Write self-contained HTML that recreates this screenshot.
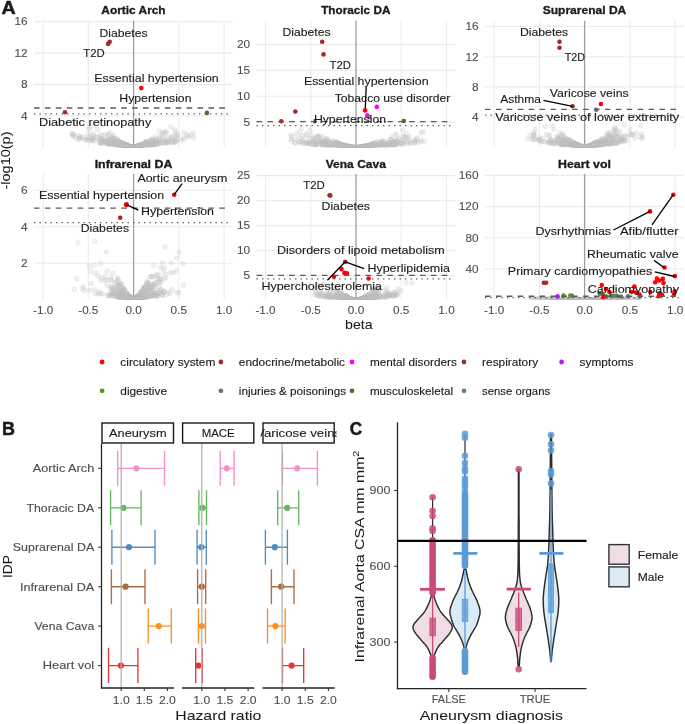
<!DOCTYPE html>
<html><head><meta charset="utf-8"><style>
html,body{margin:0;padding:0;background:#fff;overflow:hidden;}
svg{display:block;will-change:transform;}
text{font-family:"Liberation Sans",sans-serif;}
</style></head><body>
<svg width="685" height="724" viewBox="0 0 685 724">
<rect width="685" height="724" fill="#fff"/>
<g id="panelA">
<path d="M34 116.0H233 M34 84.6H233 M34 53.1H233 M34 21.6H233 M43.1 20.7V147.3 M88.3 20.7V147.3 M178.8 20.7V147.3 M224.1 20.7V147.3" stroke="#ebebeb" stroke-width="1.1" fill="none"/>
<line x1="133.6" y1="20.7" x2="133.6" y2="147.3" stroke="#9e9e9e" stroke-width="1.3"/>
<clipPath id="cpAorticArch"><rect x="34" y="20.7" width="199" height="126.60000000000001"/></clipPath>
<g clip-path="url(#cpAorticArch)" fill="#c4c4c4" fill-opacity="0.25" stroke="#bdbdbd" stroke-opacity="0.3" stroke-width="0.6">
<circle cx="137.0" cy="146.3" r="2.4"/><circle cx="120.4" cy="142.1" r="2.4"/><circle cx="146.2" cy="141.8" r="2.4"/><circle cx="144.8" cy="145.8" r="2.4"/><circle cx="105.6" cy="142.4" r="2.4"/><circle cx="104.6" cy="134.7" r="2.4"/><circle cx="174.9" cy="140.0" r="2.4"/><circle cx="120.7" cy="143.0" r="2.4"/><circle cx="132.7" cy="147.4" r="2.4"/><circle cx="108.8" cy="142.4" r="2.4"/><circle cx="146.1" cy="142.1" r="2.4"/><circle cx="149.2" cy="142.0" r="2.4"/><circle cx="148.9" cy="144.8" r="2.4"/><circle cx="131.6" cy="146.9" r="2.4"/><circle cx="119.1" cy="141.7" r="2.4"/><circle cx="129.6" cy="147.2" r="2.4"/><circle cx="163.1" cy="143.1" r="2.4"/><circle cx="144.1" cy="144.3" r="2.4"/><circle cx="118.4" cy="142.6" r="2.4"/><circle cx="150.0" cy="140.0" r="2.4"/><circle cx="141.0" cy="146.8" r="2.4"/><circle cx="142.7" cy="145.3" r="2.4"/><circle cx="73.2" cy="135.9" r="2.4"/><circle cx="113.5" cy="140.8" r="2.4"/><circle cx="107.6" cy="142.2" r="2.4"/><circle cx="146.3" cy="144.6" r="2.4"/><circle cx="143.5" cy="144.5" r="2.4"/><circle cx="134.5" cy="147.4" r="2.4"/><circle cx="137.9" cy="146.0" r="2.4"/><circle cx="140.4" cy="145.3" r="2.4"/><circle cx="149.6" cy="145.7" r="2.4"/><circle cx="124.0" cy="146.3" r="2.4"/><circle cx="131.5" cy="147.0" r="2.4"/><circle cx="174.8" cy="129.9" r="2.4"/><circle cx="146.1" cy="142.1" r="2.4"/><circle cx="171.8" cy="137.7" r="2.4"/><circle cx="138.3" cy="146.2" r="2.4"/><circle cx="125.1" cy="146.5" r="2.4"/><circle cx="143.0" cy="145.2" r="2.4"/><circle cx="132.1" cy="147.2" r="2.4"/><circle cx="93.7" cy="134.5" r="2.4"/><circle cx="101.6" cy="140.0" r="2.4"/><circle cx="139.4" cy="146.6" r="2.4"/><circle cx="124.4" cy="144.7" r="2.4"/><circle cx="120.3" cy="143.3" r="2.4"/><circle cx="125.8" cy="144.9" r="2.4"/><circle cx="151.9" cy="143.9" r="2.4"/><circle cx="131.7" cy="147.2" r="2.4"/><circle cx="128.3" cy="147.0" r="2.4"/><circle cx="153.8" cy="141.3" r="2.4"/><circle cx="127.2" cy="145.7" r="2.4"/><circle cx="154.0" cy="141.3" r="2.4"/><circle cx="155.0" cy="136.8" r="2.4"/><circle cx="131.0" cy="146.9" r="2.4"/><circle cx="113.0" cy="140.7" r="2.4"/><circle cx="135.1" cy="147.4" r="2.4"/><circle cx="138.6" cy="146.4" r="2.4"/><circle cx="159.6" cy="138.4" r="2.4"/><circle cx="123.6" cy="143.4" r="2.4"/><circle cx="125.0" cy="145.0" r="2.4"/><circle cx="151.2" cy="142.2" r="2.4"/><circle cx="135.3" cy="147.2" r="2.4"/><circle cx="121.1" cy="143.9" r="2.4"/><circle cx="133.8" cy="147.4" r="2.4"/><circle cx="153.5" cy="145.2" r="2.4"/><circle cx="152.4" cy="144.6" r="2.4"/><circle cx="116.8" cy="145.5" r="2.4"/><circle cx="162.9" cy="142.7" r="2.4"/><circle cx="146.7" cy="144.6" r="2.4"/><circle cx="151.6" cy="139.4" r="2.4"/><circle cx="135.0" cy="147.3" r="2.4"/><circle cx="147.6" cy="145.1" r="2.4"/><circle cx="128.0" cy="146.2" r="2.4"/><circle cx="134.3" cy="147.4" r="2.4"/><circle cx="150.9" cy="143.6" r="2.4"/><circle cx="113.8" cy="143.2" r="2.4"/><circle cx="167.5" cy="142.4" r="2.4"/><circle cx="137.1" cy="146.8" r="2.4"/><circle cx="107.0" cy="140.9" r="2.4"/><circle cx="159.2" cy="141.2" r="2.4"/><circle cx="138.9" cy="146.5" r="2.4"/><circle cx="120.6" cy="146.2" r="2.4"/><circle cx="113.9" cy="144.4" r="2.4"/><circle cx="120.5" cy="143.9" r="2.4"/><circle cx="181.0" cy="140.4" r="2.4"/><circle cx="171.6" cy="142.4" r="2.4"/><circle cx="147.1" cy="144.1" r="2.4"/><circle cx="110.2" cy="132.8" r="2.4"/><circle cx="78.6" cy="135.9" r="2.4"/><circle cx="111.6" cy="137.6" r="2.4"/><circle cx="155.3" cy="142.3" r="2.4"/><circle cx="193.6" cy="132.9" r="2.4"/><circle cx="106.5" cy="142.0" r="2.4"/><circle cx="150.6" cy="145.0" r="2.4"/><circle cx="119.4" cy="144.8" r="2.4"/><circle cx="148.5" cy="143.5" r="2.4"/><circle cx="100.1" cy="142.3" r="2.4"/><circle cx="120.3" cy="143.1" r="2.4"/><circle cx="159.8" cy="143.4" r="2.4"/><circle cx="91.4" cy="135.5" r="2.4"/><circle cx="133.4" cy="147.5" r="2.4"/><circle cx="166.8" cy="139.5" r="2.4"/><circle cx="147.0" cy="143.2" r="2.4"/><circle cx="137.9" cy="146.3" r="2.4"/><circle cx="118.8" cy="145.9" r="2.4"/><circle cx="125.4" cy="144.3" r="2.4"/><circle cx="80.2" cy="136.3" r="2.4"/><circle cx="102.4" cy="139.4" r="2.4"/><circle cx="100.0" cy="142.1" r="2.4"/><circle cx="94.1" cy="136.3" r="2.4"/><circle cx="173.8" cy="142.3" r="2.4"/><circle cx="117.7" cy="140.5" r="2.4"/><circle cx="133.6" cy="147.5" r="2.4"/><circle cx="96.1" cy="137.7" r="2.4"/><circle cx="136.9" cy="147.1" r="2.4"/><circle cx="183.7" cy="139.1" r="2.4"/><circle cx="152.6" cy="143.9" r="2.4"/><circle cx="124.7" cy="146.3" r="2.4"/><circle cx="134.0" cy="147.4" r="2.4"/><circle cx="91.6" cy="140.3" r="2.4"/><circle cx="132.7" cy="147.3" r="2.4"/><circle cx="141.1" cy="146.5" r="2.4"/><circle cx="147.1" cy="144.2" r="2.4"/><circle cx="147.1" cy="142.1" r="2.4"/><circle cx="130.3" cy="146.5" r="2.4"/><circle cx="127.2" cy="145.0" r="2.4"/><circle cx="115.0" cy="145.1" r="2.4"/><circle cx="130.9" cy="146.7" r="2.4"/><circle cx="186.7" cy="134.6" r="2.4"/><circle cx="113.0" cy="139.1" r="2.4"/><circle cx="137.7" cy="146.8" r="2.4"/><circle cx="86.0" cy="139.6" r="2.4"/><circle cx="188.4" cy="136.8" r="2.4"/><circle cx="127.3" cy="146.1" r="2.4"/><circle cx="113.3" cy="139.4" r="2.4"/><circle cx="95.0" cy="140.7" r="2.4"/><circle cx="159.5" cy="131.4" r="2.4"/><circle cx="175.7" cy="132.1" r="2.4"/><circle cx="121.7" cy="144.1" r="2.4"/><circle cx="100.5" cy="143.1" r="2.4"/><circle cx="127.8" cy="146.9" r="2.4"/><circle cx="91.9" cy="139.4" r="2.4"/><circle cx="115.2" cy="144.2" r="2.4"/><circle cx="137.2" cy="147.1" r="2.4"/><circle cx="130.1" cy="146.8" r="2.4"/><circle cx="191.9" cy="135.6" r="2.4"/><circle cx="156.0" cy="139.1" r="2.4"/><circle cx="131.0" cy="147.1" r="2.4"/><circle cx="133.1" cy="147.4" r="2.4"/><circle cx="113.8" cy="143.5" r="2.4"/><circle cx="131.2" cy="147.3" r="2.4"/><circle cx="166.7" cy="131.8" r="2.4"/><circle cx="114.9" cy="144.6" r="2.4"/><circle cx="140.6" cy="146.6" r="2.4"/><circle cx="148.7" cy="142.9" r="2.4"/><circle cx="72.8" cy="135.6" r="2.4"/><circle cx="102.1" cy="142.1" r="2.4"/><circle cx="162.5" cy="132.5" r="2.4"/><circle cx="121.4" cy="143.7" r="2.4"/><circle cx="118.8" cy="145.0" r="2.4"/><circle cx="149.2" cy="142.5" r="2.4"/><circle cx="92.7" cy="140.6" r="2.4"/><circle cx="149.3" cy="145.8" r="2.4"/><circle cx="152.8" cy="140.1" r="2.4"/><circle cx="149.2" cy="143.2" r="2.4"/><circle cx="132.2" cy="147.3" r="2.4"/><circle cx="139.9" cy="146.1" r="2.4"/><circle cx="115.4" cy="144.1" r="2.4"/><circle cx="139.8" cy="146.9" r="2.4"/><circle cx="148.5" cy="144.3" r="2.4"/><circle cx="119.1" cy="145.1" r="2.4"/><circle cx="120.2" cy="145.9" r="2.4"/><circle cx="89.1" cy="127.4" r="2.4"/><circle cx="134.2" cy="147.4" r="2.4"/><circle cx="149.9" cy="145.4" r="2.4"/><circle cx="118.0" cy="139.8" r="2.4"/><circle cx="126.4" cy="144.7" r="2.4"/><circle cx="131.9" cy="147.3" r="2.4"/><circle cx="134.3" cy="147.3" r="2.4"/><circle cx="135.6" cy="147.0" r="2.4"/><circle cx="159.0" cy="143.9" r="2.4"/><circle cx="121.4" cy="143.4" r="2.4"/><circle cx="135.2" cy="147.3" r="2.4"/><circle cx="127.5" cy="146.5" r="2.4"/><circle cx="137.5" cy="146.3" r="2.4"/><circle cx="120.0" cy="143.9" r="2.4"/><circle cx="138.1" cy="146.9" r="2.4"/><circle cx="121.3" cy="143.9" r="2.4"/><circle cx="100.0" cy="142.8" r="2.4"/><circle cx="136.4" cy="146.7" r="2.4"/><circle cx="113.5" cy="138.2" r="2.4"/><circle cx="108.8" cy="139.2" r="2.4"/><circle cx="121.4" cy="146.2" r="2.4"/><circle cx="113.9" cy="140.4" r="2.4"/><circle cx="175.1" cy="141.8" r="2.4"/><circle cx="137.7" cy="146.8" r="2.4"/><circle cx="121.6" cy="145.5" r="2.4"/><circle cx="133.6" cy="147.5" r="2.4"/><circle cx="146.2" cy="143.3" r="2.4"/><circle cx="91.6" cy="140.4" r="2.4"/><circle cx="136.8" cy="147.1" r="2.4"/><circle cx="134.0" cy="147.4" r="2.4"/><circle cx="109.3" cy="141.4" r="2.4"/><circle cx="133.8" cy="147.5" r="2.4"/><circle cx="122.4" cy="144.5" r="2.4"/><circle cx="100.0" cy="135.8" r="2.4"/><circle cx="162.1" cy="134.0" r="2.4"/><circle cx="166.4" cy="143.2" r="2.4"/><circle cx="149.4" cy="143.8" r="2.4"/><circle cx="113.8" cy="144.8" r="2.4"/><circle cx="109.1" cy="144.0" r="2.4"/><circle cx="165.7" cy="142.7" r="2.4"/><circle cx="104.7" cy="140.3" r="2.4"/><circle cx="115.4" cy="138.3" r="2.4"/><circle cx="142.1" cy="145.6" r="2.4"/><circle cx="127.1" cy="145.1" r="2.4"/><circle cx="171.2" cy="139.2" r="2.4"/><circle cx="134.9" cy="147.3" r="2.4"/><circle cx="108.8" cy="140.1" r="2.4"/><circle cx="129.1" cy="146.6" r="2.4"/><circle cx="110.2" cy="143.7" r="2.4"/><circle cx="127.0" cy="145.6" r="2.4"/><circle cx="152.2" cy="143.1" r="2.4"/><circle cx="120.5" cy="145.0" r="2.4"/><circle cx="146.3" cy="141.8" r="2.4"/><circle cx="123.4" cy="146.2" r="2.4"/><circle cx="101.3" cy="143.3" r="2.4"/><circle cx="89.5" cy="129.2" r="2.4"/><circle cx="140.1" cy="145.1" r="2.4"/><circle cx="102.3" cy="140.7" r="2.4"/><circle cx="139.0" cy="145.8" r="2.4"/><circle cx="193.7" cy="138.0" r="2.4"/><circle cx="137.4" cy="146.4" r="2.4"/><circle cx="128.5" cy="146.7" r="2.4"/><circle cx="156.0" cy="142.2" r="2.4"/><circle cx="82.8" cy="137.0" r="2.4"/><circle cx="177.7" cy="139.2" r="2.4"/><circle cx="169.1" cy="142.3" r="2.4"/><circle cx="116.2" cy="142.3" r="2.4"/><circle cx="133.6" cy="147.5" r="2.4"/><circle cx="117.4" cy="141.8" r="2.4"/><circle cx="165.0" cy="131.9" r="2.4"/><circle cx="127.9" cy="145.4" r="2.4"/><circle cx="175.8" cy="141.4" r="2.4"/><circle cx="133.5" cy="147.5" r="2.4"/><circle cx="120.9" cy="143.8" r="2.4"/><circle cx="123.2" cy="146.5" r="2.4"/><circle cx="132.7" cy="147.4" r="2.4"/><circle cx="152.1" cy="143.4" r="2.4"/><circle cx="160.0" cy="140.8" r="2.4"/><circle cx="145.8" cy="144.2" r="2.4"/><circle cx="132.8" cy="147.4" r="2.4"/><circle cx="107.7" cy="143.1" r="2.4"/><circle cx="171.8" cy="136.4" r="2.4"/><circle cx="142.9" cy="144.4" r="2.4"/><circle cx="143.1" cy="146.6" r="2.4"/><circle cx="104.2" cy="141.6" r="2.4"/><circle cx="122.5" cy="142.4" r="2.4"/><circle cx="134.3" cy="147.4" r="2.4"/><circle cx="127.6" cy="146.8" r="2.4"/><circle cx="176.3" cy="137.3" r="2.4"/><circle cx="144.4" cy="145.4" r="2.4"/><circle cx="134.3" cy="147.3" r="2.4"/><circle cx="121.4" cy="146.1" r="2.4"/><circle cx="123.7" cy="144.1" r="2.4"/><circle cx="163.9" cy="141.1" r="2.4"/><circle cx="135.0" cy="147.3" r="2.4"/><circle cx="130.9" cy="146.6" r="2.4"/><circle cx="135.4" cy="147.3" r="2.4"/><circle cx="188.0" cy="135.9" r="2.4"/><circle cx="88.0" cy="137.4" r="2.4"/><circle cx="71.6" cy="133.7" r="2.4"/><circle cx="175.1" cy="134.9" r="2.4"/><circle cx="141.0" cy="144.7" r="2.4"/><circle cx="134.3" cy="147.3" r="2.4"/><circle cx="123.1" cy="144.7" r="2.4"/><circle cx="173.1" cy="142.3" r="2.4"/><circle cx="122.1" cy="145.1" r="2.4"/><circle cx="112.5" cy="143.7" r="2.4"/><circle cx="108.6" cy="144.5" r="2.4"/><circle cx="125.7" cy="146.7" r="2.4"/><circle cx="150.5" cy="143.4" r="2.4"/><circle cx="175.9" cy="141.6" r="2.4"/><circle cx="177.6" cy="134.8" r="2.4"/><circle cx="133.6" cy="147.5" r="2.4"/><circle cx="129.5" cy="147.1" r="2.4"/><circle cx="137.8" cy="146.4" r="2.4"/><circle cx="86.3" cy="139.7" r="2.4"/><circle cx="131.7" cy="147.0" r="2.4"/><circle cx="153.6" cy="143.8" r="2.4"/><circle cx="141.1" cy="146.6" r="2.4"/><circle cx="130.0" cy="146.8" r="2.4"/><circle cx="141.0" cy="145.5" r="2.4"/><circle cx="129.7" cy="147.0" r="2.4"/><circle cx="171.0" cy="126.8" r="2.4"/><circle cx="152.5" cy="144.8" r="2.4"/><circle cx="89.3" cy="140.2" r="2.4"/><circle cx="135.6" cy="147.0" r="2.4"/><circle cx="86.1" cy="140.1" r="2.4"/><circle cx="173.0" cy="140.3" r="2.4"/><circle cx="73.6" cy="122.0" r="2.4"/><circle cx="130.9" cy="146.8" r="2.4"/><circle cx="124.5" cy="145.2" r="2.4"/><circle cx="159.5" cy="137.4" r="2.4"/><circle cx="129.7" cy="146.7" r="2.4"/><circle cx="140.8" cy="144.9" r="2.4"/><circle cx="119.9" cy="142.3" r="2.4"/><circle cx="168.5" cy="141.2" r="2.4"/><circle cx="127.2" cy="146.0" r="2.4"/><circle cx="137.1" cy="146.7" r="2.4"/><circle cx="110.0" cy="139.6" r="2.4"/><circle cx="159.1" cy="143.2" r="2.4"/><circle cx="137.3" cy="146.2" r="2.4"/><circle cx="130.5" cy="146.7" r="2.4"/><circle cx="139.9" cy="145.3" r="2.4"/><circle cx="136.9" cy="146.4" r="2.4"/><circle cx="143.8" cy="145.6" r="2.4"/><circle cx="125.9" cy="145.9" r="2.4"/><circle cx="88.0" cy="133.9" r="2.4"/><circle cx="109.8" cy="142.8" r="2.4"/><circle cx="162.7" cy="142.6" r="2.4"/><circle cx="126.8" cy="145.7" r="2.4"/><circle cx="146.6" cy="144.5" r="2.4"/><circle cx="137.2" cy="147.2" r="2.4"/><circle cx="116.0" cy="140.6" r="2.4"/><circle cx="145.8" cy="142.3" r="2.4"/><circle cx="152.4" cy="141.2" r="2.4"/><circle cx="139.4" cy="146.4" r="2.4"/><circle cx="135.2" cy="147.3" r="2.4"/><circle cx="166.0" cy="142.7" r="2.4"/><circle cx="139.4" cy="145.9" r="2.4"/><circle cx="110.8" cy="143.5" r="2.4"/><circle cx="125.1" cy="144.9" r="2.4"/><circle cx="121.3" cy="146.0" r="2.4"/><circle cx="154.4" cy="141.3" r="2.4"/><circle cx="139.7" cy="146.8" r="2.4"/><circle cx="137.5" cy="146.5" r="2.4"/><circle cx="116.3" cy="138.3" r="2.4"/><circle cx="132.6" cy="147.4" r="2.4"/><circle cx="134.3" cy="147.4" r="2.4"/><circle cx="107.6" cy="143.9" r="2.4"/><circle cx="125.6" cy="145.5" r="2.4"/><circle cx="136.7" cy="146.8" r="2.4"/><circle cx="110.8" cy="143.1" r="2.4"/><circle cx="123.0" cy="146.5" r="2.4"/><circle cx="118.1" cy="141.0" r="2.4"/><circle cx="163.1" cy="138.2" r="2.4"/><circle cx="106.1" cy="142.0" r="2.4"/><circle cx="106.0" cy="142.1" r="2.4"/><circle cx="133.8" cy="147.5" r="2.4"/><circle cx="124.4" cy="146.5" r="2.4"/><circle cx="102.9" cy="140.7" r="2.4"/><circle cx="117.9" cy="143.9" r="2.4"/><circle cx="140.6" cy="146.8" r="2.4"/><circle cx="136.6" cy="146.8" r="2.4"/><circle cx="122.1" cy="144.4" r="2.4"/><circle cx="117.4" cy="144.4" r="2.4"/><circle cx="147.9" cy="144.5" r="2.4"/><circle cx="115.5" cy="142.7" r="2.4"/><circle cx="183.7" cy="132.8" r="2.4"/><circle cx="147.0" cy="144.1" r="2.4"/><circle cx="130.5" cy="146.7" r="2.4"/><circle cx="139.7" cy="145.5" r="2.4"/><circle cx="93.2" cy="138.9" r="2.4"/><circle cx="101.9" cy="138.9" r="2.4"/><circle cx="157.3" cy="143.3" r="2.4"/><circle cx="135.9" cy="146.9" r="2.4"/><circle cx="126.2" cy="145.7" r="2.4"/><circle cx="131.3" cy="147.3" r="2.4"/><circle cx="147.0" cy="145.5" r="2.4"/><circle cx="147.2" cy="146.0" r="2.4"/><circle cx="134.9" cy="147.2" r="2.4"/><circle cx="152.2" cy="141.7" r="2.4"/><circle cx="165.5" cy="133.1" r="2.4"/><circle cx="135.7" cy="146.9" r="2.4"/><circle cx="136.9" cy="146.8" r="2.4"/><circle cx="126.0" cy="146.1" r="2.4"/><circle cx="142.0" cy="144.3" r="2.4"/><circle cx="119.0" cy="145.9" r="2.4"/><circle cx="120.0" cy="143.8" r="2.4"/><circle cx="108.0" cy="135.0" r="2.4"/><circle cx="140.5" cy="146.4" r="2.4"/><circle cx="142.6" cy="146.4" r="2.4"/><circle cx="81.2" cy="138.7" r="2.4"/><circle cx="134.1" cy="147.4" r="2.4"/><circle cx="124.8" cy="146.4" r="2.4"/><circle cx="113.0" cy="134.8" r="2.4"/><circle cx="97.6" cy="129.6" r="2.4"/><circle cx="136.4" cy="146.8" r="2.4"/><circle cx="145.2" cy="144.6" r="2.4"/><circle cx="146.8" cy="145.8" r="2.4"/><circle cx="149.8" cy="145.7" r="2.4"/><circle cx="129.8" cy="147.1" r="2.4"/><circle cx="72.6" cy="134.0" r="2.4"/><circle cx="111.1" cy="141.3" r="2.4"/><circle cx="125.4" cy="144.9" r="2.4"/><circle cx="143.9" cy="144.3" r="2.4"/><circle cx="127.7" cy="145.2" r="2.4"/><circle cx="148.6" cy="143.6" r="2.4"/><circle cx="162.3" cy="136.6" r="2.4"/><circle cx="126.6" cy="146.0" r="2.4"/><circle cx="154.1" cy="145.0" r="2.4"/><circle cx="122.1" cy="146.4" r="2.4"/><circle cx="108.0" cy="134.3" r="2.4"/><circle cx="128.6" cy="145.9" r="2.4"/><circle cx="126.1" cy="145.3" r="2.4"/><circle cx="144.2" cy="144.5" r="2.4"/><circle cx="171.3" cy="142.0" r="2.4"/><circle cx="156.5" cy="141.3" r="2.4"/><circle cx="145.5" cy="142.4" r="2.4"/><circle cx="153.1" cy="139.6" r="2.4"/><circle cx="138.1" cy="146.0" r="2.4"/><circle cx="141.5" cy="146.2" r="2.4"/><circle cx="112.9" cy="145.2" r="2.4"/><circle cx="155.0" cy="140.8" r="2.4"/><circle cx="103.6" cy="142.8" r="2.4"/><circle cx="166.6" cy="140.3" r="2.4"/><circle cx="146.6" cy="143.9" r="2.4"/><circle cx="109.7" cy="139.6" r="2.4"/><circle cx="145.5" cy="143.9" r="2.4"/><circle cx="146.0" cy="144.4" r="2.4"/><circle cx="141.7" cy="145.4" r="2.4"/><circle cx="94.2" cy="125.6" r="2.4"/><circle cx="137.1" cy="147.1" r="2.4"/><circle cx="131.8" cy="147.0" r="2.4"/><circle cx="134.6" cy="147.3" r="2.4"/><circle cx="138.2" cy="146.0" r="2.4"/><circle cx="97.7" cy="137.6" r="2.4"/><circle cx="139.3" cy="146.0" r="2.4"/><circle cx="132.3" cy="147.3" r="2.4"/><circle cx="125.3" cy="146.4" r="2.4"/><circle cx="110.2" cy="141.2" r="2.4"/><circle cx="119.8" cy="145.7" r="2.4"/><circle cx="138.3" cy="146.3" r="2.4"/><circle cx="168.5" cy="137.5" r="2.4"/><circle cx="121.1" cy="146.2" r="2.4"/><circle cx="126.5" cy="146.8" r="2.4"/><circle cx="80.2" cy="137.8" r="2.4"/><circle cx="100.2" cy="138.5" r="2.4"/><circle cx="126.9" cy="146.7" r="2.4"/><circle cx="78.8" cy="138.7" r="2.4"/><circle cx="139.2" cy="145.5" r="2.4"/><circle cx="140.8" cy="145.1" r="2.4"/><circle cx="149.3" cy="143.3" r="2.4"/><circle cx="132.3" cy="147.1" r="2.4"/><circle cx="125.4" cy="146.2" r="2.4"/><circle cx="109.3" cy="144.2" r="2.4"/><circle cx="101.5" cy="134.9" r="2.4"/><circle cx="142.9" cy="144.1" r="2.4"/><circle cx="146.2" cy="144.4" r="2.4"/><circle cx="137.1" cy="146.7" r="2.4"/><circle cx="157.3" cy="144.2" r="2.4"/><circle cx="146.6" cy="142.8" r="2.4"/><circle cx="121.2" cy="145.8" r="2.4"/><circle cx="147.6" cy="144.4" r="2.4"/><circle cx="75.7" cy="138.0" r="2.4"/><circle cx="146.4" cy="145.2" r="2.4"/><circle cx="118.1" cy="140.1" r="2.4"/><circle cx="126.2" cy="145.6" r="2.4"/><circle cx="155.0" cy="143.7" r="2.4"/><circle cx="147.0" cy="144.6" r="2.4"/><circle cx="116.8" cy="143.6" r="2.4"/><circle cx="99.9" cy="138.9" r="2.4"/><circle cx="134.7" cy="147.4" r="2.4"/><circle cx="129.6" cy="147.1" r="2.4"/><circle cx="129.4" cy="146.7" r="2.4"/><circle cx="107.2" cy="142.6" r="2.4"/><circle cx="140.6" cy="146.3" r="2.4"/><circle cx="107.3" cy="141.0" r="2.4"/><circle cx="146.7" cy="144.7" r="2.4"/><circle cx="136.0" cy="147.3" r="2.4"/><circle cx="118.6" cy="141.5" r="2.4"/><circle cx="116.5" cy="145.0" r="2.4"/><circle cx="138.0" cy="146.7" r="2.4"/><circle cx="119.0" cy="146.0" r="2.4"/><circle cx="149.4" cy="142.1" r="2.4"/><circle cx="177.4" cy="135.8" r="2.4"/><circle cx="156.4" cy="144.3" r="2.4"/><circle cx="121.9" cy="144.3" r="2.4"/><circle cx="140.2" cy="146.6" r="2.4"/><circle cx="142.4" cy="146.4" r="2.4"/><circle cx="123.6" cy="144.6" r="2.4"/><circle cx="135.9" cy="147.0" r="2.4"/><circle cx="149.5" cy="143.9" r="2.4"/><circle cx="183.5" cy="138.7" r="2.4"/><circle cx="106.4" cy="137.2" r="2.4"/><circle cx="132.5" cy="147.2" r="2.4"/><circle cx="137.2" cy="146.4" r="2.4"/><circle cx="136.8" cy="147.2" r="2.4"/><circle cx="140.5" cy="145.2" r="2.4"/><circle cx="160.8" cy="142.4" r="2.4"/><circle cx="152.0" cy="144.9" r="2.4"/><circle cx="113.0" cy="137.1" r="2.4"/><circle cx="122.7" cy="145.5" r="2.4"/><circle cx="126.1" cy="145.3" r="2.4"/><circle cx="148.2" cy="142.3" r="2.4"/><circle cx="128.4" cy="146.2" r="2.4"/><circle cx="130.9" cy="147.0" r="2.4"/><circle cx="78.9" cy="139.4" r="2.4"/><circle cx="119.3" cy="143.9" r="2.4"/><circle cx="90.3" cy="137.4" r="2.4"/><circle cx="144.0" cy="144.5" r="2.4"/><circle cx="107.4" cy="139.9" r="2.4"/><circle cx="155.8" cy="143.8" r="2.4"/><circle cx="143.5" cy="146.3" r="2.4"/><circle cx="143.5" cy="146.0" r="2.4"/><circle cx="137.8" cy="146.7" r="2.4"/><circle cx="126.3" cy="146.5" r="2.4"/><circle cx="152.1" cy="143.9" r="2.4"/><circle cx="140.9" cy="146.2" r="2.4"/><circle cx="105.9" cy="143.3" r="2.4"/><circle cx="111.6" cy="138.4" r="2.4"/><circle cx="156.3" cy="141.4" r="2.4"/><circle cx="121.7" cy="144.2" r="2.4"/><circle cx="73.8" cy="134.3" r="2.4"/><circle cx="144.9" cy="142.5" r="2.4"/><circle cx="131.6" cy="147.0" r="2.4"/><circle cx="125.9" cy="144.4" r="2.4"/><circle cx="126.4" cy="145.3" r="2.4"/><circle cx="125.9" cy="146.5" r="2.4"/><circle cx="107.3" cy="141.9" r="2.4"/><circle cx="122.8" cy="142.9" r="2.4"/><circle cx="110.6" cy="139.7" r="2.4"/><circle cx="155.8" cy="144.9" r="2.4"/><circle cx="156.2" cy="140.3" r="2.4"/><circle cx="136.5" cy="146.9" r="2.4"/><circle cx="154.0" cy="142.3" r="2.4"/><circle cx="137.6" cy="146.5" r="2.4"/>
</g>
<text x="27.5" y="119.8" font-size="10.5" text-anchor="end" fill="#4d4d4d" stroke="#4d4d4d" stroke-width="0.1" textLength="6.6" lengthAdjust="spacingAndGlyphs">4</text>
<text x="27.5" y="88.4" font-size="10.5" text-anchor="end" fill="#4d4d4d" stroke="#4d4d4d" stroke-width="0.1" textLength="6.6" lengthAdjust="spacingAndGlyphs">8</text>
<text x="27.5" y="56.9" font-size="10.5" text-anchor="end" fill="#4d4d4d" stroke="#4d4d4d" stroke-width="0.1" textLength="13.1" lengthAdjust="spacingAndGlyphs">12</text>
<text x="27.5" y="25.4" font-size="10.5" text-anchor="end" fill="#4d4d4d" stroke="#4d4d4d" stroke-width="0.1" textLength="13.1" lengthAdjust="spacingAndGlyphs">16</text>
<text x="133.5" y="14.4" font-size="10.8" text-anchor="middle" font-weight="bold" fill="#1a1a1a" stroke="#1a1a1a" stroke-width="0.3" textLength="64.3" lengthAdjust="spacingAndGlyphs">Aortic Arch</text>
<path d="M256.5 122.0H455 M256.5 96.2H455 M256.5 70.4H455 M256.5 44.6H455 M265.5 20.7V147.3 M310.8 20.7V147.3 M401.2 20.7V147.3 M446.5 20.7V147.3" stroke="#ebebeb" stroke-width="1.1" fill="none"/>
<line x1="356.0" y1="20.7" x2="356.0" y2="147.3" stroke="#9e9e9e" stroke-width="1.3"/>
<clipPath id="cpThoracicDA"><rect x="256.5" y="20.7" width="198.5" height="126.60000000000001"/></clipPath>
<g clip-path="url(#cpThoracicDA)" fill="#c4c4c4" fill-opacity="0.25" stroke="#bdbdbd" stroke-opacity="0.3" stroke-width="0.6">
<circle cx="366.3" cy="146.9" r="2.4"/><circle cx="367.8" cy="146.9" r="2.4"/><circle cx="300.4" cy="141.5" r="2.4"/><circle cx="330.1" cy="144.5" r="2.4"/><circle cx="342.9" cy="144.9" r="2.4"/><circle cx="378.0" cy="144.5" r="2.4"/><circle cx="382.1" cy="141.8" r="2.4"/><circle cx="331.0" cy="146.2" r="2.4"/><circle cx="387.3" cy="144.9" r="2.4"/><circle cx="385.4" cy="145.1" r="2.4"/><circle cx="421.0" cy="132.9" r="2.4"/><circle cx="381.4" cy="142.5" r="2.4"/><circle cx="356.1" cy="147.8" r="2.4"/><circle cx="369.5" cy="146.9" r="2.4"/><circle cx="342.5" cy="145.6" r="2.4"/><circle cx="416.6" cy="138.0" r="2.4"/><circle cx="368.9" cy="146.4" r="2.4"/><circle cx="359.0" cy="147.4" r="2.4"/><circle cx="371.8" cy="145.6" r="2.4"/><circle cx="306.1" cy="134.0" r="2.4"/><circle cx="358.3" cy="147.5" r="2.4"/><circle cx="360.2" cy="147.3" r="2.4"/><circle cx="291.7" cy="141.2" r="2.4"/><circle cx="337.8" cy="144.2" r="2.4"/><circle cx="354.5" cy="147.6" r="2.4"/><circle cx="323.5" cy="137.5" r="2.4"/><circle cx="403.2" cy="136.2" r="2.4"/><circle cx="345.5" cy="145.7" r="2.4"/><circle cx="354.7" cy="147.6" r="2.4"/><circle cx="354.1" cy="147.5" r="2.4"/><circle cx="373.5" cy="145.8" r="2.4"/><circle cx="369.4" cy="146.0" r="2.4"/><circle cx="384.3" cy="145.5" r="2.4"/><circle cx="391.0" cy="139.8" r="2.4"/><circle cx="392.6" cy="142.5" r="2.4"/><circle cx="295.5" cy="139.2" r="2.4"/><circle cx="367.3" cy="147.0" r="2.4"/><circle cx="344.5" cy="146.3" r="2.4"/><circle cx="374.4" cy="146.3" r="2.4"/><circle cx="387.1" cy="142.2" r="2.4"/><circle cx="373.1" cy="144.4" r="2.4"/><circle cx="295.1" cy="142.8" r="2.4"/><circle cx="390.1" cy="145.1" r="2.4"/><circle cx="324.5" cy="143.6" r="2.4"/><circle cx="331.0" cy="142.7" r="2.4"/><circle cx="404.2" cy="136.6" r="2.4"/><circle cx="340.1" cy="146.8" r="2.4"/><circle cx="340.8" cy="146.9" r="2.4"/><circle cx="328.3" cy="139.4" r="2.4"/><circle cx="365.4" cy="146.9" r="2.4"/><circle cx="328.8" cy="144.9" r="2.4"/><circle cx="341.2" cy="144.9" r="2.4"/><circle cx="334.7" cy="143.9" r="2.4"/><circle cx="363.1" cy="146.9" r="2.4"/><circle cx="341.0" cy="145.1" r="2.4"/><circle cx="337.8" cy="145.6" r="2.4"/><circle cx="296.1" cy="133.5" r="2.4"/><circle cx="385.6" cy="145.9" r="2.4"/><circle cx="319.6" cy="141.0" r="2.4"/><circle cx="308.9" cy="143.5" r="2.4"/><circle cx="368.9" cy="147.1" r="2.4"/><circle cx="366.4" cy="145.8" r="2.4"/><circle cx="361.5" cy="147.5" r="2.4"/><circle cx="380.6" cy="145.1" r="2.4"/><circle cx="362.8" cy="146.7" r="2.4"/><circle cx="299.5" cy="141.5" r="2.4"/><circle cx="363.5" cy="147.4" r="2.4"/><circle cx="371.1" cy="144.6" r="2.4"/><circle cx="350.2" cy="146.8" r="2.4"/><circle cx="334.1" cy="144.5" r="2.4"/><circle cx="368.4" cy="147.0" r="2.4"/><circle cx="402.8" cy="130.1" r="2.4"/><circle cx="334.2" cy="145.9" r="2.4"/><circle cx="378.5" cy="145.9" r="2.4"/><circle cx="376.3" cy="145.3" r="2.4"/><circle cx="410.6" cy="142.7" r="2.4"/><circle cx="342.8" cy="145.9" r="2.4"/><circle cx="396.9" cy="143.8" r="2.4"/><circle cx="360.7" cy="147.4" r="2.4"/><circle cx="389.5" cy="145.3" r="2.4"/><circle cx="351.5" cy="147.3" r="2.4"/><circle cx="358.9" cy="147.4" r="2.4"/><circle cx="329.2" cy="143.7" r="2.4"/><circle cx="380.9" cy="144.9" r="2.4"/><circle cx="403.8" cy="143.9" r="2.4"/><circle cx="354.6" cy="147.6" r="2.4"/><circle cx="338.4" cy="146.0" r="2.4"/><circle cx="331.9" cy="145.3" r="2.4"/><circle cx="376.8" cy="145.1" r="2.4"/><circle cx="323.2" cy="141.9" r="2.4"/><circle cx="340.7" cy="146.7" r="2.4"/><circle cx="363.2" cy="147.2" r="2.4"/><circle cx="308.7" cy="143.4" r="2.4"/><circle cx="325.6" cy="143.8" r="2.4"/><circle cx="375.0" cy="145.4" r="2.4"/><circle cx="337.3" cy="145.2" r="2.4"/><circle cx="348.5" cy="146.5" r="2.4"/><circle cx="302.7" cy="143.0" r="2.4"/><circle cx="323.2" cy="145.2" r="2.4"/><circle cx="362.2" cy="146.9" r="2.4"/><circle cx="370.4" cy="144.9" r="2.4"/><circle cx="350.0" cy="147.3" r="2.4"/><circle cx="335.8" cy="145.8" r="2.4"/><circle cx="369.1" cy="146.7" r="2.4"/><circle cx="345.7" cy="146.5" r="2.4"/><circle cx="354.0" cy="147.5" r="2.4"/><circle cx="414.3" cy="142.7" r="2.4"/><circle cx="319.2" cy="143.7" r="2.4"/><circle cx="420.6" cy="142.1" r="2.4"/><circle cx="336.9" cy="144.7" r="2.4"/><circle cx="360.2" cy="147.2" r="2.4"/><circle cx="357.7" cy="147.6" r="2.4"/><circle cx="343.7" cy="146.5" r="2.4"/><circle cx="332.8" cy="143.9" r="2.4"/><circle cx="315.2" cy="142.5" r="2.4"/><circle cx="351.3" cy="147.0" r="2.4"/><circle cx="414.4" cy="141.3" r="2.4"/><circle cx="351.5" cy="147.1" r="2.4"/><circle cx="363.6" cy="146.8" r="2.4"/><circle cx="351.0" cy="147.5" r="2.4"/><circle cx="347.1" cy="146.7" r="2.4"/><circle cx="338.2" cy="145.9" r="2.4"/><circle cx="336.4" cy="143.6" r="2.4"/><circle cx="352.5" cy="147.3" r="2.4"/><circle cx="367.6" cy="146.1" r="2.4"/><circle cx="368.5" cy="146.6" r="2.4"/><circle cx="299.2" cy="142.9" r="2.4"/><circle cx="341.5" cy="146.9" r="2.4"/><circle cx="342.1" cy="145.2" r="2.4"/><circle cx="355.7" cy="147.8" r="2.4"/><circle cx="323.8" cy="141.6" r="2.4"/><circle cx="387.7" cy="143.4" r="2.4"/><circle cx="410.1" cy="143.0" r="2.4"/><circle cx="320.0" cy="139.7" r="2.4"/><circle cx="364.8" cy="146.3" r="2.4"/><circle cx="330.1" cy="146.2" r="2.4"/><circle cx="371.2" cy="144.4" r="2.4"/><circle cx="327.8" cy="145.6" r="2.4"/><circle cx="353.6" cy="147.4" r="2.4"/><circle cx="421.2" cy="140.2" r="2.4"/><circle cx="362.1" cy="147.0" r="2.4"/><circle cx="388.5" cy="143.7" r="2.4"/><circle cx="357.8" cy="147.6" r="2.4"/><circle cx="341.4" cy="146.3" r="2.4"/><circle cx="372.6" cy="143.5" r="2.4"/><circle cx="365.7" cy="146.8" r="2.4"/><circle cx="359.6" cy="147.5" r="2.4"/><circle cx="318.7" cy="136.2" r="2.4"/><circle cx="313.7" cy="144.5" r="2.4"/><circle cx="307.6" cy="143.1" r="2.4"/><circle cx="343.8" cy="146.7" r="2.4"/><circle cx="341.4" cy="145.9" r="2.4"/><circle cx="346.9" cy="145.9" r="2.4"/><circle cx="344.6" cy="146.4" r="2.4"/><circle cx="340.1" cy="143.8" r="2.4"/><circle cx="322.1" cy="145.4" r="2.4"/><circle cx="378.2" cy="146.2" r="2.4"/><circle cx="315.5" cy="144.7" r="2.4"/><circle cx="303.7" cy="143.2" r="2.4"/><circle cx="393.9" cy="141.8" r="2.4"/><circle cx="327.9" cy="144.1" r="2.4"/><circle cx="351.4" cy="147.2" r="2.4"/><circle cx="333.2" cy="141.7" r="2.4"/><circle cx="345.9" cy="147.1" r="2.4"/><circle cx="360.7" cy="147.2" r="2.4"/><circle cx="326.3" cy="139.9" r="2.4"/><circle cx="375.9" cy="144.3" r="2.4"/><circle cx="371.0" cy="146.9" r="2.4"/><circle cx="395.2" cy="143.2" r="2.4"/><circle cx="377.4" cy="145.9" r="2.4"/><circle cx="381.4" cy="141.0" r="2.4"/><circle cx="331.6" cy="144.8" r="2.4"/><circle cx="303.2" cy="141.1" r="2.4"/><circle cx="310.6" cy="134.9" r="2.4"/><circle cx="315.8" cy="143.8" r="2.4"/><circle cx="360.7" cy="146.9" r="2.4"/><circle cx="372.8" cy="145.4" r="2.4"/><circle cx="357.5" cy="147.7" r="2.4"/><circle cx="366.0" cy="147.0" r="2.4"/><circle cx="371.0" cy="144.7" r="2.4"/><circle cx="340.8" cy="145.9" r="2.4"/><circle cx="326.4" cy="138.7" r="2.4"/><circle cx="361.3" cy="146.8" r="2.4"/><circle cx="333.8" cy="142.8" r="2.4"/><circle cx="344.3" cy="146.2" r="2.4"/><circle cx="383.9" cy="144.8" r="2.4"/><circle cx="333.4" cy="144.8" r="2.4"/><circle cx="336.6" cy="145.8" r="2.4"/><circle cx="402.6" cy="140.3" r="2.4"/><circle cx="344.9" cy="145.9" r="2.4"/><circle cx="397.2" cy="144.8" r="2.4"/><circle cx="350.6" cy="147.1" r="2.4"/><circle cx="359.1" cy="147.5" r="2.4"/><circle cx="348.0" cy="147.2" r="2.4"/><circle cx="327.7" cy="141.6" r="2.4"/><circle cx="383.2" cy="146.1" r="2.4"/><circle cx="379.1" cy="145.6" r="2.4"/><circle cx="354.4" cy="147.6" r="2.4"/><circle cx="348.3" cy="146.9" r="2.4"/><circle cx="391.0" cy="139.7" r="2.4"/><circle cx="354.1" cy="147.6" r="2.4"/><circle cx="314.2" cy="140.4" r="2.4"/><circle cx="339.6" cy="146.2" r="2.4"/><circle cx="375.9" cy="145.4" r="2.4"/><circle cx="328.9" cy="145.7" r="2.4"/><circle cx="346.4" cy="146.9" r="2.4"/><circle cx="380.5" cy="142.9" r="2.4"/><circle cx="394.4" cy="141.1" r="2.4"/><circle cx="375.6" cy="145.0" r="2.4"/><circle cx="338.2" cy="144.8" r="2.4"/><circle cx="338.3" cy="146.3" r="2.4"/><circle cx="414.9" cy="140.3" r="2.4"/><circle cx="396.3" cy="140.4" r="2.4"/><circle cx="349.2" cy="146.8" r="2.4"/><circle cx="375.5" cy="146.0" r="2.4"/><circle cx="406.6" cy="133.9" r="2.4"/><circle cx="333.5" cy="144.8" r="2.4"/><circle cx="367.5" cy="146.4" r="2.4"/><circle cx="346.8" cy="146.2" r="2.4"/><circle cx="360.0" cy="147.3" r="2.4"/><circle cx="357.3" cy="147.6" r="2.4"/><circle cx="315.8" cy="144.5" r="2.4"/><circle cx="348.1" cy="146.3" r="2.4"/><circle cx="372.4" cy="146.3" r="2.4"/><circle cx="352.8" cy="147.3" r="2.4"/><circle cx="365.6" cy="146.3" r="2.4"/><circle cx="337.9" cy="143.6" r="2.4"/><circle cx="369.7" cy="145.3" r="2.4"/><circle cx="379.4" cy="145.7" r="2.4"/><circle cx="345.6" cy="146.6" r="2.4"/><circle cx="334.6" cy="145.2" r="2.4"/><circle cx="311.9" cy="141.9" r="2.4"/><circle cx="351.2" cy="147.5" r="2.4"/><circle cx="365.6" cy="145.9" r="2.4"/><circle cx="319.6" cy="136.2" r="2.4"/><circle cx="397.4" cy="142.6" r="2.4"/><circle cx="371.6" cy="144.6" r="2.4"/><circle cx="409.3" cy="137.2" r="2.4"/><circle cx="389.0" cy="142.3" r="2.4"/><circle cx="338.5" cy="144.6" r="2.4"/><circle cx="366.1" cy="146.5" r="2.4"/><circle cx="354.4" cy="147.7" r="2.4"/><circle cx="340.9" cy="146.6" r="2.4"/><circle cx="374.6" cy="145.0" r="2.4"/><circle cx="391.5" cy="144.7" r="2.4"/><circle cx="345.0" cy="145.9" r="2.4"/><circle cx="374.7" cy="142.5" r="2.4"/><circle cx="353.1" cy="147.4" r="2.4"/><circle cx="312.5" cy="144.4" r="2.4"/><circle cx="357.3" cy="147.6" r="2.4"/><circle cx="374.5" cy="143.6" r="2.4"/><circle cx="349.5" cy="147.0" r="2.4"/><circle cx="346.9" cy="146.4" r="2.4"/><circle cx="343.3" cy="147.0" r="2.4"/><circle cx="309.8" cy="142.3" r="2.4"/><circle cx="372.2" cy="144.1" r="2.4"/><circle cx="367.5" cy="145.4" r="2.4"/><circle cx="322.5" cy="143.8" r="2.4"/><circle cx="342.0" cy="146.4" r="2.4"/><circle cx="325.9" cy="145.9" r="2.4"/><circle cx="313.8" cy="138.7" r="2.4"/><circle cx="360.5" cy="147.3" r="2.4"/><circle cx="367.9" cy="146.9" r="2.4"/><circle cx="358.9" cy="147.5" r="2.4"/><circle cx="382.3" cy="144.0" r="2.4"/><circle cx="328.2" cy="143.5" r="2.4"/><circle cx="347.7" cy="147.2" r="2.4"/><circle cx="351.3" cy="147.1" r="2.4"/><circle cx="337.8" cy="145.7" r="2.4"/><circle cx="381.1" cy="145.4" r="2.4"/><circle cx="351.7" cy="147.1" r="2.4"/><circle cx="372.9" cy="146.2" r="2.4"/><circle cx="417.6" cy="142.3" r="2.4"/><circle cx="341.9" cy="144.4" r="2.4"/><circle cx="395.1" cy="141.5" r="2.4"/><circle cx="323.1" cy="145.0" r="2.4"/><circle cx="366.6" cy="146.1" r="2.4"/><circle cx="342.2" cy="145.2" r="2.4"/><circle cx="340.8" cy="146.0" r="2.4"/><circle cx="361.7" cy="146.7" r="2.4"/><circle cx="383.7" cy="141.2" r="2.4"/><circle cx="379.7" cy="144.4" r="2.4"/><circle cx="393.9" cy="144.9" r="2.4"/><circle cx="408.8" cy="140.5" r="2.4"/><circle cx="328.5" cy="144.5" r="2.4"/><circle cx="346.5" cy="146.2" r="2.4"/><circle cx="320.0" cy="141.4" r="2.4"/><circle cx="393.1" cy="144.9" r="2.4"/><circle cx="342.5" cy="146.5" r="2.4"/><circle cx="339.6" cy="144.6" r="2.4"/><circle cx="368.4" cy="146.6" r="2.4"/><circle cx="377.2" cy="146.1" r="2.4"/><circle cx="347.5" cy="146.4" r="2.4"/><circle cx="363.2" cy="146.8" r="2.4"/><circle cx="364.5" cy="146.6" r="2.4"/><circle cx="348.1" cy="147.2" r="2.4"/><circle cx="365.7" cy="146.9" r="2.4"/><circle cx="387.3" cy="145.4" r="2.4"/><circle cx="369.5" cy="145.0" r="2.4"/><circle cx="414.8" cy="142.7" r="2.4"/><circle cx="338.8" cy="145.7" r="2.4"/><circle cx="363.4" cy="146.5" r="2.4"/><circle cx="314.4" cy="140.8" r="2.4"/><circle cx="326.0" cy="143.1" r="2.4"/><circle cx="362.5" cy="147.4" r="2.4"/><circle cx="352.2" cy="147.5" r="2.4"/><circle cx="309.5" cy="138.2" r="2.4"/><circle cx="359.0" cy="147.4" r="2.4"/><circle cx="344.0" cy="145.3" r="2.4"/><circle cx="303.4" cy="138.9" r="2.4"/><circle cx="373.4" cy="146.5" r="2.4"/><circle cx="323.8" cy="144.1" r="2.4"/><circle cx="307.1" cy="143.2" r="2.4"/><circle cx="356.9" cy="147.7" r="2.4"/><circle cx="377.1" cy="141.7" r="2.4"/><circle cx="321.8" cy="139.3" r="2.4"/><circle cx="353.8" cy="147.7" r="2.4"/><circle cx="389.8" cy="144.9" r="2.4"/><circle cx="342.0" cy="146.0" r="2.4"/><circle cx="313.8" cy="137.9" r="2.4"/><circle cx="344.6" cy="146.6" r="2.4"/><circle cx="310.1" cy="130.3" r="2.4"/><circle cx="356.4" cy="147.8" r="2.4"/><circle cx="382.9" cy="145.0" r="2.4"/><circle cx="340.6" cy="144.4" r="2.4"/><circle cx="325.0" cy="141.8" r="2.4"/><circle cx="364.1" cy="146.2" r="2.4"/><circle cx="395.3" cy="134.5" r="2.4"/><circle cx="320.1" cy="142.0" r="2.4"/><circle cx="350.4" cy="146.8" r="2.4"/><circle cx="306.6" cy="135.5" r="2.4"/><circle cx="328.0" cy="144.4" r="2.4"/><circle cx="334.6" cy="146.0" r="2.4"/><circle cx="329.0" cy="146.0" r="2.4"/><circle cx="400.3" cy="142.6" r="2.4"/><circle cx="377.1" cy="144.3" r="2.4"/><circle cx="391.9" cy="137.2" r="2.4"/><circle cx="339.9" cy="145.8" r="2.4"/><circle cx="345.9" cy="145.7" r="2.4"/><circle cx="351.2" cy="147.1" r="2.4"/><circle cx="360.1" cy="147.3" r="2.4"/><circle cx="366.4" cy="147.2" r="2.4"/><circle cx="359.5" cy="147.4" r="2.4"/><circle cx="384.9" cy="145.8" r="2.4"/><circle cx="321.4" cy="141.8" r="2.4"/><circle cx="392.0" cy="143.3" r="2.4"/><circle cx="322.9" cy="142.7" r="2.4"/><circle cx="348.6" cy="146.8" r="2.4"/><circle cx="367.0" cy="146.8" r="2.4"/><circle cx="306.4" cy="143.0" r="2.4"/><circle cx="341.6" cy="146.3" r="2.4"/><circle cx="352.8" cy="147.4" r="2.4"/><circle cx="291.0" cy="139.3" r="2.4"/><circle cx="349.8" cy="147.3" r="2.4"/><circle cx="416.7" cy="139.6" r="2.4"/><circle cx="329.5" cy="144.2" r="2.4"/><circle cx="369.5" cy="145.4" r="2.4"/><circle cx="375.6" cy="145.0" r="2.4"/><circle cx="376.6" cy="143.8" r="2.4"/><circle cx="358.1" cy="147.6" r="2.4"/><circle cx="315.4" cy="144.6" r="2.4"/><circle cx="368.4" cy="147.1" r="2.4"/><circle cx="336.8" cy="142.7" r="2.4"/><circle cx="352.9" cy="147.3" r="2.4"/><circle cx="324.3" cy="145.1" r="2.4"/><circle cx="336.3" cy="143.8" r="2.4"/><circle cx="317.4" cy="136.2" r="2.4"/><circle cx="344.3" cy="146.8" r="2.4"/><circle cx="404.6" cy="141.1" r="2.4"/><circle cx="373.9" cy="144.1" r="2.4"/><circle cx="381.5" cy="145.5" r="2.4"/><circle cx="369.3" cy="146.8" r="2.4"/><circle cx="339.3" cy="146.1" r="2.4"/><circle cx="366.0" cy="145.5" r="2.4"/><circle cx="339.8" cy="144.1" r="2.4"/><circle cx="423.2" cy="131.9" r="2.4"/><circle cx="366.8" cy="146.5" r="2.4"/><circle cx="323.3" cy="143.2" r="2.4"/><circle cx="359.6" cy="147.6" r="2.4"/><circle cx="336.8" cy="143.6" r="2.4"/><circle cx="322.0" cy="144.3" r="2.4"/><circle cx="337.8" cy="142.7" r="2.4"/><circle cx="327.8" cy="141.5" r="2.4"/><circle cx="353.6" cy="147.6" r="2.4"/><circle cx="363.1" cy="147.3" r="2.4"/><circle cx="322.5" cy="144.2" r="2.4"/><circle cx="380.9" cy="143.3" r="2.4"/><circle cx="400.5" cy="144.2" r="2.4"/><circle cx="364.4" cy="146.9" r="2.4"/><circle cx="345.4" cy="147.2" r="2.4"/><circle cx="337.7" cy="143.4" r="2.4"/><circle cx="316.1" cy="145.0" r="2.4"/><circle cx="352.3" cy="147.4" r="2.4"/><circle cx="362.1" cy="147.0" r="2.4"/><circle cx="378.1" cy="142.2" r="2.4"/><circle cx="332.6" cy="145.7" r="2.4"/><circle cx="398.9" cy="138.9" r="2.4"/><circle cx="396.9" cy="135.7" r="2.4"/><circle cx="370.3" cy="145.9" r="2.4"/><circle cx="390.0" cy="139.7" r="2.4"/><circle cx="302.2" cy="136.0" r="2.4"/><circle cx="401.3" cy="142.9" r="2.4"/><circle cx="401.4" cy="143.6" r="2.4"/><circle cx="321.7" cy="144.9" r="2.4"/><circle cx="390.3" cy="142.6" r="2.4"/><circle cx="345.6" cy="147.1" r="2.4"/><circle cx="335.1" cy="146.3" r="2.4"/><circle cx="369.0" cy="146.7" r="2.4"/><circle cx="350.4" cy="147.5" r="2.4"/><circle cx="316.2" cy="137.3" r="2.4"/><circle cx="348.8" cy="146.6" r="2.4"/><circle cx="301.4" cy="128.5" r="2.4"/><circle cx="358.0" cy="147.5" r="2.4"/><circle cx="299.0" cy="137.9" r="2.4"/><circle cx="340.3" cy="145.3" r="2.4"/><circle cx="362.9" cy="147.2" r="2.4"/><circle cx="352.4" cy="147.5" r="2.4"/><circle cx="333.2" cy="144.6" r="2.4"/><circle cx="313.8" cy="141.1" r="2.4"/><circle cx="325.4" cy="144.8" r="2.4"/><circle cx="346.0" cy="147.2" r="2.4"/><circle cx="366.1" cy="146.8" r="2.4"/><circle cx="291.0" cy="135.6" r="2.4"/><circle cx="383.1" cy="141.3" r="2.4"/><circle cx="346.9" cy="146.2" r="2.4"/><circle cx="299.4" cy="132.2" r="2.4"/><circle cx="376.6" cy="145.6" r="2.4"/><circle cx="350.2" cy="146.9" r="2.4"/><circle cx="357.2" cy="147.7" r="2.4"/><circle cx="326.3" cy="142.7" r="2.4"/><circle cx="335.3" cy="144.5" r="2.4"/><circle cx="349.9" cy="146.6" r="2.4"/><circle cx="384.6" cy="145.0" r="2.4"/><circle cx="350.6" cy="147.1" r="2.4"/><circle cx="336.5" cy="141.9" r="2.4"/><circle cx="327.7" cy="144.6" r="2.4"/><circle cx="329.7" cy="141.8" r="2.4"/><circle cx="364.1" cy="147.1" r="2.4"/><circle cx="357.5" cy="147.6" r="2.4"/><circle cx="358.6" cy="147.5" r="2.4"/><circle cx="366.5" cy="146.6" r="2.4"/><circle cx="329.7" cy="143.6" r="2.4"/><circle cx="394.9" cy="144.8" r="2.4"/><circle cx="352.6" cy="147.4" r="2.4"/><circle cx="375.6" cy="146.3" r="2.4"/><circle cx="345.7" cy="146.2" r="2.4"/><circle cx="308.9" cy="141.7" r="2.4"/><circle cx="392.0" cy="145.2" r="2.4"/><circle cx="345.5" cy="146.5" r="2.4"/><circle cx="326.5" cy="145.7" r="2.4"/><circle cx="364.4" cy="146.5" r="2.4"/><circle cx="357.4" cy="147.7" r="2.4"/><circle cx="353.1" cy="147.5" r="2.4"/><circle cx="291.9" cy="136.6" r="2.4"/><circle cx="356.5" cy="147.7" r="2.4"/><circle cx="344.4" cy="146.3" r="2.4"/><circle cx="359.3" cy="147.4" r="2.4"/><circle cx="405.2" cy="137.4" r="2.4"/><circle cx="295.0" cy="142.7" r="2.4"/><circle cx="365.0" cy="146.4" r="2.4"/><circle cx="397.2" cy="141.8" r="2.4"/><circle cx="404.4" cy="144.1" r="2.4"/><circle cx="397.7" cy="141.5" r="2.4"/><circle cx="334.9" cy="144.8" r="2.4"/><circle cx="362.0" cy="146.7" r="2.4"/><circle cx="341.6" cy="146.3" r="2.4"/><circle cx="346.0" cy="146.4" r="2.4"/><circle cx="311.3" cy="144.1" r="2.4"/><circle cx="330.2" cy="145.4" r="2.4"/><circle cx="408.5" cy="143.3" r="2.4"/><circle cx="406.2" cy="142.1" r="2.4"/><circle cx="317.4" cy="141.9" r="2.4"/><circle cx="389.5" cy="143.7" r="2.4"/><circle cx="347.2" cy="146.6" r="2.4"/><circle cx="347.4" cy="147.2" r="2.4"/><circle cx="357.0" cy="147.7" r="2.4"/><circle cx="334.4" cy="146.5" r="2.4"/><circle cx="357.6" cy="147.6" r="2.4"/><circle cx="336.0" cy="143.5" r="2.4"/><circle cx="325.1" cy="144.2" r="2.4"/><circle cx="424.0" cy="141.3" r="2.4"/><circle cx="376.1" cy="146.1" r="2.4"/><circle cx="346.9" cy="147.0" r="2.4"/><circle cx="333.5" cy="140.7" r="2.4"/><circle cx="373.0" cy="145.8" r="2.4"/><circle cx="385.6" cy="144.4" r="2.4"/><circle cx="370.9" cy="144.6" r="2.4"/><circle cx="392.4" cy="144.4" r="2.4"/><circle cx="317.7" cy="136.5" r="2.4"/><circle cx="326.5" cy="140.3" r="2.4"/><circle cx="353.5" cy="147.6" r="2.4"/><circle cx="395.0" cy="143.0" r="2.4"/><circle cx="341.4" cy="144.8" r="2.4"/><circle cx="368.1" cy="147.0" r="2.4"/><circle cx="368.5" cy="147.0" r="2.4"/><circle cx="340.4" cy="143.7" r="2.4"/><circle cx="358.7" cy="147.3" r="2.4"/><circle cx="394.4" cy="144.6" r="2.4"/><circle cx="374.6" cy="145.1" r="2.4"/><circle cx="355.2" cy="147.7" r="2.4"/><circle cx="361.7" cy="147.1" r="2.4"/><circle cx="365.6" cy="146.3" r="2.4"/><circle cx="338.0" cy="144.9" r="2.4"/><circle cx="345.3" cy="145.3" r="2.4"/><circle cx="359.6" cy="147.4" r="2.4"/><circle cx="336.5" cy="142.1" r="2.4"/><circle cx="384.2" cy="144.5" r="2.4"/><circle cx="394.9" cy="144.7" r="2.4"/><circle cx="393.3" cy="145.2" r="2.4"/><circle cx="393.5" cy="141.7" r="2.4"/><circle cx="359.6" cy="147.6" r="2.4"/><circle cx="399.3" cy="140.3" r="2.4"/><circle cx="364.2" cy="147.3" r="2.4"/><circle cx="305.0" cy="143.3" r="2.4"/><circle cx="370.1" cy="144.8" r="2.4"/><circle cx="405.9" cy="137.9" r="2.4"/><circle cx="317.2" cy="144.1" r="2.4"/><circle cx="359.4" cy="147.3" r="2.4"/><circle cx="407.4" cy="137.6" r="2.4"/>
</g>
<text x="250.0" y="125.8" font-size="10.5" text-anchor="end" fill="#4d4d4d" stroke="#4d4d4d" stroke-width="0.1" textLength="6.6" lengthAdjust="spacingAndGlyphs">5</text>
<text x="250.0" y="100.0" font-size="10.5" text-anchor="end" fill="#4d4d4d" stroke="#4d4d4d" stroke-width="0.1" textLength="13.1" lengthAdjust="spacingAndGlyphs">10</text>
<text x="250.0" y="74.2" font-size="10.5" text-anchor="end" fill="#4d4d4d" stroke="#4d4d4d" stroke-width="0.1" textLength="13.1" lengthAdjust="spacingAndGlyphs">15</text>
<text x="250.0" y="48.4" font-size="10.5" text-anchor="end" fill="#4d4d4d" stroke="#4d4d4d" stroke-width="0.1" textLength="13.1" lengthAdjust="spacingAndGlyphs">20</text>
<text x="355.8" y="14.4" font-size="10.8" text-anchor="middle" font-weight="bold" fill="#1a1a1a" stroke="#1a1a1a" stroke-width="0.3" textLength="69.2" lengthAdjust="spacingAndGlyphs">Thoracic DA</text>
<path d="M485 117.1H684 M485 86.9H684 M485 56.7H684 M485 26.5H684 M494.1 20.7V147.3 M539.4 20.7V147.3 M629.9 20.7V147.3 M675.1 20.7V147.3" stroke="#ebebeb" stroke-width="1.1" fill="none"/>
<line x1="584.6" y1="20.7" x2="584.6" y2="147.3" stroke="#9e9e9e" stroke-width="1.3"/>
<clipPath id="cpSuprarenalDA"><rect x="485" y="20.7" width="199" height="126.60000000000001"/></clipPath>
<g clip-path="url(#cpSuprarenalDA)" fill="#c4c4c4" fill-opacity="0.25" stroke="#bdbdbd" stroke-opacity="0.3" stroke-width="0.6">
<circle cx="594.5" cy="143.9" r="2.4"/><circle cx="587.0" cy="146.8" r="2.4"/><circle cx="567.4" cy="142.3" r="2.4"/><circle cx="580.5" cy="146.4" r="2.4"/><circle cx="595.0" cy="146.1" r="2.4"/><circle cx="563.3" cy="144.0" r="2.4"/><circle cx="604.7" cy="141.4" r="2.4"/><circle cx="596.4" cy="143.6" r="2.4"/><circle cx="534.4" cy="133.1" r="2.4"/><circle cx="626.9" cy="137.0" r="2.4"/><circle cx="579.8" cy="146.5" r="2.4"/><circle cx="552.7" cy="140.9" r="2.4"/><circle cx="588.6" cy="146.0" r="2.4"/><circle cx="610.9" cy="136.4" r="2.4"/><circle cx="582.5" cy="146.9" r="2.4"/><circle cx="594.4" cy="145.1" r="2.4"/><circle cx="572.8" cy="144.2" r="2.4"/><circle cx="598.7" cy="144.6" r="2.4"/><circle cx="607.9" cy="133.5" r="2.4"/><circle cx="544.4" cy="141.8" r="2.4"/><circle cx="624.1" cy="140.2" r="2.4"/><circle cx="560.8" cy="144.5" r="2.4"/><circle cx="602.5" cy="144.2" r="2.4"/><circle cx="592.5" cy="145.4" r="2.4"/><circle cx="571.2" cy="144.0" r="2.4"/><circle cx="597.9" cy="145.0" r="2.4"/><circle cx="603.6" cy="138.8" r="2.4"/><circle cx="582.2" cy="147.1" r="2.4"/><circle cx="587.6" cy="146.3" r="2.4"/><circle cx="543.1" cy="141.8" r="2.4"/><circle cx="563.2" cy="138.2" r="2.4"/><circle cx="593.6" cy="146.2" r="2.4"/><circle cx="601.0" cy="139.4" r="2.4"/><circle cx="608.4" cy="133.4" r="2.4"/><circle cx="549.6" cy="141.7" r="2.4"/><circle cx="582.0" cy="146.9" r="2.4"/><circle cx="564.4" cy="145.0" r="2.4"/><circle cx="555.7" cy="142.9" r="2.4"/><circle cx="635.1" cy="137.8" r="2.4"/><circle cx="581.9" cy="146.4" r="2.4"/><circle cx="588.5" cy="146.7" r="2.4"/><circle cx="593.9" cy="145.6" r="2.4"/><circle cx="603.6" cy="143.8" r="2.4"/><circle cx="583.8" cy="147.1" r="2.4"/><circle cx="606.2" cy="142.5" r="2.4"/><circle cx="599.5" cy="144.5" r="2.4"/><circle cx="606.9" cy="143.5" r="2.4"/><circle cx="594.3" cy="143.2" r="2.4"/><circle cx="594.6" cy="144.7" r="2.4"/><circle cx="574.9" cy="144.8" r="2.4"/><circle cx="601.5" cy="143.0" r="2.4"/><circle cx="577.5" cy="145.1" r="2.4"/><circle cx="592.5" cy="146.6" r="2.4"/><circle cx="584.0" cy="147.2" r="2.4"/><circle cx="579.3" cy="145.7" r="2.4"/><circle cx="584.4" cy="147.3" r="2.4"/><circle cx="610.5" cy="143.1" r="2.4"/><circle cx="578.1" cy="146.1" r="2.4"/><circle cx="529.8" cy="135.6" r="2.4"/><circle cx="581.8" cy="146.8" r="2.4"/><circle cx="605.1" cy="141.2" r="2.4"/><circle cx="620.6" cy="138.9" r="2.4"/><circle cx="573.8" cy="145.2" r="2.4"/><circle cx="603.0" cy="143.4" r="2.4"/><circle cx="615.3" cy="143.1" r="2.4"/><circle cx="582.5" cy="146.8" r="2.4"/><circle cx="534.5" cy="138.5" r="2.4"/><circle cx="618.6" cy="141.0" r="2.4"/><circle cx="592.0" cy="144.4" r="2.4"/><circle cx="593.9" cy="146.3" r="2.4"/><circle cx="582.8" cy="147.0" r="2.4"/><circle cx="588.9" cy="146.9" r="2.4"/><circle cx="605.4" cy="140.6" r="2.4"/><circle cx="583.7" cy="147.0" r="2.4"/><circle cx="569.9" cy="144.4" r="2.4"/><circle cx="563.7" cy="141.9" r="2.4"/><circle cx="604.4" cy="142.3" r="2.4"/><circle cx="584.8" cy="147.3" r="2.4"/><circle cx="597.3" cy="144.4" r="2.4"/><circle cx="589.0" cy="146.5" r="2.4"/><circle cx="612.0" cy="142.5" r="2.4"/><circle cx="607.7" cy="140.4" r="2.4"/><circle cx="560.1" cy="133.1" r="2.4"/><circle cx="584.1" cy="147.2" r="2.4"/><circle cx="566.1" cy="139.6" r="2.4"/><circle cx="569.1" cy="143.9" r="2.4"/><circle cx="579.0" cy="145.6" r="2.4"/><circle cx="581.6" cy="146.9" r="2.4"/><circle cx="611.1" cy="144.0" r="2.4"/><circle cx="586.6" cy="147.0" r="2.4"/><circle cx="564.1" cy="140.7" r="2.4"/><circle cx="584.0" cy="147.2" r="2.4"/><circle cx="582.8" cy="147.1" r="2.4"/><circle cx="533.3" cy="139.6" r="2.4"/><circle cx="623.8" cy="140.7" r="2.4"/><circle cx="577.7" cy="145.2" r="2.4"/><circle cx="636.2" cy="133.1" r="2.4"/><circle cx="594.1" cy="143.6" r="2.4"/><circle cx="585.2" cy="147.2" r="2.4"/><circle cx="616.5" cy="142.8" r="2.4"/><circle cx="582.1" cy="146.9" r="2.4"/><circle cx="577.3" cy="146.0" r="2.4"/><circle cx="595.9" cy="146.2" r="2.4"/><circle cx="602.2" cy="145.0" r="2.4"/><circle cx="583.9" cy="147.2" r="2.4"/><circle cx="584.0" cy="147.2" r="2.4"/><circle cx="587.7" cy="146.4" r="2.4"/><circle cx="571.1" cy="144.6" r="2.4"/><circle cx="594.0" cy="146.0" r="2.4"/><circle cx="577.5" cy="144.9" r="2.4"/><circle cx="594.9" cy="144.9" r="2.4"/><circle cx="550.4" cy="140.9" r="2.4"/><circle cx="585.7" cy="147.2" r="2.4"/><circle cx="596.8" cy="146.0" r="2.4"/><circle cx="594.8" cy="143.5" r="2.4"/><circle cx="612.3" cy="140.1" r="2.4"/><circle cx="568.5" cy="139.7" r="2.4"/><circle cx="591.5" cy="145.0" r="2.4"/><circle cx="566.8" cy="145.1" r="2.4"/><circle cx="620.7" cy="140.2" r="2.4"/><circle cx="580.9" cy="146.7" r="2.4"/><circle cx="579.5" cy="145.8" r="2.4"/><circle cx="607.7" cy="136.5" r="2.4"/><circle cx="596.3" cy="142.7" r="2.4"/><circle cx="587.8" cy="146.8" r="2.4"/><circle cx="592.5" cy="144.3" r="2.4"/><circle cx="561.2" cy="142.7" r="2.4"/><circle cx="563.7" cy="140.7" r="2.4"/><circle cx="574.4" cy="145.2" r="2.4"/><circle cx="593.2" cy="145.9" r="2.4"/><circle cx="642.5" cy="137.0" r="2.4"/><circle cx="582.7" cy="147.1" r="2.4"/><circle cx="592.0" cy="145.0" r="2.4"/><circle cx="589.0" cy="146.4" r="2.4"/><circle cx="596.8" cy="144.6" r="2.4"/><circle cx="581.5" cy="146.5" r="2.4"/><circle cx="586.0" cy="147.2" r="2.4"/><circle cx="595.3" cy="142.6" r="2.4"/><circle cx="586.8" cy="146.8" r="2.4"/><circle cx="579.9" cy="146.1" r="2.4"/><circle cx="581.8" cy="146.9" r="2.4"/><circle cx="630.0" cy="135.0" r="2.4"/><circle cx="579.1" cy="146.7" r="2.4"/><circle cx="613.0" cy="142.3" r="2.4"/><circle cx="594.6" cy="143.3" r="2.4"/><circle cx="554.7" cy="143.5" r="2.4"/><circle cx="557.4" cy="136.1" r="2.4"/><circle cx="581.0" cy="146.7" r="2.4"/><circle cx="597.3" cy="144.4" r="2.4"/><circle cx="614.8" cy="141.7" r="2.4"/><circle cx="578.8" cy="146.2" r="2.4"/><circle cx="549.5" cy="134.8" r="2.4"/><circle cx="596.7" cy="145.4" r="2.4"/><circle cx="609.9" cy="138.0" r="2.4"/><circle cx="583.9" cy="147.2" r="2.4"/><circle cx="538.4" cy="139.7" r="2.4"/><circle cx="577.5" cy="146.2" r="2.4"/><circle cx="567.7" cy="139.0" r="2.4"/><circle cx="586.4" cy="146.9" r="2.4"/><circle cx="611.7" cy="141.4" r="2.4"/><circle cx="580.5" cy="146.9" r="2.4"/><circle cx="587.8" cy="146.6" r="2.4"/><circle cx="581.3" cy="146.3" r="2.4"/><circle cx="617.0" cy="136.5" r="2.4"/><circle cx="574.0" cy="144.8" r="2.4"/><circle cx="588.2" cy="146.8" r="2.4"/><circle cx="593.7" cy="146.4" r="2.4"/><circle cx="592.8" cy="145.9" r="2.4"/><circle cx="558.2" cy="137.6" r="2.4"/><circle cx="588.6" cy="146.1" r="2.4"/><circle cx="601.8" cy="140.6" r="2.4"/><circle cx="601.2" cy="142.9" r="2.4"/><circle cx="587.3" cy="146.7" r="2.4"/><circle cx="532.3" cy="139.3" r="2.4"/><circle cx="568.3" cy="139.8" r="2.4"/><circle cx="575.5" cy="144.3" r="2.4"/><circle cx="610.9" cy="135.9" r="2.4"/><circle cx="612.4" cy="138.7" r="2.4"/><circle cx="630.0" cy="129.4" r="2.4"/><circle cx="548.6" cy="142.2" r="2.4"/><circle cx="575.1" cy="144.5" r="2.4"/><circle cx="594.7" cy="146.0" r="2.4"/><circle cx="561.9" cy="144.2" r="2.4"/><circle cx="598.9" cy="142.5" r="2.4"/><circle cx="608.6" cy="136.4" r="2.4"/><circle cx="604.9" cy="141.0" r="2.4"/><circle cx="587.8" cy="146.5" r="2.4"/><circle cx="579.4" cy="145.9" r="2.4"/><circle cx="569.2" cy="143.8" r="2.4"/><circle cx="588.3" cy="146.7" r="2.4"/><circle cx="571.4" cy="145.1" r="2.4"/><circle cx="576.1" cy="144.2" r="2.4"/><circle cx="571.4" cy="146.0" r="2.4"/><circle cx="572.8" cy="145.9" r="2.4"/><circle cx="559.4" cy="143.6" r="2.4"/><circle cx="602.3" cy="144.7" r="2.4"/><circle cx="598.7" cy="142.5" r="2.4"/><circle cx="601.9" cy="143.3" r="2.4"/><circle cx="599.4" cy="144.4" r="2.4"/><circle cx="614.5" cy="141.1" r="2.4"/><circle cx="533.8" cy="134.1" r="2.4"/><circle cx="624.6" cy="141.2" r="2.4"/><circle cx="596.8" cy="145.5" r="2.4"/><circle cx="626.4" cy="140.8" r="2.4"/><circle cx="601.5" cy="139.8" r="2.4"/><circle cx="571.9" cy="144.6" r="2.4"/><circle cx="607.5" cy="134.8" r="2.4"/><circle cx="602.0" cy="144.4" r="2.4"/><circle cx="597.9" cy="143.6" r="2.4"/><circle cx="600.8" cy="143.3" r="2.4"/><circle cx="599.2" cy="140.8" r="2.4"/><circle cx="596.1" cy="142.5" r="2.4"/><circle cx="581.3" cy="146.7" r="2.4"/><circle cx="585.2" cy="147.2" r="2.4"/><circle cx="597.7" cy="141.3" r="2.4"/><circle cx="579.6" cy="146.2" r="2.4"/><circle cx="611.5" cy="143.0" r="2.4"/><circle cx="533.9" cy="135.1" r="2.4"/><circle cx="555.0" cy="142.0" r="2.4"/><circle cx="608.3" cy="142.5" r="2.4"/><circle cx="580.7" cy="146.8" r="2.4"/><circle cx="569.9" cy="142.8" r="2.4"/><circle cx="594.7" cy="143.8" r="2.4"/><circle cx="586.4" cy="147.1" r="2.4"/><circle cx="553.4" cy="143.7" r="2.4"/><circle cx="621.3" cy="140.9" r="2.4"/><circle cx="605.7" cy="139.9" r="2.4"/><circle cx="582.3" cy="147.1" r="2.4"/><circle cx="575.8" cy="145.6" r="2.4"/><circle cx="590.3" cy="145.7" r="2.4"/><circle cx="559.0" cy="138.6" r="2.4"/><circle cx="573.5" cy="146.0" r="2.4"/><circle cx="571.7" cy="143.0" r="2.4"/><circle cx="619.7" cy="141.9" r="2.4"/><circle cx="595.0" cy="144.6" r="2.4"/><circle cx="559.2" cy="139.2" r="2.4"/><circle cx="543.0" cy="138.5" r="2.4"/><circle cx="563.2" cy="144.9" r="2.4"/><circle cx="594.3" cy="145.8" r="2.4"/><circle cx="622.0" cy="141.5" r="2.4"/><circle cx="579.1" cy="145.5" r="2.4"/><circle cx="586.0" cy="147.0" r="2.4"/><circle cx="569.6" cy="142.8" r="2.4"/><circle cx="596.3" cy="145.7" r="2.4"/><circle cx="616.7" cy="143.3" r="2.4"/><circle cx="587.9" cy="146.9" r="2.4"/><circle cx="581.0" cy="146.3" r="2.4"/><circle cx="580.4" cy="146.1" r="2.4"/><circle cx="615.0" cy="135.0" r="2.4"/><circle cx="602.0" cy="140.3" r="2.4"/><circle cx="642.0" cy="138.7" r="2.4"/><circle cx="588.0" cy="146.3" r="2.4"/><circle cx="561.3" cy="142.2" r="2.4"/><circle cx="585.3" cy="147.1" r="2.4"/><circle cx="596.9" cy="146.1" r="2.4"/><circle cx="575.1" cy="145.8" r="2.4"/><circle cx="581.4" cy="146.8" r="2.4"/><circle cx="561.1" cy="144.6" r="2.4"/><circle cx="527.8" cy="139.0" r="2.4"/><circle cx="610.8" cy="137.8" r="2.4"/><circle cx="632.0" cy="135.1" r="2.4"/><circle cx="599.2" cy="145.0" r="2.4"/><circle cx="596.8" cy="144.0" r="2.4"/><circle cx="578.7" cy="146.7" r="2.4"/><circle cx="599.1" cy="142.8" r="2.4"/><circle cx="572.8" cy="144.9" r="2.4"/><circle cx="589.8" cy="145.7" r="2.4"/><circle cx="575.9" cy="144.6" r="2.4"/><circle cx="584.5" cy="147.3" r="2.4"/><circle cx="590.4" cy="146.5" r="2.4"/><circle cx="589.9" cy="146.5" r="2.4"/><circle cx="564.8" cy="143.0" r="2.4"/><circle cx="561.9" cy="135.5" r="2.4"/><circle cx="539.3" cy="139.7" r="2.4"/><circle cx="567.9" cy="145.2" r="2.4"/><circle cx="557.5" cy="142.4" r="2.4"/><circle cx="588.3" cy="146.8" r="2.4"/><circle cx="557.2" cy="138.0" r="2.4"/><circle cx="601.6" cy="142.7" r="2.4"/><circle cx="587.3" cy="146.9" r="2.4"/><circle cx="610.5" cy="135.8" r="2.4"/><circle cx="605.3" cy="139.6" r="2.4"/><circle cx="589.2" cy="146.8" r="2.4"/><circle cx="619.0" cy="134.2" r="2.4"/><circle cx="586.2" cy="147.0" r="2.4"/><circle cx="589.9" cy="145.8" r="2.4"/><circle cx="610.1" cy="144.2" r="2.4"/><circle cx="574.2" cy="142.9" r="2.4"/><circle cx="582.3" cy="146.7" r="2.4"/><circle cx="590.1" cy="146.4" r="2.4"/><circle cx="566.6" cy="141.6" r="2.4"/><circle cx="597.2" cy="144.8" r="2.4"/><circle cx="583.0" cy="146.8" r="2.4"/><circle cx="581.3" cy="147.0" r="2.4"/><circle cx="557.7" cy="138.8" r="2.4"/><circle cx="598.8" cy="142.8" r="2.4"/><circle cx="606.0" cy="143.4" r="2.4"/><circle cx="576.0" cy="146.3" r="2.4"/><circle cx="614.7" cy="129.3" r="2.4"/><circle cx="610.9" cy="137.4" r="2.4"/><circle cx="611.8" cy="141.4" r="2.4"/><circle cx="584.3" cy="147.3" r="2.4"/><circle cx="574.5" cy="145.1" r="2.4"/><circle cx="577.9" cy="146.3" r="2.4"/><circle cx="601.0" cy="144.6" r="2.4"/><circle cx="614.3" cy="137.2" r="2.4"/><circle cx="570.9" cy="145.5" r="2.4"/><circle cx="584.9" cy="147.2" r="2.4"/><circle cx="571.7" cy="143.9" r="2.4"/><circle cx="613.0" cy="139.3" r="2.4"/><circle cx="595.7" cy="142.5" r="2.4"/><circle cx="594.5" cy="143.8" r="2.4"/><circle cx="534.8" cy="139.6" r="2.4"/><circle cx="583.2" cy="146.9" r="2.4"/><circle cx="572.1" cy="142.9" r="2.4"/><circle cx="567.2" cy="144.0" r="2.4"/><circle cx="558.3" cy="141.2" r="2.4"/><circle cx="616.1" cy="129.7" r="2.4"/><circle cx="614.6" cy="127.6" r="2.4"/><circle cx="558.4" cy="143.0" r="2.4"/><circle cx="556.9" cy="138.2" r="2.4"/><circle cx="573.5" cy="146.2" r="2.4"/><circle cx="605.6" cy="140.6" r="2.4"/><circle cx="599.4" cy="145.6" r="2.4"/><circle cx="611.0" cy="132.1" r="2.4"/><circle cx="569.6" cy="140.6" r="2.4"/><circle cx="580.2" cy="146.3" r="2.4"/><circle cx="586.1" cy="146.9" r="2.4"/><circle cx="540.6" cy="140.2" r="2.4"/><circle cx="601.4" cy="141.5" r="2.4"/><circle cx="577.1" cy="145.5" r="2.4"/><circle cx="597.4" cy="143.7" r="2.4"/><circle cx="615.1" cy="142.6" r="2.4"/><circle cx="571.5" cy="145.6" r="2.4"/><circle cx="574.1" cy="144.7" r="2.4"/><circle cx="581.3" cy="146.6" r="2.4"/><circle cx="567.0" cy="143.6" r="2.4"/><circle cx="571.5" cy="141.7" r="2.4"/><circle cx="572.2" cy="144.1" r="2.4"/><circle cx="591.0" cy="146.5" r="2.4"/><circle cx="614.3" cy="142.6" r="2.4"/><circle cx="641.5" cy="134.2" r="2.4"/><circle cx="617.7" cy="136.4" r="2.4"/><circle cx="602.4" cy="143.3" r="2.4"/><circle cx="539.3" cy="140.7" r="2.4"/><circle cx="591.1" cy="146.4" r="2.4"/><circle cx="579.1" cy="145.9" r="2.4"/><circle cx="618.5" cy="137.8" r="2.4"/><circle cx="607.9" cy="143.5" r="2.4"/><circle cx="564.8" cy="143.9" r="2.4"/><circle cx="601.7" cy="144.7" r="2.4"/><circle cx="575.2" cy="143.5" r="2.4"/><circle cx="612.9" cy="139.8" r="2.4"/><circle cx="563.5" cy="141.5" r="2.4"/><circle cx="587.1" cy="146.9" r="2.4"/><circle cx="578.5" cy="145.2" r="2.4"/><circle cx="584.0" cy="147.2" r="2.4"/><circle cx="613.5" cy="143.0" r="2.4"/><circle cx="562.7" cy="139.3" r="2.4"/><circle cx="539.3" cy="137.4" r="2.4"/><circle cx="562.6" cy="144.5" r="2.4"/><circle cx="614.5" cy="133.6" r="2.4"/><circle cx="599.8" cy="144.8" r="2.4"/><circle cx="606.7" cy="144.4" r="2.4"/><circle cx="548.2" cy="141.9" r="2.4"/><circle cx="607.1" cy="143.3" r="2.4"/><circle cx="599.7" cy="144.3" r="2.4"/><circle cx="602.5" cy="145.2" r="2.4"/><circle cx="600.7" cy="143.0" r="2.4"/><circle cx="563.2" cy="144.0" r="2.4"/><circle cx="592.2" cy="144.4" r="2.4"/><circle cx="533.2" cy="135.5" r="2.4"/><circle cx="633.1" cy="134.1" r="2.4"/><circle cx="565.2" cy="140.9" r="2.4"/><circle cx="609.7" cy="143.6" r="2.4"/><circle cx="585.3" cy="147.2" r="2.4"/><circle cx="584.2" cy="147.2" r="2.4"/><circle cx="587.9" cy="146.9" r="2.4"/><circle cx="608.8" cy="144.1" r="2.4"/><circle cx="565.5" cy="143.4" r="2.4"/><circle cx="564.2" cy="143.9" r="2.4"/><circle cx="594.0" cy="143.9" r="2.4"/><circle cx="585.7" cy="147.0" r="2.4"/><circle cx="562.3" cy="133.8" r="2.4"/><circle cx="579.2" cy="146.2" r="2.4"/><circle cx="586.5" cy="147.1" r="2.4"/><circle cx="598.3" cy="145.9" r="2.4"/><circle cx="624.9" cy="137.2" r="2.4"/><circle cx="550.0" cy="143.1" r="2.4"/><circle cx="605.7" cy="141.9" r="2.4"/><circle cx="535.1" cy="129.4" r="2.4"/><circle cx="594.5" cy="144.7" r="2.4"/><circle cx="596.2" cy="143.2" r="2.4"/><circle cx="581.0" cy="146.2" r="2.4"/><circle cx="556.8" cy="140.4" r="2.4"/><circle cx="589.3" cy="146.6" r="2.4"/><circle cx="570.8" cy="145.7" r="2.4"/><circle cx="589.3" cy="146.2" r="2.4"/><circle cx="589.4" cy="146.4" r="2.4"/><circle cx="608.5" cy="143.2" r="2.4"/><circle cx="585.5" cy="147.1" r="2.4"/><circle cx="594.4" cy="143.3" r="2.4"/><circle cx="545.2" cy="126.4" r="2.4"/><circle cx="597.3" cy="142.2" r="2.4"/><circle cx="550.9" cy="142.8" r="2.4"/><circle cx="559.7" cy="143.0" r="2.4"/><circle cx="588.0" cy="146.8" r="2.4"/><circle cx="625.2" cy="135.1" r="2.4"/><circle cx="546.4" cy="134.4" r="2.4"/><circle cx="541.0" cy="141.7" r="2.4"/><circle cx="621.1" cy="136.0" r="2.4"/><circle cx="595.8" cy="143.0" r="2.4"/><circle cx="620.0" cy="141.1" r="2.4"/><circle cx="570.3" cy="140.4" r="2.4"/><circle cx="593.1" cy="145.7" r="2.4"/><circle cx="552.2" cy="125.8" r="2.4"/><circle cx="607.9" cy="139.4" r="2.4"/><circle cx="622.9" cy="139.8" r="2.4"/><circle cx="574.3" cy="146.3" r="2.4"/><circle cx="549.0" cy="142.9" r="2.4"/><circle cx="573.5" cy="143.6" r="2.4"/><circle cx="563.0" cy="136.0" r="2.4"/><circle cx="581.6" cy="147.0" r="2.4"/><circle cx="549.0" cy="136.6" r="2.4"/><circle cx="617.0" cy="143.2" r="2.4"/><circle cx="589.3" cy="146.0" r="2.4"/><circle cx="573.8" cy="143.7" r="2.4"/><circle cx="589.1" cy="146.5" r="2.4"/><circle cx="578.9" cy="145.3" r="2.4"/><circle cx="580.6" cy="146.0" r="2.4"/><circle cx="616.5" cy="137.9" r="2.4"/><circle cx="565.4" cy="138.2" r="2.4"/><circle cx="592.2" cy="146.5" r="2.4"/><circle cx="551.7" cy="139.4" r="2.4"/><circle cx="640.6" cy="125.5" r="2.4"/><circle cx="582.7" cy="146.8" r="2.4"/><circle cx="591.5" cy="146.7" r="2.4"/><circle cx="579.2" cy="146.5" r="2.4"/><circle cx="614.3" cy="140.3" r="2.4"/><circle cx="609.2" cy="142.9" r="2.4"/><circle cx="574.1" cy="143.0" r="2.4"/><circle cx="572.8" cy="142.0" r="2.4"/><circle cx="616.0" cy="131.4" r="2.4"/><circle cx="575.0" cy="145.5" r="2.4"/><circle cx="590.0" cy="146.6" r="2.4"/><circle cx="573.4" cy="144.4" r="2.4"/><circle cx="593.8" cy="144.5" r="2.4"/><circle cx="592.6" cy="145.7" r="2.4"/><circle cx="570.7" cy="145.0" r="2.4"/><circle cx="563.6" cy="143.1" r="2.4"/><circle cx="580.5" cy="146.6" r="2.4"/><circle cx="587.7" cy="146.6" r="2.4"/><circle cx="577.3" cy="146.5" r="2.4"/><circle cx="571.7" cy="145.5" r="2.4"/><circle cx="579.9" cy="146.4" r="2.4"/><circle cx="603.2" cy="144.0" r="2.4"/><circle cx="583.3" cy="147.2" r="2.4"/><circle cx="603.5" cy="143.8" r="2.4"/><circle cx="601.8" cy="144.7" r="2.4"/><circle cx="574.9" cy="145.0" r="2.4"/><circle cx="562.7" cy="139.5" r="2.4"/><circle cx="606.4" cy="136.3" r="2.4"/><circle cx="583.8" cy="147.2" r="2.4"/><circle cx="621.7" cy="138.8" r="2.4"/><circle cx="569.8" cy="141.9" r="2.4"/><circle cx="550.8" cy="140.0" r="2.4"/><circle cx="577.6" cy="145.5" r="2.4"/><circle cx="595.1" cy="143.4" r="2.4"/><circle cx="564.2" cy="139.4" r="2.4"/><circle cx="563.5" cy="136.8" r="2.4"/><circle cx="572.8" cy="145.1" r="2.4"/><circle cx="585.3" cy="147.2" r="2.4"/><circle cx="591.7" cy="146.2" r="2.4"/><circle cx="554.1" cy="129.4" r="2.4"/><circle cx="603.1" cy="138.3" r="2.4"/><circle cx="614.0" cy="143.3" r="2.4"/><circle cx="598.7" cy="144.0" r="2.4"/><circle cx="577.5" cy="145.1" r="2.4"/><circle cx="631.5" cy="134.1" r="2.4"/><circle cx="610.2" cy="136.1" r="2.4"/><circle cx="580.7" cy="146.5" r="2.4"/><circle cx="594.7" cy="144.7" r="2.4"/><circle cx="619.7" cy="131.1" r="2.4"/><circle cx="555.4" cy="143.7" r="2.4"/><circle cx="606.5" cy="143.5" r="2.4"/><circle cx="624.5" cy="124.9" r="2.4"/><circle cx="576.3" cy="145.8" r="2.4"/><circle cx="557.5" cy="140.7" r="2.4"/><circle cx="595.9" cy="145.2" r="2.4"/><circle cx="590.1" cy="146.8" r="2.4"/><circle cx="552.3" cy="142.7" r="2.4"/><circle cx="597.7" cy="144.6" r="2.4"/><circle cx="610.8" cy="142.5" r="2.4"/><circle cx="622.3" cy="137.4" r="2.4"/><circle cx="569.0" cy="140.8" r="2.4"/><circle cx="569.5" cy="145.8" r="2.4"/><circle cx="582.7" cy="147.0" r="2.4"/><circle cx="578.2" cy="146.5" r="2.4"/><circle cx="640.5" cy="136.9" r="2.4"/><circle cx="619.3" cy="139.9" r="2.4"/><circle cx="580.5" cy="146.7" r="2.4"/><circle cx="582.1" cy="146.7" r="2.4"/><circle cx="614.9" cy="130.9" r="2.4"/><circle cx="587.6" cy="146.7" r="2.4"/><circle cx="613.7" cy="135.3" r="2.4"/><circle cx="562.0" cy="144.0" r="2.4"/><circle cx="591.4" cy="146.7" r="2.4"/><circle cx="575.6" cy="144.7" r="2.4"/><circle cx="593.4" cy="145.1" r="2.4"/><circle cx="578.8" cy="146.7" r="2.4"/><circle cx="602.9" cy="144.8" r="2.4"/><circle cx="589.1" cy="146.7" r="2.4"/><circle cx="578.0" cy="145.2" r="2.4"/><circle cx="564.8" cy="145.1" r="2.4"/><circle cx="563.2" cy="140.0" r="2.4"/><circle cx="576.4" cy="144.5" r="2.4"/><circle cx="565.2" cy="142.4" r="2.4"/><circle cx="578.2" cy="146.6" r="2.4"/><circle cx="576.9" cy="146.4" r="2.4"/><circle cx="574.1" cy="143.6" r="2.4"/><circle cx="583.6" cy="147.1" r="2.4"/><circle cx="575.3" cy="145.5" r="2.4"/><circle cx="594.2" cy="144.2" r="2.4"/><circle cx="579.6" cy="146.5" r="2.4"/>
</g>
<text x="478.5" y="120.9" font-size="10.5" text-anchor="end" fill="#4d4d4d" stroke="#4d4d4d" stroke-width="0.1" textLength="6.6" lengthAdjust="spacingAndGlyphs">4</text>
<text x="478.5" y="90.7" font-size="10.5" text-anchor="end" fill="#4d4d4d" stroke="#4d4d4d" stroke-width="0.1" textLength="6.6" lengthAdjust="spacingAndGlyphs">8</text>
<text x="478.5" y="60.5" font-size="10.5" text-anchor="end" fill="#4d4d4d" stroke="#4d4d4d" stroke-width="0.1" textLength="13.1" lengthAdjust="spacingAndGlyphs">12</text>
<text x="478.5" y="30.3" font-size="10.5" text-anchor="end" fill="#4d4d4d" stroke="#4d4d4d" stroke-width="0.1" textLength="13.1" lengthAdjust="spacingAndGlyphs">16</text>
<text x="584.5" y="14.4" font-size="10.8" text-anchor="middle" font-weight="bold" fill="#1a1a1a" stroke="#1a1a1a" stroke-width="0.3" textLength="83.6" lengthAdjust="spacingAndGlyphs">Suprarenal DA</text>
<path d="M34 263.2H233 M34 226.7H233 M34 190.3H233 M43.1 173.8V299.4 M88.3 173.8V299.4 M178.8 173.8V299.4 M224.1 173.8V299.4" stroke="#ebebeb" stroke-width="1.1" fill="none"/>
<line x1="133.6" y1="173.8" x2="133.6" y2="299.4" stroke="#9e9e9e" stroke-width="1.3"/>
<clipPath id="cpInfrarenalDA"><rect x="34" y="173.8" width="199" height="125.59999999999997"/></clipPath>
<g clip-path="url(#cpInfrarenalDA)" fill="#c4c4c4" fill-opacity="0.25" stroke="#bdbdbd" stroke-opacity="0.3" stroke-width="0.6">
<circle cx="122.6" cy="294.6" r="2.4"/><circle cx="132.6" cy="298.8" r="2.4"/><circle cx="120.4" cy="291.7" r="2.4"/><circle cx="147.3" cy="296.0" r="2.4"/><circle cx="156.5" cy="295.9" r="2.4"/><circle cx="130.9" cy="299.0" r="2.4"/><circle cx="162.9" cy="295.2" r="2.4"/><circle cx="106.4" cy="251.8" r="2.4"/><circle cx="120.8" cy="291.7" r="2.4"/><circle cx="120.0" cy="293.3" r="2.4"/><circle cx="163.2" cy="291.2" r="2.4"/><circle cx="118.6" cy="286.8" r="2.4"/><circle cx="94.2" cy="289.6" r="2.4"/><circle cx="126.1" cy="296.0" r="2.4"/><circle cx="127.7" cy="294.5" r="2.4"/><circle cx="138.7" cy="295.1" r="2.4"/><circle cx="143.1" cy="294.1" r="2.4"/><circle cx="151.8" cy="295.6" r="2.4"/><circle cx="113.6" cy="288.2" r="2.4"/><circle cx="138.2" cy="298.7" r="2.4"/><circle cx="160.6" cy="267.8" r="2.4"/><circle cx="143.5" cy="291.2" r="2.4"/><circle cx="144.3" cy="293.7" r="2.4"/><circle cx="183.5" cy="285.2" r="2.4"/><circle cx="123.3" cy="298.2" r="2.4"/><circle cx="137.1" cy="298.3" r="2.4"/><circle cx="121.7" cy="297.3" r="2.4"/><circle cx="182.9" cy="264.0" r="2.4"/><circle cx="137.6" cy="297.9" r="2.4"/><circle cx="141.1" cy="295.7" r="2.4"/><circle cx="147.4" cy="296.7" r="2.4"/><circle cx="133.2" cy="299.5" r="2.4"/><circle cx="131.9" cy="299.2" r="2.4"/><circle cx="163.7" cy="267.8" r="2.4"/><circle cx="115.2" cy="292.5" r="2.4"/><circle cx="159.2" cy="286.7" r="2.4"/><circle cx="134.5" cy="299.0" r="2.4"/><circle cx="168.3" cy="291.8" r="2.4"/><circle cx="133.7" cy="299.5" r="2.4"/><circle cx="134.6" cy="299.2" r="2.4"/><circle cx="126.5" cy="296.6" r="2.4"/><circle cx="147.3" cy="283.0" r="2.4"/><circle cx="144.1" cy="287.7" r="2.4"/><circle cx="119.1" cy="296.4" r="2.4"/><circle cx="148.7" cy="287.5" r="2.4"/><circle cx="136.4" cy="299.0" r="2.4"/><circle cx="156.4" cy="274.1" r="2.4"/><circle cx="131.9" cy="298.6" r="2.4"/><circle cx="143.3" cy="297.3" r="2.4"/><circle cx="113.3" cy="295.2" r="2.4"/><circle cx="122.7" cy="288.3" r="2.4"/><circle cx="129.3" cy="298.0" r="2.4"/><circle cx="153.2" cy="276.8" r="2.4"/><circle cx="161.4" cy="289.6" r="2.4"/><circle cx="176.5" cy="258.1" r="2.4"/><circle cx="110.6" cy="289.4" r="2.4"/><circle cx="138.1" cy="298.1" r="2.4"/><circle cx="127.6" cy="294.1" r="2.4"/><circle cx="142.2" cy="297.3" r="2.4"/><circle cx="141.2" cy="292.4" r="2.4"/><circle cx="134.5" cy="299.3" r="2.4"/><circle cx="170.7" cy="272.8" r="2.4"/><circle cx="142.0" cy="297.8" r="2.4"/><circle cx="130.8" cy="299.2" r="2.4"/><circle cx="131.0" cy="298.9" r="2.4"/><circle cx="123.9" cy="293.1" r="2.4"/><circle cx="132.5" cy="298.8" r="2.4"/><circle cx="133.9" cy="299.4" r="2.4"/><circle cx="132.3" cy="298.8" r="2.4"/><circle cx="135.8" cy="298.4" r="2.4"/><circle cx="155.7" cy="286.5" r="2.4"/><circle cx="136.4" cy="297.7" r="2.4"/><circle cx="145.3" cy="297.4" r="2.4"/><circle cx="163.9" cy="292.5" r="2.4"/><circle cx="140.8" cy="293.3" r="2.4"/><circle cx="133.4" cy="299.5" r="2.4"/><circle cx="142.3" cy="295.0" r="2.4"/><circle cx="119.6" cy="295.0" r="2.4"/><circle cx="142.2" cy="292.1" r="2.4"/><circle cx="122.1" cy="298.1" r="2.4"/><circle cx="141.3" cy="291.8" r="2.4"/><circle cx="152.9" cy="286.6" r="2.4"/><circle cx="115.6" cy="282.8" r="2.4"/><circle cx="137.3" cy="298.3" r="2.4"/><circle cx="138.0" cy="297.5" r="2.4"/><circle cx="179.1" cy="292.4" r="2.4"/><circle cx="136.7" cy="298.3" r="2.4"/><circle cx="159.5" cy="291.6" r="2.4"/><circle cx="143.7" cy="291.5" r="2.4"/><circle cx="146.3" cy="297.2" r="2.4"/><circle cx="131.8" cy="298.8" r="2.4"/><circle cx="129.7" cy="298.7" r="2.4"/><circle cx="145.6" cy="292.1" r="2.4"/><circle cx="100.9" cy="280.4" r="2.4"/><circle cx="122.4" cy="290.6" r="2.4"/><circle cx="129.0" cy="296.6" r="2.4"/><circle cx="145.2" cy="289.9" r="2.4"/><circle cx="135.8" cy="299.1" r="2.4"/><circle cx="121.1" cy="295.5" r="2.4"/><circle cx="128.2" cy="298.5" r="2.4"/><circle cx="124.4" cy="296.1" r="2.4"/><circle cx="121.4" cy="293.7" r="2.4"/><circle cx="94.4" cy="265.1" r="2.4"/><circle cx="89.5" cy="266.3" r="2.4"/><circle cx="141.5" cy="293.2" r="2.4"/><circle cx="129.3" cy="297.2" r="2.4"/><circle cx="76.5" cy="278.8" r="2.4"/><circle cx="94.6" cy="241.2" r="2.4"/><circle cx="137.0" cy="297.0" r="2.4"/><circle cx="138.9" cy="298.7" r="2.4"/><circle cx="112.0" cy="293.1" r="2.4"/><circle cx="137.5" cy="298.9" r="2.4"/><circle cx="133.5" cy="299.5" r="2.4"/><circle cx="120.7" cy="291.8" r="2.4"/><circle cx="128.1" cy="298.0" r="2.4"/><circle cx="106.2" cy="280.5" r="2.4"/><circle cx="126.9" cy="296.1" r="2.4"/><circle cx="141.2" cy="291.7" r="2.4"/><circle cx="153.3" cy="292.9" r="2.4"/><circle cx="125.5" cy="294.4" r="2.4"/><circle cx="133.3" cy="299.6" r="2.4"/><circle cx="131.6" cy="298.4" r="2.4"/><circle cx="135.1" cy="298.7" r="2.4"/><circle cx="132.8" cy="299.3" r="2.4"/><circle cx="143.2" cy="296.8" r="2.4"/><circle cx="165.8" cy="274.4" r="2.4"/><circle cx="141.8" cy="296.9" r="2.4"/><circle cx="141.3" cy="293.8" r="2.4"/><circle cx="144.0" cy="293.8" r="2.4"/><circle cx="138.3" cy="298.3" r="2.4"/><circle cx="132.8" cy="299.3" r="2.4"/><circle cx="127.1" cy="297.9" r="2.4"/><circle cx="125.8" cy="298.1" r="2.4"/><circle cx="141.6" cy="290.8" r="2.4"/><circle cx="121.0" cy="290.7" r="2.4"/><circle cx="135.1" cy="299.0" r="2.4"/><circle cx="118.9" cy="297.3" r="2.4"/><circle cx="111.2" cy="291.8" r="2.4"/><circle cx="158.6" cy="292.8" r="2.4"/><circle cx="136.4" cy="299.0" r="2.4"/><circle cx="159.3" cy="282.9" r="2.4"/><circle cx="155.4" cy="295.1" r="2.4"/><circle cx="140.2" cy="298.7" r="2.4"/><circle cx="133.7" cy="299.6" r="2.4"/><circle cx="158.7" cy="281.4" r="2.4"/><circle cx="137.8" cy="295.8" r="2.4"/><circle cx="122.0" cy="292.6" r="2.4"/><circle cx="116.9" cy="289.2" r="2.4"/><circle cx="150.3" cy="285.6" r="2.4"/><circle cx="138.4" cy="295.5" r="2.4"/><circle cx="131.6" cy="298.8" r="2.4"/><circle cx="148.9" cy="288.9" r="2.4"/><circle cx="140.2" cy="296.4" r="2.4"/><circle cx="114.0" cy="288.1" r="2.4"/><circle cx="143.4" cy="288.5" r="2.4"/><circle cx="118.1" cy="296.9" r="2.4"/><circle cx="124.3" cy="289.3" r="2.4"/><circle cx="136.1" cy="297.7" r="2.4"/><circle cx="157.5" cy="295.8" r="2.4"/><circle cx="139.3" cy="297.0" r="2.4"/><circle cx="117.4" cy="295.3" r="2.4"/><circle cx="128.6" cy="295.0" r="2.4"/><circle cx="135.9" cy="298.8" r="2.4"/><circle cx="153.8" cy="265.4" r="2.4"/><circle cx="137.9" cy="297.8" r="2.4"/><circle cx="111.3" cy="295.5" r="2.4"/><circle cx="160.7" cy="278.8" r="2.4"/><circle cx="112.8" cy="273.2" r="2.4"/><circle cx="140.1" cy="297.7" r="2.4"/><circle cx="131.5" cy="298.6" r="2.4"/><circle cx="130.2" cy="298.9" r="2.4"/><circle cx="133.6" cy="299.6" r="2.4"/><circle cx="152.6" cy="296.4" r="2.4"/><circle cx="146.6" cy="296.3" r="2.4"/><circle cx="126.4" cy="296.8" r="2.4"/><circle cx="121.1" cy="285.0" r="2.4"/><circle cx="113.7" cy="291.6" r="2.4"/><circle cx="131.9" cy="298.5" r="2.4"/><circle cx="139.9" cy="296.2" r="2.4"/><circle cx="142.2" cy="297.1" r="2.4"/><circle cx="129.4" cy="298.2" r="2.4"/><circle cx="123.1" cy="297.0" r="2.4"/><circle cx="122.7" cy="290.4" r="2.4"/><circle cx="130.8" cy="297.6" r="2.4"/><circle cx="110.9" cy="277.2" r="2.4"/><circle cx="157.3" cy="295.7" r="2.4"/><circle cx="135.1" cy="298.4" r="2.4"/><circle cx="129.2" cy="298.4" r="2.4"/><circle cx="122.2" cy="293.0" r="2.4"/><circle cx="130.6" cy="298.3" r="2.4"/><circle cx="120.1" cy="292.7" r="2.4"/><circle cx="131.0" cy="298.7" r="2.4"/><circle cx="179.1" cy="252.2" r="2.4"/><circle cx="151.1" cy="295.1" r="2.4"/><circle cx="117.5" cy="279.2" r="2.4"/><circle cx="140.2" cy="298.8" r="2.4"/><circle cx="114.0" cy="293.4" r="2.4"/><circle cx="135.4" cy="298.1" r="2.4"/><circle cx="124.3" cy="296.5" r="2.4"/><circle cx="146.3" cy="291.5" r="2.4"/><circle cx="108.3" cy="295.3" r="2.4"/><circle cx="82.1" cy="288.6" r="2.4"/><circle cx="132.0" cy="298.6" r="2.4"/><circle cx="132.8" cy="299.3" r="2.4"/><circle cx="129.7" cy="299.0" r="2.4"/><circle cx="137.4" cy="298.8" r="2.4"/><circle cx="125.4" cy="297.7" r="2.4"/><circle cx="117.4" cy="288.9" r="2.4"/><circle cx="120.9" cy="297.8" r="2.4"/><circle cx="145.2" cy="296.2" r="2.4"/><circle cx="113.0" cy="295.9" r="2.4"/><circle cx="140.3" cy="295.2" r="2.4"/><circle cx="122.5" cy="298.0" r="2.4"/><circle cx="152.2" cy="287.2" r="2.4"/><circle cx="136.2" cy="299.2" r="2.4"/><circle cx="84.3" cy="290.8" r="2.4"/><circle cx="137.4" cy="299.1" r="2.4"/><circle cx="133.5" cy="299.5" r="2.4"/><circle cx="134.7" cy="299.0" r="2.4"/><circle cx="114.9" cy="292.5" r="2.4"/><circle cx="165.5" cy="277.8" r="2.4"/><circle cx="139.0" cy="298.6" r="2.4"/><circle cx="137.8" cy="296.5" r="2.4"/><circle cx="97.9" cy="275.9" r="2.4"/><circle cx="118.5" cy="280.2" r="2.4"/><circle cx="118.3" cy="295.4" r="2.4"/><circle cx="90.9" cy="271.3" r="2.4"/><circle cx="119.0" cy="292.1" r="2.4"/><circle cx="165.0" cy="246.8" r="2.4"/><circle cx="126.8" cy="293.9" r="2.4"/><circle cx="155.7" cy="284.0" r="2.4"/><circle cx="140.3" cy="293.8" r="2.4"/><circle cx="147.7" cy="283.1" r="2.4"/><circle cx="116.7" cy="291.5" r="2.4"/><circle cx="128.2" cy="295.7" r="2.4"/><circle cx="137.5" cy="298.2" r="2.4"/><circle cx="149.4" cy="296.3" r="2.4"/><circle cx="133.7" cy="299.6" r="2.4"/><circle cx="129.1" cy="297.6" r="2.4"/><circle cx="127.7" cy="297.5" r="2.4"/><circle cx="158.6" cy="274.8" r="2.4"/><circle cx="145.8" cy="287.2" r="2.4"/><circle cx="147.2" cy="296.5" r="2.4"/><circle cx="111.0" cy="286.8" r="2.4"/><circle cx="141.4" cy="296.8" r="2.4"/><circle cx="136.1" cy="297.9" r="2.4"/><circle cx="113.3" cy="290.2" r="2.4"/><circle cx="116.8" cy="297.3" r="2.4"/><circle cx="123.3" cy="288.4" r="2.4"/><circle cx="112.0" cy="286.9" r="2.4"/><circle cx="112.2" cy="295.5" r="2.4"/><circle cx="150.0" cy="288.3" r="2.4"/><circle cx="140.5" cy="298.4" r="2.4"/><circle cx="142.6" cy="292.3" r="2.4"/><circle cx="120.0" cy="297.1" r="2.4"/><circle cx="105.3" cy="276.2" r="2.4"/><circle cx="143.6" cy="292.5" r="2.4"/><circle cx="132.8" cy="299.2" r="2.4"/><circle cx="163.7" cy="271.4" r="2.4"/><circle cx="98.9" cy="291.7" r="2.4"/><circle cx="140.7" cy="298.2" r="2.4"/><circle cx="118.4" cy="285.8" r="2.4"/><circle cx="129.4" cy="298.7" r="2.4"/><circle cx="123.9" cy="289.3" r="2.4"/><circle cx="130.0" cy="298.3" r="2.4"/><circle cx="144.2" cy="297.3" r="2.4"/><circle cx="100.7" cy="263.5" r="2.4"/><circle cx="140.7" cy="292.5" r="2.4"/><circle cx="150.5" cy="289.2" r="2.4"/><circle cx="114.9" cy="282.6" r="2.4"/><circle cx="125.6" cy="296.4" r="2.4"/><circle cx="156.7" cy="278.9" r="2.4"/><circle cx="149.8" cy="287.1" r="2.4"/><circle cx="144.4" cy="289.2" r="2.4"/><circle cx="132.5" cy="298.9" r="2.4"/><circle cx="148.2" cy="283.1" r="2.4"/><circle cx="98.4" cy="293.9" r="2.4"/><circle cx="159.6" cy="293.6" r="2.4"/><circle cx="143.8" cy="291.9" r="2.4"/><circle cx="114.7" cy="296.1" r="2.4"/><circle cx="162.8" cy="262.7" r="2.4"/><circle cx="146.1" cy="288.5" r="2.4"/><circle cx="152.0" cy="290.4" r="2.4"/><circle cx="159.7" cy="278.6" r="2.4"/><circle cx="121.1" cy="283.5" r="2.4"/><circle cx="130.3" cy="299.0" r="2.4"/><circle cx="130.4" cy="299.1" r="2.4"/><circle cx="147.5" cy="291.2" r="2.4"/><circle cx="131.1" cy="297.6" r="2.4"/><circle cx="95.5" cy="273.2" r="2.4"/><circle cx="131.1" cy="299.3" r="2.4"/><circle cx="142.6" cy="292.6" r="2.4"/><circle cx="148.1" cy="285.4" r="2.4"/><circle cx="130.1" cy="297.7" r="2.4"/><circle cx="139.5" cy="297.4" r="2.4"/><circle cx="128.7" cy="299.0" r="2.4"/><circle cx="116.9" cy="295.2" r="2.4"/><circle cx="125.4" cy="297.6" r="2.4"/><circle cx="136.2" cy="298.2" r="2.4"/><circle cx="176.3" cy="270.8" r="2.4"/><circle cx="111.2" cy="279.9" r="2.4"/><circle cx="164.0" cy="291.1" r="2.4"/><circle cx="169.7" cy="293.7" r="2.4"/><circle cx="143.2" cy="290.9" r="2.4"/><circle cx="127.3" cy="293.5" r="2.4"/><circle cx="144.7" cy="287.0" r="2.4"/><circle cx="122.6" cy="291.8" r="2.4"/><circle cx="154.7" cy="293.6" r="2.4"/><circle cx="133.4" cy="299.5" r="2.4"/><circle cx="145.0" cy="285.9" r="2.4"/><circle cx="95.3" cy="293.7" r="2.4"/><circle cx="111.1" cy="294.4" r="2.4"/><circle cx="147.2" cy="281.2" r="2.4"/><circle cx="143.1" cy="294.6" r="2.4"/><circle cx="128.2" cy="298.0" r="2.4"/><circle cx="140.3" cy="297.4" r="2.4"/><circle cx="139.0" cy="298.6" r="2.4"/><circle cx="136.9" cy="298.7" r="2.4"/><circle cx="149.7" cy="290.8" r="2.4"/><circle cx="143.0" cy="294.0" r="2.4"/><circle cx="118.4" cy="297.6" r="2.4"/><circle cx="137.6" cy="296.0" r="2.4"/><circle cx="132.4" cy="299.4" r="2.4"/><circle cx="123.5" cy="294.7" r="2.4"/><circle cx="122.4" cy="291.6" r="2.4"/><circle cx="130.1" cy="298.4" r="2.4"/><circle cx="125.0" cy="291.5" r="2.4"/><circle cx="119.3" cy="293.3" r="2.4"/><circle cx="83.7" cy="286.8" r="2.4"/><circle cx="127.6" cy="296.8" r="2.4"/><circle cx="136.4" cy="297.6" r="2.4"/><circle cx="140.5" cy="297.1" r="2.4"/><circle cx="102.5" cy="293.9" r="2.4"/><circle cx="100.8" cy="293.8" r="2.4"/><circle cx="126.5" cy="298.0" r="2.4"/><circle cx="144.7" cy="288.6" r="2.4"/><circle cx="137.4" cy="298.0" r="2.4"/><circle cx="121.8" cy="290.0" r="2.4"/><circle cx="119.1" cy="296.1" r="2.4"/><circle cx="143.1" cy="296.5" r="2.4"/><circle cx="162.3" cy="294.8" r="2.4"/><circle cx="131.0" cy="297.6" r="2.4"/><circle cx="124.4" cy="293.7" r="2.4"/><circle cx="135.5" cy="298.1" r="2.4"/><circle cx="119.0" cy="294.2" r="2.4"/><circle cx="155.6" cy="290.8" r="2.4"/><circle cx="119.3" cy="290.4" r="2.4"/><circle cx="131.6" cy="299.2" r="2.4"/><circle cx="130.8" cy="298.2" r="2.4"/><circle cx="124.0" cy="293.0" r="2.4"/><circle cx="144.1" cy="288.1" r="2.4"/><circle cx="142.6" cy="290.8" r="2.4"/><circle cx="146.7" cy="283.3" r="2.4"/><circle cx="137.6" cy="297.8" r="2.4"/><circle cx="135.2" cy="299.4" r="2.4"/><circle cx="140.3" cy="296.2" r="2.4"/><circle cx="154.7" cy="293.1" r="2.4"/><circle cx="163.7" cy="292.1" r="2.4"/><circle cx="133.2" cy="299.4" r="2.4"/><circle cx="121.5" cy="295.8" r="2.4"/><circle cx="176.9" cy="292.8" r="2.4"/><circle cx="146.4" cy="296.3" r="2.4"/><circle cx="126.8" cy="297.6" r="2.4"/><circle cx="143.3" cy="297.9" r="2.4"/><circle cx="149.6" cy="290.8" r="2.4"/><circle cx="133.0" cy="299.2" r="2.4"/><circle cx="166.2" cy="294.7" r="2.4"/><circle cx="130.6" cy="298.7" r="2.4"/><circle cx="124.9" cy="297.9" r="2.4"/><circle cx="123.4" cy="293.0" r="2.4"/><circle cx="117.3" cy="277.9" r="2.4"/><circle cx="89.1" cy="290.6" r="2.4"/><circle cx="141.7" cy="297.0" r="2.4"/><circle cx="144.3" cy="291.1" r="2.4"/><circle cx="120.5" cy="291.1" r="2.4"/><circle cx="120.0" cy="297.6" r="2.4"/><circle cx="133.5" cy="299.6" r="2.4"/><circle cx="172.3" cy="289.7" r="2.4"/><circle cx="150.8" cy="276.7" r="2.4"/><circle cx="127.4" cy="297.7" r="2.4"/><circle cx="152.6" cy="295.0" r="2.4"/><circle cx="134.3" cy="299.5" r="2.4"/><circle cx="133.8" cy="299.5" r="2.4"/><circle cx="141.5" cy="298.3" r="2.4"/><circle cx="136.7" cy="298.2" r="2.4"/><circle cx="153.2" cy="285.1" r="2.4"/><circle cx="135.3" cy="299.1" r="2.4"/><circle cx="118.9" cy="284.0" r="2.4"/><circle cx="147.8" cy="296.3" r="2.4"/><circle cx="125.8" cy="296.5" r="2.4"/><circle cx="146.0" cy="296.1" r="2.4"/><circle cx="164.3" cy="278.6" r="2.4"/><circle cx="138.6" cy="298.1" r="2.4"/><circle cx="107.1" cy="271.2" r="2.4"/><circle cx="132.9" cy="299.4" r="2.4"/><circle cx="133.2" cy="299.5" r="2.4"/><circle cx="146.9" cy="283.8" r="2.4"/><circle cx="123.5" cy="296.3" r="2.4"/><circle cx="135.4" cy="298.4" r="2.4"/><circle cx="119.0" cy="294.2" r="2.4"/><circle cx="121.1" cy="291.2" r="2.4"/><circle cx="133.5" cy="299.5" r="2.4"/><circle cx="140.8" cy="295.0" r="2.4"/><circle cx="77.9" cy="242.6" r="2.4"/><circle cx="121.8" cy="293.4" r="2.4"/><circle cx="128.5" cy="297.5" r="2.4"/><circle cx="152.2" cy="276.4" r="2.4"/><circle cx="132.5" cy="298.8" r="2.4"/><circle cx="139.7" cy="298.5" r="2.4"/><circle cx="138.3" cy="297.4" r="2.4"/><circle cx="74.4" cy="289.4" r="2.4"/><circle cx="127.1" cy="295.7" r="2.4"/><circle cx="139.8" cy="296.3" r="2.4"/><circle cx="139.7" cy="298.2" r="2.4"/><circle cx="153.7" cy="284.0" r="2.4"/><circle cx="127.0" cy="296.7" r="2.4"/><circle cx="134.6" cy="299.3" r="2.4"/><circle cx="129.0" cy="297.3" r="2.4"/><circle cx="119.2" cy="297.0" r="2.4"/><circle cx="117.9" cy="286.5" r="2.4"/><circle cx="134.1" cy="299.5" r="2.4"/><circle cx="131.7" cy="298.3" r="2.4"/><circle cx="127.5" cy="297.9" r="2.4"/><circle cx="131.0" cy="299.2" r="2.4"/><circle cx="153.8" cy="295.4" r="2.4"/><circle cx="156.2" cy="296.0" r="2.4"/><circle cx="132.0" cy="299.1" r="2.4"/><circle cx="114.6" cy="288.7" r="2.4"/><circle cx="159.3" cy="280.4" r="2.4"/><circle cx="146.0" cy="292.1" r="2.4"/><circle cx="115.6" cy="291.9" r="2.4"/><circle cx="117.2" cy="294.5" r="2.4"/><circle cx="154.0" cy="284.9" r="2.4"/><circle cx="143.1" cy="297.8" r="2.4"/><circle cx="161.4" cy="282.5" r="2.4"/><circle cx="173.3" cy="272.6" r="2.4"/><circle cx="152.1" cy="295.1" r="2.4"/><circle cx="171.4" cy="262.8" r="2.4"/><circle cx="157.3" cy="292.1" r="2.4"/><circle cx="107.3" cy="295.6" r="2.4"/><circle cx="130.0" cy="298.9" r="2.4"/><circle cx="156.2" cy="293.6" r="2.4"/><circle cx="122.2" cy="293.3" r="2.4"/><circle cx="143.2" cy="298.2" r="2.4"/><circle cx="121.0" cy="297.9" r="2.4"/><circle cx="136.7" cy="298.3" r="2.4"/><circle cx="91.2" cy="283.5" r="2.4"/><circle cx="149.5" cy="297.2" r="2.4"/><circle cx="135.2" cy="298.7" r="2.4"/><circle cx="130.0" cy="299.1" r="2.4"/><circle cx="157.2" cy="275.9" r="2.4"/><circle cx="153.0" cy="294.0" r="2.4"/><circle cx="125.0" cy="290.6" r="2.4"/><circle cx="122.8" cy="295.5" r="2.4"/><circle cx="109.8" cy="295.3" r="2.4"/><circle cx="117.7" cy="292.2" r="2.4"/><circle cx="130.4" cy="298.0" r="2.4"/><circle cx="141.3" cy="295.4" r="2.4"/><circle cx="131.3" cy="299.3" r="2.4"/><circle cx="144.8" cy="293.5" r="2.4"/><circle cx="118.5" cy="296.9" r="2.4"/><circle cx="135.7" cy="299.1" r="2.4"/><circle cx="132.4" cy="298.7" r="2.4"/><circle cx="129.6" cy="298.5" r="2.4"/><circle cx="140.5" cy="296.3" r="2.4"/><circle cx="132.6" cy="299.0" r="2.4"/><circle cx="124.6" cy="298.2" r="2.4"/><circle cx="126.6" cy="293.9" r="2.4"/><circle cx="149.5" cy="287.6" r="2.4"/><circle cx="144.7" cy="289.2" r="2.4"/><circle cx="131.2" cy="298.5" r="2.4"/><circle cx="144.4" cy="296.5" r="2.4"/><circle cx="136.4" cy="298.6" r="2.4"/><circle cx="129.7" cy="297.7" r="2.4"/><circle cx="131.6" cy="298.3" r="2.4"/><circle cx="145.7" cy="297.2" r="2.4"/><circle cx="131.3" cy="298.7" r="2.4"/><circle cx="160.1" cy="290.0" r="2.4"/><circle cx="122.9" cy="298.1" r="2.4"/><circle cx="142.8" cy="298.4" r="2.4"/><circle cx="145.9" cy="297.5" r="2.4"/><circle cx="101.1" cy="277.8" r="2.4"/><circle cx="150.3" cy="287.7" r="2.4"/><circle cx="126.6" cy="293.7" r="2.4"/><circle cx="128.3" cy="298.5" r="2.4"/><circle cx="143.3" cy="293.1" r="2.4"/><circle cx="144.0" cy="291.9" r="2.4"/><circle cx="136.6" cy="296.9" r="2.4"/><circle cx="143.4" cy="293.4" r="2.4"/><circle cx="126.7" cy="293.3" r="2.4"/><circle cx="117.8" cy="285.9" r="2.4"/><circle cx="156.0" cy="295.1" r="2.4"/><circle cx="109.1" cy="295.4" r="2.4"/><circle cx="119.1" cy="297.4" r="2.4"/><circle cx="122.0" cy="297.6" r="2.4"/><circle cx="148.2" cy="284.6" r="2.4"/><circle cx="134.7" cy="298.9" r="2.4"/><circle cx="129.9" cy="296.7" r="2.4"/><circle cx="151.7" cy="289.5" r="2.4"/><circle cx="142.1" cy="294.9" r="2.4"/><circle cx="135.8" cy="298.2" r="2.4"/><circle cx="130.2" cy="296.7" r="2.4"/><circle cx="121.5" cy="284.4" r="2.4"/><circle cx="151.9" cy="292.8" r="2.4"/><circle cx="123.2" cy="289.0" r="2.4"/><circle cx="142.7" cy="292.9" r="2.4"/><circle cx="121.9" cy="290.5" r="2.4"/><circle cx="117.1" cy="281.7" r="2.4"/><circle cx="133.6" cy="299.6" r="2.4"/><circle cx="128.2" cy="297.4" r="2.4"/><circle cx="136.1" cy="298.9" r="2.4"/><circle cx="150.5" cy="276.9" r="2.4"/><circle cx="142.0" cy="295.1" r="2.4"/><circle cx="117.3" cy="295.8" r="2.4"/><circle cx="141.6" cy="298.0" r="2.4"/><circle cx="132.7" cy="299.5" r="2.4"/><circle cx="122.2" cy="290.1" r="2.4"/><circle cx="126.4" cy="295.4" r="2.4"/><circle cx="124.2" cy="289.8" r="2.4"/><circle cx="107.1" cy="285.6" r="2.4"/><circle cx="136.9" cy="298.7" r="2.4"/><circle cx="142.4" cy="296.3" r="2.4"/><circle cx="153.8" cy="295.6" r="2.4"/><circle cx="135.5" cy="298.7" r="2.4"/><circle cx="110.7" cy="280.4" r="2.4"/><circle cx="128.8" cy="298.1" r="2.4"/><circle cx="150.5" cy="291.6" r="2.4"/><circle cx="112.5" cy="288.3" r="2.4"/><circle cx="161.6" cy="294.8" r="2.4"/><circle cx="105.2" cy="279.7" r="2.4"/><circle cx="133.2" cy="299.3" r="2.4"/><circle cx="125.3" cy="296.6" r="2.4"/><circle cx="133.3" cy="299.4" r="2.4"/><circle cx="141.9" cy="298.3" r="2.4"/><circle cx="133.4" cy="299.5" r="2.4"/><circle cx="151.7" cy="285.2" r="2.4"/><circle cx="146.8" cy="294.9" r="2.4"/><circle cx="125.5" cy="297.7" r="2.4"/><circle cx="119.6" cy="284.9" r="2.4"/><circle cx="120.7" cy="289.9" r="2.4"/><circle cx="154.8" cy="283.0" r="2.4"/><circle cx="119.9" cy="295.3" r="2.4"/><circle cx="151.9" cy="288.6" r="2.4"/><circle cx="142.5" cy="293.7" r="2.4"/><circle cx="144.6" cy="291.8" r="2.4"/><circle cx="119.4" cy="293.1" r="2.4"/><circle cx="138.5" cy="298.7" r="2.4"/><circle cx="151.1" cy="293.1" r="2.4"/>
</g>
<text x="27.5" y="267.0" font-size="10.5" text-anchor="end" fill="#4d4d4d" stroke="#4d4d4d" stroke-width="0.1" textLength="6.6" lengthAdjust="spacingAndGlyphs">2</text>
<text x="27.5" y="230.5" font-size="10.5" text-anchor="end" fill="#4d4d4d" stroke="#4d4d4d" stroke-width="0.1" textLength="6.6" lengthAdjust="spacingAndGlyphs">4</text>
<text x="27.5" y="194.1" font-size="10.5" text-anchor="end" fill="#4d4d4d" stroke="#4d4d4d" stroke-width="0.1" textLength="6.6" lengthAdjust="spacingAndGlyphs">6</text>
<text x="133.5" y="167.5" font-size="10.8" text-anchor="middle" font-weight="bold" fill="#1a1a1a" stroke="#1a1a1a" stroke-width="0.3" textLength="77.7" lengthAdjust="spacingAndGlyphs">Infrarenal DA</text>
<path d="M256.5 275.6H455 M256.5 250.6H455 M256.5 225.6H455 M256.5 200.6H455 M256.5 175.6H455 M265.5 173.8V299.4 M310.8 173.8V299.4 M401.2 173.8V299.4 M446.5 173.8V299.4" stroke="#ebebeb" stroke-width="1.1" fill="none"/>
<line x1="356.0" y1="173.8" x2="356.0" y2="299.4" stroke="#9e9e9e" stroke-width="1.3"/>
<clipPath id="cpVenaCava"><rect x="256.5" y="173.8" width="198.5" height="125.59999999999997"/></clipPath>
<g clip-path="url(#cpVenaCava)" fill="#c4c4c4" fill-opacity="0.25" stroke="#bdbdbd" stroke-opacity="0.3" stroke-width="0.6">
<circle cx="356.5" cy="300.5" r="2.4"/><circle cx="315.5" cy="290.4" r="2.4"/><circle cx="363.3" cy="299.9" r="2.4"/><circle cx="335.2" cy="296.2" r="2.4"/><circle cx="350.1" cy="300.1" r="2.4"/><circle cx="398.4" cy="289.0" r="2.4"/><circle cx="389.2" cy="296.3" r="2.4"/><circle cx="361.1" cy="298.9" r="2.4"/><circle cx="336.3" cy="288.9" r="2.4"/><circle cx="394.8" cy="294.5" r="2.4"/><circle cx="367.9" cy="297.2" r="2.4"/><circle cx="341.9" cy="298.4" r="2.4"/><circle cx="362.0" cy="299.2" r="2.4"/><circle cx="346.5" cy="296.3" r="2.4"/><circle cx="362.5" cy="299.9" r="2.4"/><circle cx="340.1" cy="299.2" r="2.4"/><circle cx="364.2" cy="297.5" r="2.4"/><circle cx="328.0" cy="296.5" r="2.4"/><circle cx="391.3" cy="294.4" r="2.4"/><circle cx="372.6" cy="291.5" r="2.4"/><circle cx="347.2" cy="299.2" r="2.4"/><circle cx="338.5" cy="298.5" r="2.4"/><circle cx="351.7" cy="300.0" r="2.4"/><circle cx="356.9" cy="300.4" r="2.4"/><circle cx="371.7" cy="299.2" r="2.4"/><circle cx="352.9" cy="299.8" r="2.4"/><circle cx="359.6" cy="299.8" r="2.4"/><circle cx="380.2" cy="296.4" r="2.4"/><circle cx="357.4" cy="300.3" r="2.4"/><circle cx="353.0" cy="300.1" r="2.4"/><circle cx="386.4" cy="291.0" r="2.4"/><circle cx="372.5" cy="297.9" r="2.4"/><circle cx="377.8" cy="298.4" r="2.4"/><circle cx="359.8" cy="299.9" r="2.4"/><circle cx="358.3" cy="299.9" r="2.4"/><circle cx="359.9" cy="299.6" r="2.4"/><circle cx="337.5" cy="298.5" r="2.4"/><circle cx="356.2" cy="300.6" r="2.4"/><circle cx="355.8" cy="300.5" r="2.4"/><circle cx="371.5" cy="296.9" r="2.4"/><circle cx="339.2" cy="292.2" r="2.4"/><circle cx="372.6" cy="298.1" r="2.4"/><circle cx="369.8" cy="298.1" r="2.4"/><circle cx="347.1" cy="298.2" r="2.4"/><circle cx="353.9" cy="300.4" r="2.4"/><circle cx="352.2" cy="300.1" r="2.4"/><circle cx="357.1" cy="300.5" r="2.4"/><circle cx="349.4" cy="298.1" r="2.4"/><circle cx="345.4" cy="299.6" r="2.4"/><circle cx="336.3" cy="296.8" r="2.4"/><circle cx="367.5" cy="295.1" r="2.4"/><circle cx="350.6" cy="299.2" r="2.4"/><circle cx="363.2" cy="299.5" r="2.4"/><circle cx="330.8" cy="298.1" r="2.4"/><circle cx="342.8" cy="299.5" r="2.4"/><circle cx="388.2" cy="293.0" r="2.4"/><circle cx="373.6" cy="298.9" r="2.4"/><circle cx="349.9" cy="299.7" r="2.4"/><circle cx="362.0" cy="299.8" r="2.4"/><circle cx="365.2" cy="299.4" r="2.4"/><circle cx="349.7" cy="298.2" r="2.4"/><circle cx="317.7" cy="285.2" r="2.4"/><circle cx="372.6" cy="297.5" r="2.4"/><circle cx="354.9" cy="300.5" r="2.4"/><circle cx="375.8" cy="291.5" r="2.4"/><circle cx="393.7" cy="295.5" r="2.4"/><circle cx="356.2" cy="300.6" r="2.4"/><circle cx="354.9" cy="300.5" r="2.4"/><circle cx="337.0" cy="298.6" r="2.4"/><circle cx="351.9" cy="300.0" r="2.4"/><circle cx="365.9" cy="297.7" r="2.4"/><circle cx="319.0" cy="296.3" r="2.4"/><circle cx="360.0" cy="299.6" r="2.4"/><circle cx="360.1" cy="300.0" r="2.4"/><circle cx="362.1" cy="299.1" r="2.4"/><circle cx="359.5" cy="299.9" r="2.4"/><circle cx="341.1" cy="295.1" r="2.4"/><circle cx="357.0" cy="300.3" r="2.4"/><circle cx="344.7" cy="296.9" r="2.4"/><circle cx="366.8" cy="298.4" r="2.4"/><circle cx="394.7" cy="295.5" r="2.4"/><circle cx="361.0" cy="299.3" r="2.4"/><circle cx="358.9" cy="300.0" r="2.4"/><circle cx="352.6" cy="299.7" r="2.4"/><circle cx="378.5" cy="294.6" r="2.4"/><circle cx="338.2" cy="294.7" r="2.4"/><circle cx="357.0" cy="300.5" r="2.4"/><circle cx="364.1" cy="298.1" r="2.4"/><circle cx="348.9" cy="298.2" r="2.4"/><circle cx="352.2" cy="299.4" r="2.4"/><circle cx="329.8" cy="295.8" r="2.4"/><circle cx="337.6" cy="295.1" r="2.4"/><circle cx="360.4" cy="299.3" r="2.4"/><circle cx="363.8" cy="298.8" r="2.4"/><circle cx="361.0" cy="298.9" r="2.4"/><circle cx="355.0" cy="300.4" r="2.4"/><circle cx="340.3" cy="293.0" r="2.4"/><circle cx="336.2" cy="295.8" r="2.4"/><circle cx="329.1" cy="296.0" r="2.4"/><circle cx="356.6" cy="300.5" r="2.4"/><circle cx="341.8" cy="298.9" r="2.4"/><circle cx="355.6" cy="300.5" r="2.4"/><circle cx="374.1" cy="295.8" r="2.4"/><circle cx="345.8" cy="298.1" r="2.4"/><circle cx="345.5" cy="296.3" r="2.4"/><circle cx="374.4" cy="292.3" r="2.4"/><circle cx="360.8" cy="300.2" r="2.4"/><circle cx="366.6" cy="295.9" r="2.4"/><circle cx="339.9" cy="299.0" r="2.4"/><circle cx="325.0" cy="297.0" r="2.4"/><circle cx="396.7" cy="294.6" r="2.4"/><circle cx="352.4" cy="299.7" r="2.4"/><circle cx="349.4" cy="299.9" r="2.4"/><circle cx="378.0" cy="297.0" r="2.4"/><circle cx="321.9" cy="294.8" r="2.4"/><circle cx="347.8" cy="299.7" r="2.4"/><circle cx="326.7" cy="293.0" r="2.4"/><circle cx="351.6" cy="299.6" r="2.4"/><circle cx="375.8" cy="294.5" r="2.4"/><circle cx="380.0" cy="298.1" r="2.4"/><circle cx="365.8" cy="298.0" r="2.4"/><circle cx="366.1" cy="299.4" r="2.4"/><circle cx="346.5" cy="297.1" r="2.4"/><circle cx="372.6" cy="298.5" r="2.4"/><circle cx="355.8" cy="300.6" r="2.4"/><circle cx="386.8" cy="287.6" r="2.4"/><circle cx="354.9" cy="300.5" r="2.4"/><circle cx="323.3" cy="284.0" r="2.4"/><circle cx="322.0" cy="292.3" r="2.4"/><circle cx="340.6" cy="294.9" r="2.4"/><circle cx="366.0" cy="299.6" r="2.4"/><circle cx="366.1" cy="298.7" r="2.4"/><circle cx="359.7" cy="300.3" r="2.4"/><circle cx="376.2" cy="290.1" r="2.4"/><circle cx="349.9" cy="299.6" r="2.4"/><circle cx="344.7" cy="295.3" r="2.4"/><circle cx="388.5" cy="294.6" r="2.4"/><circle cx="373.4" cy="296.5" r="2.4"/><circle cx="331.8" cy="298.2" r="2.4"/><circle cx="361.9" cy="298.8" r="2.4"/><circle cx="332.5" cy="298.3" r="2.4"/><circle cx="357.4" cy="300.5" r="2.4"/><circle cx="353.2" cy="300.2" r="2.4"/><circle cx="346.0" cy="299.5" r="2.4"/><circle cx="342.3" cy="297.3" r="2.4"/><circle cx="347.7" cy="298.9" r="2.4"/><circle cx="335.4" cy="292.6" r="2.4"/><circle cx="348.3" cy="298.2" r="2.4"/><circle cx="338.2" cy="294.8" r="2.4"/><circle cx="362.4" cy="299.9" r="2.4"/><circle cx="339.6" cy="296.4" r="2.4"/><circle cx="355.1" cy="300.5" r="2.4"/><circle cx="347.8" cy="298.4" r="2.4"/><circle cx="345.0" cy="299.4" r="2.4"/><circle cx="374.1" cy="289.1" r="2.4"/><circle cx="356.2" cy="300.6" r="2.4"/><circle cx="377.5" cy="289.6" r="2.4"/><circle cx="366.7" cy="298.4" r="2.4"/><circle cx="339.5" cy="298.6" r="2.4"/><circle cx="335.9" cy="295.7" r="2.4"/><circle cx="329.6" cy="297.7" r="2.4"/><circle cx="354.4" cy="300.3" r="2.4"/><circle cx="328.1" cy="294.6" r="2.4"/><circle cx="374.5" cy="298.2" r="2.4"/><circle cx="363.2" cy="298.3" r="2.4"/><circle cx="372.5" cy="297.1" r="2.4"/><circle cx="344.8" cy="299.5" r="2.4"/><circle cx="372.3" cy="292.6" r="2.4"/><circle cx="337.2" cy="292.1" r="2.4"/><circle cx="373.5" cy="297.5" r="2.4"/><circle cx="342.7" cy="299.1" r="2.4"/><circle cx="337.8" cy="292.9" r="2.4"/><circle cx="352.6" cy="299.5" r="2.4"/><circle cx="323.6" cy="294.6" r="2.4"/><circle cx="353.2" cy="299.9" r="2.4"/><circle cx="362.8" cy="299.6" r="2.4"/><circle cx="342.1" cy="297.0" r="2.4"/><circle cx="368.3" cy="298.5" r="2.4"/><circle cx="361.0" cy="300.0" r="2.4"/><circle cx="354.3" cy="300.4" r="2.4"/><circle cx="355.2" cy="300.4" r="2.4"/><circle cx="349.4" cy="300.1" r="2.4"/><circle cx="358.5" cy="300.4" r="2.4"/><circle cx="352.0" cy="299.8" r="2.4"/><circle cx="345.5" cy="297.4" r="2.4"/><circle cx="361.9" cy="300.0" r="2.4"/><circle cx="323.3" cy="285.1" r="2.4"/><circle cx="343.8" cy="298.7" r="2.4"/><circle cx="354.3" cy="300.1" r="2.4"/><circle cx="368.4" cy="298.1" r="2.4"/><circle cx="355.9" cy="300.6" r="2.4"/><circle cx="351.2" cy="298.9" r="2.4"/><circle cx="348.0" cy="297.3" r="2.4"/><circle cx="351.0" cy="299.1" r="2.4"/><circle cx="340.6" cy="297.0" r="2.4"/><circle cx="335.4" cy="298.3" r="2.4"/><circle cx="345.1" cy="296.1" r="2.4"/><circle cx="378.7" cy="291.6" r="2.4"/><circle cx="345.2" cy="296.6" r="2.4"/><circle cx="354.2" cy="300.1" r="2.4"/><circle cx="350.6" cy="299.3" r="2.4"/><circle cx="338.9" cy="294.4" r="2.4"/><circle cx="345.7" cy="298.6" r="2.4"/><circle cx="384.8" cy="295.0" r="2.4"/><circle cx="356.2" cy="300.6" r="2.4"/><circle cx="352.8" cy="300.3" r="2.4"/><circle cx="350.3" cy="299.0" r="2.4"/><circle cx="381.0" cy="295.7" r="2.4"/><circle cx="344.1" cy="299.3" r="2.4"/><circle cx="326.0" cy="297.4" r="2.4"/><circle cx="366.1" cy="297.9" r="2.4"/><circle cx="360.9" cy="299.0" r="2.4"/><circle cx="338.7" cy="298.8" r="2.4"/><circle cx="384.0" cy="290.5" r="2.4"/><circle cx="348.2" cy="299.7" r="2.4"/><circle cx="347.1" cy="298.2" r="2.4"/><circle cx="393.7" cy="295.8" r="2.4"/><circle cx="316.4" cy="295.2" r="2.4"/><circle cx="345.6" cy="299.6" r="2.4"/><circle cx="375.6" cy="295.6" r="2.4"/><circle cx="352.2" cy="299.5" r="2.4"/><circle cx="363.7" cy="298.1" r="2.4"/><circle cx="344.8" cy="296.4" r="2.4"/><circle cx="358.0" cy="300.3" r="2.4"/><circle cx="385.5" cy="297.5" r="2.4"/><circle cx="348.3" cy="299.4" r="2.4"/><circle cx="347.2" cy="299.9" r="2.4"/><circle cx="390.6" cy="294.7" r="2.4"/><circle cx="345.1" cy="295.2" r="2.4"/><circle cx="373.9" cy="297.8" r="2.4"/><circle cx="343.5" cy="298.9" r="2.4"/><circle cx="349.0" cy="299.4" r="2.4"/><circle cx="355.5" cy="300.5" r="2.4"/><circle cx="341.6" cy="296.7" r="2.4"/><circle cx="366.5" cy="299.2" r="2.4"/><circle cx="339.0" cy="297.8" r="2.4"/><circle cx="372.5" cy="298.0" r="2.4"/><circle cx="362.6" cy="299.0" r="2.4"/><circle cx="360.0" cy="299.3" r="2.4"/><circle cx="368.4" cy="299.1" r="2.4"/><circle cx="328.5" cy="295.5" r="2.4"/><circle cx="356.4" cy="300.6" r="2.4"/><circle cx="394.1" cy="292.5" r="2.4"/><circle cx="377.4" cy="288.3" r="2.4"/><circle cx="342.7" cy="299.1" r="2.4"/><circle cx="346.6" cy="299.7" r="2.4"/><circle cx="368.7" cy="294.3" r="2.4"/><circle cx="319.6" cy="285.5" r="2.4"/><circle cx="325.0" cy="295.9" r="2.4"/><circle cx="377.6" cy="292.7" r="2.4"/><circle cx="371.4" cy="294.6" r="2.4"/><circle cx="316.3" cy="293.6" r="2.4"/><circle cx="354.7" cy="300.4" r="2.4"/><circle cx="391.9" cy="295.8" r="2.4"/><circle cx="358.4" cy="300.3" r="2.4"/><circle cx="365.2" cy="297.9" r="2.4"/><circle cx="364.9" cy="299.8" r="2.4"/><circle cx="361.7" cy="299.2" r="2.4"/><circle cx="397.4" cy="294.6" r="2.4"/><circle cx="354.0" cy="300.1" r="2.4"/><circle cx="387.0" cy="296.2" r="2.4"/><circle cx="357.5" cy="300.1" r="2.4"/><circle cx="392.3" cy="295.3" r="2.4"/><circle cx="355.9" cy="300.6" r="2.4"/><circle cx="349.6" cy="300.0" r="2.4"/><circle cx="359.6" cy="299.7" r="2.4"/><circle cx="338.7" cy="291.2" r="2.4"/><circle cx="370.6" cy="299.2" r="2.4"/><circle cx="358.8" cy="300.0" r="2.4"/><circle cx="383.5" cy="296.2" r="2.4"/><circle cx="345.2" cy="299.6" r="2.4"/><circle cx="353.3" cy="300.1" r="2.4"/><circle cx="354.1" cy="300.1" r="2.4"/><circle cx="340.3" cy="293.7" r="2.4"/><circle cx="354.8" cy="300.3" r="2.4"/><circle cx="359.4" cy="299.8" r="2.4"/><circle cx="354.1" cy="300.5" r="2.4"/><circle cx="374.8" cy="297.2" r="2.4"/><circle cx="344.1" cy="298.0" r="2.4"/><circle cx="346.5" cy="298.4" r="2.4"/><circle cx="348.4" cy="299.6" r="2.4"/><circle cx="355.2" cy="300.5" r="2.4"/><circle cx="363.4" cy="299.2" r="2.4"/><circle cx="350.8" cy="299.6" r="2.4"/><circle cx="343.0" cy="298.2" r="2.4"/><circle cx="364.4" cy="299.0" r="2.4"/><circle cx="364.5" cy="299.6" r="2.4"/><circle cx="373.8" cy="297.4" r="2.4"/><circle cx="397.0" cy="291.2" r="2.4"/><circle cx="374.6" cy="298.6" r="2.4"/><circle cx="359.7" cy="299.6" r="2.4"/><circle cx="373.4" cy="297.3" r="2.4"/><circle cx="389.4" cy="295.0" r="2.4"/><circle cx="344.3" cy="299.4" r="2.4"/><circle cx="375.8" cy="295.8" r="2.4"/><circle cx="361.2" cy="299.5" r="2.4"/><circle cx="320.5" cy="292.8" r="2.4"/><circle cx="375.8" cy="297.2" r="2.4"/><circle cx="336.0" cy="298.5" r="2.4"/><circle cx="363.7" cy="299.9" r="2.4"/><circle cx="335.7" cy="294.6" r="2.4"/><circle cx="354.7" cy="300.5" r="2.4"/><circle cx="379.9" cy="297.6" r="2.4"/><circle cx="362.9" cy="300.1" r="2.4"/><circle cx="368.0" cy="298.0" r="2.4"/><circle cx="352.5" cy="299.6" r="2.4"/><circle cx="347.0" cy="298.1" r="2.4"/><circle cx="347.1" cy="296.9" r="2.4"/><circle cx="371.6" cy="298.9" r="2.4"/><circle cx="335.0" cy="297.2" r="2.4"/><circle cx="338.1" cy="295.0" r="2.4"/><circle cx="332.8" cy="298.1" r="2.4"/><circle cx="357.7" cy="300.4" r="2.4"/><circle cx="341.6" cy="292.5" r="2.4"/><circle cx="346.0" cy="299.5" r="2.4"/><circle cx="346.2" cy="299.1" r="2.4"/><circle cx="361.4" cy="300.1" r="2.4"/><circle cx="369.9" cy="298.1" r="2.4"/><circle cx="368.2" cy="299.0" r="2.4"/><circle cx="362.7" cy="298.2" r="2.4"/><circle cx="358.5" cy="300.1" r="2.4"/><circle cx="372.4" cy="293.7" r="2.4"/><circle cx="345.2" cy="299.1" r="2.4"/><circle cx="348.0" cy="299.8" r="2.4"/><circle cx="370.4" cy="293.5" r="2.4"/><circle cx="362.0" cy="299.3" r="2.4"/><circle cx="341.7" cy="295.8" r="2.4"/><circle cx="344.9" cy="299.2" r="2.4"/><circle cx="337.4" cy="289.3" r="2.4"/><circle cx="392.3" cy="293.5" r="2.4"/><circle cx="352.1" cy="300.0" r="2.4"/><circle cx="356.7" cy="300.4" r="2.4"/><circle cx="364.9" cy="298.9" r="2.4"/><circle cx="366.3" cy="296.9" r="2.4"/><circle cx="347.5" cy="299.0" r="2.4"/><circle cx="342.3" cy="295.5" r="2.4"/><circle cx="341.2" cy="292.8" r="2.4"/><circle cx="340.4" cy="297.4" r="2.4"/><circle cx="369.6" cy="298.0" r="2.4"/><circle cx="370.9" cy="296.8" r="2.4"/><circle cx="329.5" cy="296.9" r="2.4"/><circle cx="359.7" cy="299.4" r="2.4"/><circle cx="368.1" cy="297.5" r="2.4"/><circle cx="348.0" cy="299.4" r="2.4"/><circle cx="387.1" cy="292.7" r="2.4"/><circle cx="355.4" cy="300.5" r="2.4"/><circle cx="319.6" cy="296.3" r="2.4"/><circle cx="361.2" cy="299.8" r="2.4"/><circle cx="342.6" cy="298.8" r="2.4"/><circle cx="350.9" cy="299.6" r="2.4"/><circle cx="346.7" cy="296.6" r="2.4"/><circle cx="373.3" cy="297.7" r="2.4"/><circle cx="368.5" cy="299.5" r="2.4"/><circle cx="344.1" cy="298.1" r="2.4"/><circle cx="377.8" cy="296.1" r="2.4"/><circle cx="353.5" cy="300.0" r="2.4"/><circle cx="348.8" cy="299.6" r="2.4"/><circle cx="373.7" cy="290.3" r="2.4"/><circle cx="348.8" cy="298.5" r="2.4"/><circle cx="376.5" cy="297.1" r="2.4"/><circle cx="364.4" cy="299.6" r="2.4"/><circle cx="367.3" cy="299.0" r="2.4"/><circle cx="319.8" cy="290.8" r="2.4"/><circle cx="349.5" cy="299.5" r="2.4"/><circle cx="345.4" cy="298.9" r="2.4"/><circle cx="329.9" cy="297.2" r="2.4"/><circle cx="370.8" cy="298.5" r="2.4"/><circle cx="349.8" cy="298.7" r="2.4"/><circle cx="329.7" cy="294.9" r="2.4"/><circle cx="314.3" cy="289.4" r="2.4"/><circle cx="362.3" cy="298.6" r="2.4"/><circle cx="329.8" cy="297.3" r="2.4"/><circle cx="359.3" cy="299.8" r="2.4"/><circle cx="356.5" cy="300.5" r="2.4"/><circle cx="384.0" cy="297.4" r="2.4"/><circle cx="332.6" cy="295.4" r="2.4"/><circle cx="345.6" cy="299.5" r="2.4"/><circle cx="347.4" cy="297.1" r="2.4"/><circle cx="344.8" cy="296.6" r="2.4"/><circle cx="343.5" cy="298.1" r="2.4"/><circle cx="341.2" cy="295.5" r="2.4"/><circle cx="361.6" cy="298.9" r="2.4"/><circle cx="356.6" cy="300.5" r="2.4"/><circle cx="352.9" cy="299.9" r="2.4"/><circle cx="359.5" cy="299.6" r="2.4"/><circle cx="349.5" cy="299.5" r="2.4"/><circle cx="348.7" cy="299.9" r="2.4"/><circle cx="330.3" cy="292.0" r="2.4"/><circle cx="368.6" cy="298.5" r="2.4"/><circle cx="354.0" cy="300.2" r="2.4"/><circle cx="368.8" cy="296.4" r="2.4"/><circle cx="356.9" cy="300.5" r="2.4"/><circle cx="344.3" cy="296.8" r="2.4"/><circle cx="374.5" cy="293.8" r="2.4"/><circle cx="320.2" cy="293.9" r="2.4"/><circle cx="346.0" cy="296.0" r="2.4"/><circle cx="360.8" cy="299.8" r="2.4"/><circle cx="357.4" cy="300.5" r="2.4"/><circle cx="361.9" cy="299.4" r="2.4"/><circle cx="358.6" cy="300.0" r="2.4"/><circle cx="368.0" cy="298.5" r="2.4"/><circle cx="356.0" cy="300.6" r="2.4"/><circle cx="346.1" cy="298.4" r="2.4"/><circle cx="360.6" cy="299.6" r="2.4"/><circle cx="354.7" cy="300.5" r="2.4"/><circle cx="345.8" cy="297.7" r="2.4"/><circle cx="380.6" cy="297.6" r="2.4"/><circle cx="362.8" cy="298.1" r="2.4"/><circle cx="338.0" cy="293.6" r="2.4"/><circle cx="396.9" cy="295.0" r="2.4"/><circle cx="344.5" cy="296.1" r="2.4"/><circle cx="364.5" cy="297.0" r="2.4"/><circle cx="369.7" cy="297.7" r="2.4"/><circle cx="364.1" cy="298.4" r="2.4"/><circle cx="355.6" cy="300.5" r="2.4"/><circle cx="366.2" cy="299.3" r="2.4"/><circle cx="368.4" cy="294.7" r="2.4"/><circle cx="355.4" cy="300.4" r="2.4"/><circle cx="354.6" cy="300.5" r="2.4"/><circle cx="338.8" cy="295.7" r="2.4"/><circle cx="362.2" cy="299.1" r="2.4"/><circle cx="354.9" cy="300.5" r="2.4"/><circle cx="364.1" cy="299.7" r="2.4"/><circle cx="368.2" cy="299.3" r="2.4"/><circle cx="330.3" cy="291.6" r="2.4"/><circle cx="358.3" cy="300.0" r="2.4"/><circle cx="365.6" cy="297.6" r="2.4"/><circle cx="378.4" cy="290.8" r="2.4"/><circle cx="341.9" cy="298.8" r="2.4"/><circle cx="387.4" cy="295.5" r="2.4"/><circle cx="360.8" cy="299.5" r="2.4"/><circle cx="373.0" cy="291.2" r="2.4"/><circle cx="388.9" cy="294.1" r="2.4"/><circle cx="319.5" cy="295.8" r="2.4"/><circle cx="347.0" cy="296.8" r="2.4"/><circle cx="351.4" cy="299.4" r="2.4"/><circle cx="344.1" cy="297.5" r="2.4"/><circle cx="333.9" cy="294.2" r="2.4"/><circle cx="322.2" cy="296.6" r="2.4"/><circle cx="324.7" cy="297.2" r="2.4"/><circle cx="354.1" cy="300.5" r="2.4"/><circle cx="361.4" cy="299.7" r="2.4"/><circle cx="370.5" cy="299.2" r="2.4"/><circle cx="356.8" cy="300.4" r="2.4"/><circle cx="371.9" cy="299.0" r="2.4"/><circle cx="328.4" cy="296.7" r="2.4"/><circle cx="386.9" cy="297.1" r="2.4"/><circle cx="329.6" cy="292.2" r="2.4"/><circle cx="373.9" cy="296.3" r="2.4"/><circle cx="337.6" cy="298.9" r="2.4"/><circle cx="365.2" cy="297.5" r="2.4"/><circle cx="357.7" cy="300.3" r="2.4"/><circle cx="362.5" cy="299.9" r="2.4"/><circle cx="337.1" cy="298.1" r="2.4"/><circle cx="352.6" cy="299.9" r="2.4"/><circle cx="372.8" cy="296.9" r="2.4"/><circle cx="372.9" cy="290.3" r="2.4"/><circle cx="360.2" cy="299.8" r="2.4"/><circle cx="375.1" cy="295.5" r="2.4"/><circle cx="337.1" cy="296.1" r="2.4"/><circle cx="360.0" cy="300.0" r="2.4"/><circle cx="351.4" cy="299.5" r="2.4"/><circle cx="344.5" cy="296.3" r="2.4"/><circle cx="370.4" cy="297.3" r="2.4"/><circle cx="376.7" cy="297.0" r="2.4"/><circle cx="350.5" cy="299.5" r="2.4"/><circle cx="380.4" cy="295.5" r="2.4"/><circle cx="386.7" cy="295.6" r="2.4"/><circle cx="341.2" cy="298.8" r="2.4"/><circle cx="365.4" cy="298.3" r="2.4"/><circle cx="369.3" cy="298.0" r="2.4"/><circle cx="329.5" cy="296.4" r="2.4"/><circle cx="348.4" cy="297.8" r="2.4"/><circle cx="342.1" cy="296.3" r="2.4"/><circle cx="347.0" cy="298.7" r="2.4"/><circle cx="358.3" cy="300.0" r="2.4"/><circle cx="352.8" cy="299.6" r="2.4"/><circle cx="327.4" cy="294.5" r="2.4"/><circle cx="334.3" cy="296.8" r="2.4"/><circle cx="346.8" cy="297.4" r="2.4"/><circle cx="338.9" cy="298.6" r="2.4"/><circle cx="385.8" cy="296.0" r="2.4"/><circle cx="345.8" cy="298.6" r="2.4"/><circle cx="352.9" cy="300.2" r="2.4"/><circle cx="376.7" cy="297.5" r="2.4"/><circle cx="343.9" cy="295.6" r="2.4"/><circle cx="357.3" cy="300.4" r="2.4"/><circle cx="357.1" cy="300.3" r="2.4"/><circle cx="361.2" cy="300.0" r="2.4"/><circle cx="356.2" cy="300.6" r="2.4"/><circle cx="375.9" cy="289.6" r="2.4"/><circle cx="369.8" cy="294.5" r="2.4"/><circle cx="372.8" cy="297.4" r="2.4"/><circle cx="359.7" cy="300.0" r="2.4"/><circle cx="364.2" cy="299.3" r="2.4"/><circle cx="346.3" cy="298.0" r="2.4"/><circle cx="336.1" cy="296.3" r="2.4"/><circle cx="383.3" cy="297.7" r="2.4"/><circle cx="364.7" cy="296.8" r="2.4"/><circle cx="349.4" cy="299.6" r="2.4"/><circle cx="378.2" cy="297.1" r="2.4"/><circle cx="362.7" cy="298.9" r="2.4"/><circle cx="335.8" cy="297.2" r="2.4"/><circle cx="352.4" cy="300.0" r="2.4"/><circle cx="363.8" cy="298.4" r="2.4"/><circle cx="342.5" cy="299.3" r="2.4"/><circle cx="360.0" cy="300.2" r="2.4"/><circle cx="352.3" cy="300.2" r="2.4"/><circle cx="377.6" cy="289.0" r="2.4"/><circle cx="393.2" cy="296.3" r="2.4"/><circle cx="358.2" cy="300.3" r="2.4"/><circle cx="327.0" cy="297.0" r="2.4"/><circle cx="401.2" cy="291.2" r="2.4"/><circle cx="346.8" cy="297.7" r="2.4"/><circle cx="351.2" cy="299.8" r="2.4"/><circle cx="358.3" cy="300.4" r="2.4"/><circle cx="367.5" cy="298.0" r="2.4"/><circle cx="375.5" cy="297.2" r="2.4"/><circle cx="333.8" cy="289.3" r="2.4"/><circle cx="314.9" cy="294.6" r="2.4"/><circle cx="339.1" cy="293.3" r="2.4"/><circle cx="319.0" cy="294.6" r="2.4"/><circle cx="354.7" cy="300.5" r="2.4"/><circle cx="351.0" cy="299.9" r="2.4"/><circle cx="351.1" cy="299.8" r="2.4"/><circle cx="395.3" cy="293.7" r="2.4"/><circle cx="350.4" cy="299.9" r="2.4"/><circle cx="363.7" cy="298.4" r="2.4"/><circle cx="365.7" cy="296.2" r="2.4"/><circle cx="343.6" cy="295.7" r="2.4"/><circle cx="406.0" cy="283.0" r="2.4"/><circle cx="412.0" cy="283.2" r="2.4"/>
</g>
<text x="250.0" y="279.4" font-size="10.5" text-anchor="end" fill="#4d4d4d" stroke="#4d4d4d" stroke-width="0.1" textLength="6.6" lengthAdjust="spacingAndGlyphs">5</text>
<text x="250.0" y="254.4" font-size="10.5" text-anchor="end" fill="#4d4d4d" stroke="#4d4d4d" stroke-width="0.1" textLength="13.1" lengthAdjust="spacingAndGlyphs">10</text>
<text x="250.0" y="229.4" font-size="10.5" text-anchor="end" fill="#4d4d4d" stroke="#4d4d4d" stroke-width="0.1" textLength="13.1" lengthAdjust="spacingAndGlyphs">15</text>
<text x="250.0" y="204.4" font-size="10.5" text-anchor="end" fill="#4d4d4d" stroke="#4d4d4d" stroke-width="0.1" textLength="13.1" lengthAdjust="spacingAndGlyphs">20</text>
<text x="250.0" y="179.4" font-size="10.5" text-anchor="end" fill="#4d4d4d" stroke="#4d4d4d" stroke-width="0.1" textLength="13.1" lengthAdjust="spacingAndGlyphs">25</text>
<text x="355.8" y="167.5" font-size="10.8" text-anchor="middle" font-weight="bold" fill="#1a1a1a" stroke="#1a1a1a" stroke-width="0.3" textLength="60.1" lengthAdjust="spacingAndGlyphs">Vena Cava</text>
<path d="M485 269.0H684 M485 237.8H684 M485 206.6H684 M485 175.4H684 M494.1 173.8V299.4 M539.4 173.8V299.4 M629.9 173.8V299.4 M675.1 173.8V299.4" stroke="#ebebeb" stroke-width="1.1" fill="none"/>
<line x1="584.6" y1="173.8" x2="584.6" y2="299.4" stroke="#9e9e9e" stroke-width="1.3"/>
<clipPath id="cpHeartvol"><rect x="485" y="173.8" width="199" height="125.59999999999997"/></clipPath>
<g clip-path="url(#cpHeartvol)" fill="#c4c4c4" fill-opacity="0.25" stroke="#bdbdbd" stroke-opacity="0.3" stroke-width="0.6">
<circle cx="591.8" cy="300.1" r="2.4"/><circle cx="602.8" cy="299.9" r="2.4"/><circle cx="566.6" cy="299.7" r="2.4"/><circle cx="564.5" cy="299.5" r="2.4"/><circle cx="590.6" cy="300.1" r="2.4"/><circle cx="616.1" cy="299.5" r="2.4"/><circle cx="592.8" cy="300.0" r="2.4"/><circle cx="595.4" cy="300.0" r="2.4"/><circle cx="573.3" cy="300.0" r="2.4"/><circle cx="589.2" cy="300.1" r="2.4"/><circle cx="561.2" cy="299.4" r="2.4"/><circle cx="627.1" cy="299.8" r="2.4"/><circle cx="580.9" cy="300.1" r="2.4"/><circle cx="594.1" cy="300.0" r="2.4"/><circle cx="613.6" cy="299.6" r="2.4"/><circle cx="582.9" cy="300.2" r="2.4"/><circle cx="542.4" cy="298.6" r="2.4"/><circle cx="587.1" cy="300.1" r="2.4"/><circle cx="535.4" cy="299.2" r="2.4"/><circle cx="590.0" cy="300.1" r="2.4"/><circle cx="582.3" cy="300.2" r="2.4"/><circle cx="595.3" cy="300.0" r="2.4"/><circle cx="585.6" cy="300.2" r="2.4"/><circle cx="555.2" cy="299.4" r="2.4"/><circle cx="635.4" cy="299.4" r="2.4"/><circle cx="596.4" cy="299.9" r="2.4"/><circle cx="551.3" cy="299.7" r="2.4"/><circle cx="580.7" cy="300.1" r="2.4"/><circle cx="602.8" cy="300.0" r="2.4"/><circle cx="551.3" cy="299.3" r="2.4"/><circle cx="588.2" cy="300.1" r="2.4"/><circle cx="562.3" cy="300.0" r="2.4"/><circle cx="568.7" cy="299.8" r="2.4"/><circle cx="596.1" cy="300.1" r="2.4"/><circle cx="550.4" cy="299.7" r="2.4"/><circle cx="594.9" cy="300.0" r="2.4"/><circle cx="588.5" cy="300.1" r="2.4"/><circle cx="579.1" cy="300.1" r="2.4"/><circle cx="550.8" cy="299.8" r="2.4"/><circle cx="585.4" cy="300.2" r="2.4"/><circle cx="620.4" cy="298.7" r="2.4"/><circle cx="563.0" cy="299.6" r="2.4"/><circle cx="565.4" cy="299.8" r="2.4"/><circle cx="565.5" cy="299.7" r="2.4"/><circle cx="583.6" cy="300.2" r="2.4"/><circle cx="543.5" cy="299.3" r="2.4"/><circle cx="584.1" cy="300.2" r="2.4"/><circle cx="541.3" cy="299.6" r="2.4"/><circle cx="583.4" cy="300.2" r="2.4"/><circle cx="620.7" cy="299.2" r="2.4"/><circle cx="540.5" cy="299.6" r="2.4"/><circle cx="579.4" cy="300.1" r="2.4"/><circle cx="627.0" cy="299.5" r="2.4"/><circle cx="545.7" cy="299.2" r="2.4"/><circle cx="619.9" cy="299.8" r="2.4"/><circle cx="576.7" cy="300.0" r="2.4"/><circle cx="559.1" cy="299.8" r="2.4"/><circle cx="580.7" cy="300.1" r="2.4"/><circle cx="584.5" cy="300.2" r="2.4"/><circle cx="565.2" cy="299.9" r="2.4"/><circle cx="581.2" cy="300.1" r="2.4"/><circle cx="601.5" cy="299.8" r="2.4"/><circle cx="588.5" cy="300.2" r="2.4"/><circle cx="600.9" cy="299.8" r="2.4"/><circle cx="587.6" cy="300.1" r="2.4"/><circle cx="636.1" cy="299.7" r="2.4"/><circle cx="607.8" cy="299.5" r="2.4"/><circle cx="549.4" cy="299.3" r="2.4"/><circle cx="579.9" cy="300.1" r="2.4"/><circle cx="590.7" cy="300.1" r="2.4"/><circle cx="563.5" cy="299.8" r="2.4"/><circle cx="571.4" cy="299.7" r="2.4"/><circle cx="586.7" cy="300.2" r="2.4"/><circle cx="577.8" cy="300.0" r="2.4"/><circle cx="561.5" cy="299.8" r="2.4"/><circle cx="624.4" cy="299.4" r="2.4"/><circle cx="572.9" cy="300.1" r="2.4"/><circle cx="564.0" cy="299.4" r="2.4"/><circle cx="600.9" cy="300.0" r="2.4"/><circle cx="578.8" cy="300.1" r="2.4"/><circle cx="605.7" cy="300.0" r="2.4"/><circle cx="533.7" cy="299.6" r="2.4"/><circle cx="575.1" cy="300.1" r="2.4"/><circle cx="611.6" cy="299.5" r="2.4"/><circle cx="637.4" cy="299.5" r="2.4"/><circle cx="581.6" cy="300.2" r="2.4"/><circle cx="547.4" cy="299.7" r="2.4"/><circle cx="569.4" cy="299.8" r="2.4"/><circle cx="569.5" cy="299.8" r="2.4"/><circle cx="604.5" cy="299.8" r="2.4"/><circle cx="575.5" cy="300.1" r="2.4"/><circle cx="557.1" cy="299.9" r="2.4"/><circle cx="568.2" cy="299.8" r="2.4"/><circle cx="571.3" cy="300.0" r="2.4"/><circle cx="561.5" cy="299.8" r="2.4"/><circle cx="559.4" cy="299.6" r="2.4"/><circle cx="627.4" cy="299.0" r="2.4"/><circle cx="590.9" cy="300.1" r="2.4"/><circle cx="592.0" cy="300.0" r="2.4"/><circle cx="597.6" cy="299.9" r="2.4"/><circle cx="579.5" cy="300.1" r="2.4"/><circle cx="600.2" cy="299.9" r="2.4"/><circle cx="625.4" cy="299.8" r="2.4"/><circle cx="609.5" cy="299.7" r="2.4"/><circle cx="569.1" cy="299.9" r="2.4"/><circle cx="569.9" cy="299.8" r="2.4"/><circle cx="619.0" cy="298.3" r="2.4"/><circle cx="599.8" cy="299.8" r="2.4"/><circle cx="602.0" cy="299.9" r="2.4"/><circle cx="607.6" cy="299.4" r="2.4"/><circle cx="597.1" cy="299.8" r="2.4"/><circle cx="571.0" cy="300.0" r="2.4"/><circle cx="592.6" cy="300.1" r="2.4"/><circle cx="590.9" cy="300.1" r="2.4"/><circle cx="565.9" cy="299.5" r="2.4"/><circle cx="588.6" cy="300.1" r="2.4"/><circle cx="585.9" cy="300.2" r="2.4"/><circle cx="618.8" cy="299.4" r="2.4"/><circle cx="598.4" cy="299.8" r="2.4"/><circle cx="564.8" cy="299.7" r="2.4"/><circle cx="606.8" cy="300.0" r="2.4"/><circle cx="570.5" cy="299.9" r="2.4"/><circle cx="586.5" cy="300.2" r="2.4"/><circle cx="592.9" cy="300.0" r="2.4"/><circle cx="607.8" cy="299.8" r="2.4"/><circle cx="551.5" cy="299.8" r="2.4"/><circle cx="579.9" cy="300.1" r="2.4"/><circle cx="572.1" cy="299.8" r="2.4"/><circle cx="550.0" cy="299.7" r="2.4"/><circle cx="617.0" cy="299.8" r="2.4"/><circle cx="539.4" cy="299.4" r="2.4"/><circle cx="603.1" cy="299.5" r="2.4"/><circle cx="607.3" cy="299.9" r="2.4"/><circle cx="543.4" cy="299.4" r="2.4"/><circle cx="617.6" cy="299.2" r="2.4"/><circle cx="567.9" cy="299.8" r="2.4"/><circle cx="561.5" cy="299.6" r="2.4"/><circle cx="596.8" cy="300.0" r="2.4"/><circle cx="568.1" cy="300.0" r="2.4"/><circle cx="578.1" cy="300.1" r="2.4"/><circle cx="582.2" cy="300.1" r="2.4"/><circle cx="632.0" cy="299.6" r="2.4"/><circle cx="588.9" cy="300.1" r="2.4"/><circle cx="537.5" cy="298.9" r="2.4"/><circle cx="543.9" cy="299.7" r="2.4"/><circle cx="562.3" cy="299.9" r="2.4"/><circle cx="568.1" cy="300.1" r="2.4"/><circle cx="618.3" cy="299.7" r="2.4"/><circle cx="624.3" cy="299.2" r="2.4"/><circle cx="565.0" cy="300.0" r="2.4"/><circle cx="562.2" cy="299.9" r="2.4"/><circle cx="557.9" cy="299.9" r="2.4"/><circle cx="540.4" cy="299.3" r="2.4"/><circle cx="543.1" cy="299.3" r="2.4"/><circle cx="551.8" cy="299.2" r="2.4"/><circle cx="592.8" cy="300.0" r="2.4"/><circle cx="572.9" cy="299.9" r="2.4"/><circle cx="593.7" cy="299.9" r="2.4"/><circle cx="579.1" cy="300.1" r="2.4"/><circle cx="563.2" cy="299.4" r="2.4"/><circle cx="585.6" cy="300.2" r="2.4"/><circle cx="638.6" cy="299.5" r="2.4"/><circle cx="580.5" cy="300.2" r="2.4"/><circle cx="617.9" cy="298.7" r="2.4"/><circle cx="598.8" cy="299.9" r="2.4"/><circle cx="574.9" cy="299.9" r="2.4"/><circle cx="591.0" cy="300.1" r="2.4"/><circle cx="588.0" cy="300.1" r="2.4"/><circle cx="623.2" cy="299.5" r="2.4"/><circle cx="601.5" cy="299.7" r="2.4"/><circle cx="625.6" cy="299.7" r="2.4"/><circle cx="622.8" cy="299.7" r="2.4"/><circle cx="574.8" cy="300.0" r="2.4"/><circle cx="605.8" cy="299.4" r="2.4"/><circle cx="579.3" cy="300.1" r="2.4"/><circle cx="601.6" cy="299.6" r="2.4"/><circle cx="596.9" cy="300.1" r="2.4"/><circle cx="585.1" cy="300.2" r="2.4"/><circle cx="601.5" cy="299.9" r="2.4"/><circle cx="584.6" cy="300.2" r="2.4"/><circle cx="582.8" cy="300.2" r="2.4"/><circle cx="580.9" cy="300.1" r="2.4"/><circle cx="560.9" cy="299.8" r="2.4"/><circle cx="577.7" cy="300.1" r="2.4"/><circle cx="580.2" cy="300.1" r="2.4"/><circle cx="608.9" cy="299.6" r="2.4"/><circle cx="580.1" cy="300.1" r="2.4"/><circle cx="568.9" cy="300.0" r="2.4"/><circle cx="593.0" cy="300.1" r="2.4"/><circle cx="597.9" cy="299.9" r="2.4"/><circle cx="589.2" cy="300.1" r="2.4"/><circle cx="582.8" cy="300.2" r="2.4"/><circle cx="567.4" cy="300.0" r="2.4"/><circle cx="589.7" cy="300.2" r="2.4"/><circle cx="579.7" cy="300.2" r="2.4"/><circle cx="637.2" cy="299.3" r="2.4"/><circle cx="589.8" cy="300.0" r="2.4"/><circle cx="624.6" cy="299.8" r="2.4"/><circle cx="602.0" cy="300.0" r="2.4"/><circle cx="578.3" cy="300.1" r="2.4"/><circle cx="614.2" cy="299.9" r="2.4"/><circle cx="595.0" cy="300.1" r="2.4"/><circle cx="569.6" cy="300.0" r="2.4"/><circle cx="590.1" cy="300.1" r="2.4"/><circle cx="609.3" cy="299.2" r="2.4"/><circle cx="605.6" cy="299.8" r="2.4"/><circle cx="572.6" cy="300.1" r="2.4"/><circle cx="608.4" cy="299.7" r="2.4"/><circle cx="589.2" cy="300.1" r="2.4"/><circle cx="586.7" cy="300.2" r="2.4"/><circle cx="594.2" cy="300.0" r="2.4"/><circle cx="548.8" cy="299.8" r="2.4"/><circle cx="589.9" cy="300.0" r="2.4"/><circle cx="592.0" cy="300.0" r="2.4"/><circle cx="570.2" cy="299.7" r="2.4"/><circle cx="618.7" cy="299.5" r="2.4"/><circle cx="576.8" cy="300.0" r="2.4"/><circle cx="605.1" cy="299.7" r="2.4"/><circle cx="555.6" cy="299.7" r="2.4"/><circle cx="584.5" cy="300.2" r="2.4"/><circle cx="588.8" cy="300.1" r="2.4"/><circle cx="575.4" cy="300.0" r="2.4"/><circle cx="560.6" cy="299.5" r="2.4"/><circle cx="600.2" cy="299.9" r="2.4"/><circle cx="599.5" cy="299.9" r="2.4"/><circle cx="598.2" cy="299.7" r="2.4"/><circle cx="609.7" cy="299.0" r="2.4"/><circle cx="600.3" cy="300.0" r="2.4"/><circle cx="598.3" cy="299.9" r="2.4"/><circle cx="574.9" cy="300.0" r="2.4"/><circle cx="572.8" cy="299.9" r="2.4"/><circle cx="610.3" cy="299.5" r="2.4"/><circle cx="573.3" cy="299.9" r="2.4"/><circle cx="605.6" cy="299.7" r="2.4"/><circle cx="594.6" cy="299.9" r="2.4"/><circle cx="564.1" cy="299.7" r="2.4"/><circle cx="586.6" cy="300.2" r="2.4"/><circle cx="589.9" cy="300.1" r="2.4"/><circle cx="627.2" cy="299.4" r="2.4"/><circle cx="603.6" cy="299.7" r="2.4"/><circle cx="601.4" cy="299.7" r="2.4"/><circle cx="566.0" cy="299.8" r="2.4"/><circle cx="591.2" cy="300.0" r="2.4"/><circle cx="600.1" cy="299.9" r="2.4"/><circle cx="626.4" cy="299.0" r="2.4"/><circle cx="562.1" cy="299.6" r="2.4"/><circle cx="602.6" cy="299.9" r="2.4"/><circle cx="577.0" cy="300.1" r="2.4"/><circle cx="567.9" cy="299.7" r="2.4"/><circle cx="607.2" cy="299.7" r="2.4"/><circle cx="588.7" cy="300.1" r="2.4"/><circle cx="596.7" cy="300.1" r="2.4"/><circle cx="550.9" cy="298.9" r="2.4"/><circle cx="553.4" cy="299.9" r="2.4"/><circle cx="568.3" cy="299.5" r="2.4"/><circle cx="590.2" cy="300.1" r="2.4"/><circle cx="585.9" cy="300.2" r="2.4"/><circle cx="569.5" cy="299.8" r="2.4"/><circle cx="634.4" cy="299.0" r="2.4"/><circle cx="572.1" cy="299.9" r="2.4"/><circle cx="585.4" cy="300.2" r="2.4"/><circle cx="533.6" cy="298.5" r="2.4"/><circle cx="567.2" cy="299.9" r="2.4"/><circle cx="586.9" cy="300.2" r="2.4"/><circle cx="637.5" cy="299.2" r="2.4"/><circle cx="609.4" cy="299.8" r="2.4"/><circle cx="577.9" cy="300.1" r="2.4"/><circle cx="553.6" cy="299.2" r="2.4"/><circle cx="566.1" cy="299.7" r="2.4"/><circle cx="609.0" cy="299.2" r="2.4"/><circle cx="582.8" cy="300.2" r="2.4"/><circle cx="599.7" cy="299.9" r="2.4"/><circle cx="594.1" cy="300.0" r="2.4"/><circle cx="593.0" cy="300.0" r="2.4"/><circle cx="596.0" cy="300.0" r="2.4"/><circle cx="589.4" cy="300.1" r="2.4"/><circle cx="565.7" cy="299.5" r="2.4"/><circle cx="616.6" cy="299.3" r="2.4"/><circle cx="573.3" cy="299.9" r="2.4"/><circle cx="561.9" cy="299.4" r="2.4"/><circle cx="591.6" cy="300.1" r="2.4"/><circle cx="594.1" cy="300.1" r="2.4"/><circle cx="553.6" cy="299.7" r="2.4"/><circle cx="595.9" cy="300.0" r="2.4"/><circle cx="580.3" cy="300.1" r="2.4"/><circle cx="571.8" cy="300.0" r="2.4"/><circle cx="538.4" cy="299.2" r="2.4"/><circle cx="598.9" cy="299.7" r="2.4"/><circle cx="553.2" cy="299.6" r="2.4"/><circle cx="611.6" cy="299.9" r="2.4"/><circle cx="616.6" cy="299.3" r="2.4"/><circle cx="550.2" cy="299.7" r="2.4"/><circle cx="582.6" cy="300.2" r="2.4"/><circle cx="610.6" cy="299.2" r="2.4"/><circle cx="613.2" cy="299.8" r="2.4"/><circle cx="629.8" cy="299.7" r="2.4"/><circle cx="553.5" cy="299.8" r="2.4"/><circle cx="546.9" cy="299.3" r="2.4"/><circle cx="591.2" cy="300.0" r="2.4"/><circle cx="586.4" cy="300.2" r="2.4"/><circle cx="590.1" cy="300.0" r="2.4"/><circle cx="559.3" cy="299.8" r="2.4"/><circle cx="565.3" cy="300.0" r="2.4"/><circle cx="614.5" cy="299.6" r="2.4"/><circle cx="556.5" cy="299.8" r="2.4"/><circle cx="585.9" cy="300.2" r="2.4"/><circle cx="553.6" cy="299.0" r="2.4"/><circle cx="579.1" cy="300.0" r="2.4"/><circle cx="574.6" cy="299.9" r="2.4"/><circle cx="566.8" cy="300.0" r="2.4"/><circle cx="584.5" cy="300.2" r="2.4"/><circle cx="628.8" cy="299.6" r="2.4"/><circle cx="531.1" cy="299.2" r="2.4"/><circle cx="531.5" cy="299.3" r="2.4"/><circle cx="626.6" cy="299.1" r="2.4"/><circle cx="592.4" cy="300.1" r="2.4"/><circle cx="591.7" cy="300.1" r="2.4"/><circle cx="568.0" cy="300.1" r="2.4"/><circle cx="555.7" cy="299.1" r="2.4"/><circle cx="549.7" cy="299.2" r="2.4"/><circle cx="543.6" cy="299.8" r="2.4"/><circle cx="624.4" cy="299.6" r="2.4"/><circle cx="586.1" cy="300.2" r="2.4"/><circle cx="572.2" cy="299.8" r="2.4"/><circle cx="553.8" cy="299.7" r="2.4"/><circle cx="586.6" cy="300.1" r="2.4"/><circle cx="532.2" cy="298.7" r="2.4"/><circle cx="562.9" cy="299.3" r="2.4"/><circle cx="553.1" cy="299.6" r="2.4"/><circle cx="601.9" cy="299.9" r="2.4"/><circle cx="608.8" cy="299.8" r="2.4"/><circle cx="557.9" cy="299.5" r="2.4"/><circle cx="623.3" cy="299.8" r="2.4"/><circle cx="586.8" cy="300.2" r="2.4"/><circle cx="586.7" cy="300.2" r="2.4"/><circle cx="586.7" cy="300.2" r="2.4"/><circle cx="579.7" cy="300.1" r="2.4"/><circle cx="564.5" cy="300.0" r="2.4"/><circle cx="559.3" cy="299.2" r="2.4"/><circle cx="610.7" cy="299.9" r="2.4"/><circle cx="594.3" cy="300.0" r="2.4"/><circle cx="565.9" cy="299.5" r="2.4"/><circle cx="615.5" cy="299.9" r="2.4"/><circle cx="580.3" cy="300.1" r="2.4"/><circle cx="591.0" cy="300.0" r="2.4"/><circle cx="591.6" cy="300.1" r="2.4"/><circle cx="596.9" cy="300.0" r="2.4"/><circle cx="590.9" cy="300.1" r="2.4"/><circle cx="561.9" cy="299.7" r="2.4"/><circle cx="577.7" cy="300.1" r="2.4"/><circle cx="635.8" cy="299.5" r="2.4"/><circle cx="559.5" cy="299.8" r="2.4"/><circle cx="598.6" cy="299.7" r="2.4"/><circle cx="554.3" cy="299.6" r="2.4"/><circle cx="550.7" cy="299.9" r="2.4"/><circle cx="574.2" cy="300.0" r="2.4"/><circle cx="539.4" cy="299.5" r="2.4"/><circle cx="580.4" cy="300.1" r="2.4"/><circle cx="592.1" cy="300.1" r="2.4"/><circle cx="599.0" cy="300.0" r="2.4"/><circle cx="553.0" cy="299.6" r="2.4"/><circle cx="585.2" cy="300.2" r="2.4"/><circle cx="586.9" cy="300.1" r="2.4"/><circle cx="624.3" cy="299.7" r="2.4"/><circle cx="614.3" cy="299.4" r="2.4"/><circle cx="574.2" cy="299.9" r="2.4"/><circle cx="590.0" cy="300.1" r="2.4"/><circle cx="596.6" cy="300.1" r="2.4"/><circle cx="558.3" cy="299.4" r="2.4"/><circle cx="616.3" cy="299.5" r="2.4"/><circle cx="601.4" cy="299.6" r="2.4"/><circle cx="583.7" cy="300.2" r="2.4"/><circle cx="619.6" cy="299.7" r="2.4"/><circle cx="626.5" cy="299.5" r="2.4"/><circle cx="579.2" cy="300.1" r="2.4"/><circle cx="566.6" cy="300.0" r="2.4"/><circle cx="603.7" cy="299.9" r="2.4"/><circle cx="553.2" cy="299.8" r="2.4"/><circle cx="571.3" cy="299.9" r="2.4"/><circle cx="568.1" cy="300.1" r="2.4"/><circle cx="561.9" cy="300.0" r="2.4"/><circle cx="565.0" cy="299.9" r="2.4"/><circle cx="548.4" cy="299.7" r="2.4"/><circle cx="576.5" cy="300.0" r="2.4"/><circle cx="578.4" cy="300.1" r="2.4"/><circle cx="584.0" cy="300.2" r="2.4"/><circle cx="599.0" cy="299.9" r="2.4"/><circle cx="586.5" cy="300.2" r="2.4"/><circle cx="565.7" cy="300.0" r="2.4"/><circle cx="580.2" cy="300.1" r="2.4"/><circle cx="604.0" cy="300.0" r="2.4"/><circle cx="565.1" cy="299.7" r="2.4"/><circle cx="585.7" cy="300.2" r="2.4"/><circle cx="604.6" cy="299.6" r="2.4"/><circle cx="571.3" cy="299.9" r="2.4"/><circle cx="606.6" cy="300.0" r="2.4"/><circle cx="577.1" cy="300.1" r="2.4"/><circle cx="590.7" cy="300.1" r="2.4"/><circle cx="618.0" cy="299.3" r="2.4"/><circle cx="591.9" cy="300.1" r="2.4"/><circle cx="614.2" cy="299.9" r="2.4"/><circle cx="583.7" cy="300.2" r="2.4"/><circle cx="579.0" cy="300.1" r="2.4"/><circle cx="547.2" cy="299.5" r="2.4"/><circle cx="590.2" cy="300.0" r="2.4"/><circle cx="590.3" cy="300.1" r="2.4"/><circle cx="587.8" cy="300.2" r="2.4"/><circle cx="551.1" cy="299.9" r="2.4"/><circle cx="561.6" cy="299.6" r="2.4"/><circle cx="596.6" cy="300.0" r="2.4"/><circle cx="571.0" cy="299.9" r="2.4"/><circle cx="580.2" cy="300.1" r="2.4"/><circle cx="594.2" cy="299.9" r="2.4"/><circle cx="579.4" cy="300.1" r="2.4"/><circle cx="604.8" cy="299.5" r="2.4"/><circle cx="614.5" cy="299.9" r="2.4"/><circle cx="610.1" cy="299.9" r="2.4"/><circle cx="601.2" cy="300.1" r="2.4"/><circle cx="603.2" cy="299.6" r="2.4"/><circle cx="588.3" cy="300.1" r="2.4"/><circle cx="567.5" cy="299.7" r="2.4"/><circle cx="535.4" cy="299.6" r="2.4"/><circle cx="575.4" cy="300.1" r="2.4"/><circle cx="572.3" cy="299.9" r="2.4"/><circle cx="552.2" cy="299.8" r="2.4"/><circle cx="572.6" cy="299.9" r="2.4"/><circle cx="592.1" cy="300.1" r="2.4"/><circle cx="587.8" cy="300.1" r="2.4"/><circle cx="566.2" cy="300.0" r="2.4"/><circle cx="547.8" cy="298.9" r="2.4"/><circle cx="614.1" cy="299.4" r="2.4"/><circle cx="595.6" cy="299.8" r="2.4"/><circle cx="549.5" cy="299.4" r="2.4"/><circle cx="631.9" cy="299.7" r="2.4"/><circle cx="574.0" cy="300.1" r="2.4"/><circle cx="566.2" cy="300.0" r="2.4"/><circle cx="578.2" cy="300.0" r="2.4"/><circle cx="535.6" cy="299.7" r="2.4"/><circle cx="566.9" cy="299.9" r="2.4"/><circle cx="538.1" cy="299.0" r="2.4"/><circle cx="595.4" cy="300.1" r="2.4"/><circle cx="595.8" cy="300.0" r="2.4"/><circle cx="573.6" cy="300.1" r="2.4"/><circle cx="618.1" cy="299.8" r="2.4"/><circle cx="598.3" cy="299.7" r="2.4"/><circle cx="582.0" cy="300.1" r="2.4"/><circle cx="596.6" cy="300.0" r="2.4"/><circle cx="563.2" cy="299.4" r="2.4"/><circle cx="616.7" cy="299.8" r="2.4"/><circle cx="600.2" cy="300.1" r="2.4"/><circle cx="589.1" cy="300.1" r="2.4"/><circle cx="592.1" cy="300.1" r="2.4"/><circle cx="564.9" cy="299.4" r="2.4"/><circle cx="610.4" cy="298.9" r="2.4"/><circle cx="604.9" cy="299.8" r="2.4"/><circle cx="562.3" cy="299.6" r="2.4"/><circle cx="574.1" cy="300.0" r="2.4"/><circle cx="607.9" cy="299.4" r="2.4"/><circle cx="595.7" cy="300.0" r="2.4"/><circle cx="638.7" cy="298.8" r="2.4"/><circle cx="623.1" cy="299.2" r="2.4"/><circle cx="604.3" cy="299.3" r="2.4"/><circle cx="556.1" cy="299.9" r="2.4"/><circle cx="566.2" cy="300.0" r="2.4"/><circle cx="591.0" cy="300.1" r="2.4"/><circle cx="624.2" cy="299.3" r="2.4"/><circle cx="637.7" cy="299.6" r="2.4"/>
</g>
<text x="478.5" y="272.8" font-size="10.5" text-anchor="end" fill="#4d4d4d" stroke="#4d4d4d" stroke-width="0.1" textLength="13.1" lengthAdjust="spacingAndGlyphs">40</text>
<text x="478.5" y="241.6" font-size="10.5" text-anchor="end" fill="#4d4d4d" stroke="#4d4d4d" stroke-width="0.1" textLength="13.1" lengthAdjust="spacingAndGlyphs">80</text>
<text x="478.5" y="210.4" font-size="10.5" text-anchor="end" fill="#4d4d4d" stroke="#4d4d4d" stroke-width="0.1" textLength="19.7" lengthAdjust="spacingAndGlyphs">120</text>
<text x="478.5" y="179.2" font-size="10.5" text-anchor="end" fill="#4d4d4d" stroke="#4d4d4d" stroke-width="0.1" textLength="19.7" lengthAdjust="spacingAndGlyphs">160</text>
<text x="584.5" y="167.5" font-size="10.8" text-anchor="middle" font-weight="bold" fill="#1a1a1a" stroke="#1a1a1a" stroke-width="0.3" textLength="52.8" lengthAdjust="spacingAndGlyphs">Heart vol</text>
</g>
<circle cx="108.1" cy="43.9" r="2.3" fill="#a52a2a"/>
<circle cx="109.7" cy="41.7" r="2.3" fill="#a52a2a"/>
<circle cx="141.3" cy="88.1" r="2.3" fill="#ff0000"/>
<circle cx="65.0" cy="112.3" r="2.3" fill="#a52a2a"/>
<circle cx="206.9" cy="112.9" r="2.3" fill="#4e6e29"/>
<circle cx="322.2" cy="41.7" r="2.3" fill="#a52a2a"/>
<circle cx="323.5" cy="54.4" r="2.3" fill="#a52a2a"/>
<circle cx="295.3" cy="111.6" r="2.3" fill="#a52a2a"/>
<circle cx="281.3" cy="121.3" r="2.3" fill="#a52a2a"/>
<circle cx="376.8" cy="106.9" r="2.3" fill="#ff00ff"/>
<circle cx="367.3" cy="115.2" r="2.3" fill="#ff00ff"/>
<circle cx="369.3" cy="117.2" r="2.3" fill="#737373"/>
<circle cx="403.8" cy="121.0" r="2.3" fill="#4e6e29"/>
<circle cx="365.1" cy="110.4" r="2.3" fill="#ff0000"/>
<line x1="314.2" y1="119.0" x2="314.2" y2="123.5" stroke="#000" stroke-width="1.0"/>
<circle cx="559.5" cy="41.8" r="2.3" fill="#a52a2a"/>
<circle cx="559.5" cy="47.8" r="2.3" fill="#a52a2a"/>
<circle cx="572.6" cy="106.3" r="2.3" fill="#8b3a28"/>
<circle cx="600.9" cy="104.0" r="2.3" fill="#ff0000"/>
<circle cx="596.2" cy="109.8" r="2.3" fill="#737373"/>
<circle cx="174.2" cy="194.7" r="2.3" fill="#ff0000"/>
<circle cx="126.1" cy="204.9" r="2.3" fill="#ff0000"/>
<circle cx="126.6" cy="204.4" r="2.3" fill="#ff0000"/>
<circle cx="120.2" cy="217.8" r="2.3" fill="#a52a2a"/>
<circle cx="329.6" cy="195.2" r="2.3" fill="#a52a2a"/>
<circle cx="330.3" cy="195.6" r="2.3" fill="#a52a2a"/>
<circle cx="341.5" cy="269.1" r="2.3" fill="#ff0000"/>
<circle cx="344.5" cy="272.9" r="2.3" fill="#ff0000"/>
<circle cx="346.9" cy="273.2" r="2.3" fill="#ff0000"/>
<circle cx="334.0" cy="276.7" r="2.3" fill="#ff0000"/>
<circle cx="368.6" cy="278.5" r="2.3" fill="#ff0000"/>
<circle cx="345.2" cy="261.8" r="2.3" fill="#a52a2a"/>
<circle cx="543.8" cy="282.7" r="2.3" fill="#a52a2a"/>
<circle cx="546.1" cy="282.7" r="2.3" fill="#a52a2a"/>
<circle cx="557.6" cy="296.4" r="2.3" fill="#b01cff"/>
<circle cx="563.5" cy="295.5" r="2.3" fill="#4a9a1e"/>
<circle cx="570.3" cy="295.5" r="2.3" fill="#4a9a1e"/>
<circle cx="572.0" cy="295.8" r="2.3" fill="#4a9a1e"/>
<circle cx="599.7" cy="293.4" r="2.3" fill="#4e6e29"/>
<circle cx="603.0" cy="295.0" r="2.3" fill="#4e6e29"/>
<circle cx="606.0" cy="296.5" r="2.3" fill="#4e6e29"/>
<circle cx="611.0" cy="295.5" r="2.3" fill="#4e6e29"/>
<circle cx="614.3" cy="295.8" r="2.3" fill="#737373"/>
<circle cx="617.0" cy="295.8" r="2.3" fill="#4a9a1e"/>
<circle cx="621.0" cy="296.5" r="2.3" fill="#737373"/>
<circle cx="628.1" cy="296.2" r="2.3" fill="#737373"/>
<circle cx="640.0" cy="296.5" r="2.3" fill="#737373"/>
<circle cx="601.8" cy="285.1" r="2.3" fill="#ff0000"/>
<circle cx="603.2" cy="296.9" r="2.3" fill="#ff0000"/>
<circle cx="609.4" cy="292.0" r="2.3" fill="#ff0000"/>
<circle cx="606.0" cy="289.0" r="2.3" fill="#ff0000"/>
<circle cx="634.4" cy="286.5" r="2.3" fill="#ff0000"/>
<circle cx="631.6" cy="292.0" r="2.3" fill="#ff0000"/>
<circle cx="636.0" cy="292.5" r="2.3" fill="#ff0000"/>
<circle cx="639.5" cy="294.5" r="2.3" fill="#ff0000"/>
<circle cx="650.3" cy="292.0" r="2.3" fill="#ff0000"/>
<circle cx="659.3" cy="293.4" r="2.3" fill="#ff0000"/>
<circle cx="658.7" cy="296.2" r="2.3" fill="#ff0000"/>
<circle cx="662.0" cy="295.0" r="2.3" fill="#ff0000"/>
<circle cx="674.6" cy="291.4" r="2.3" fill="#ff0000"/>
<circle cx="674.0" cy="294.0" r="2.3" fill="#ff0000"/>
<circle cx="656.9" cy="278.6" r="2.3" fill="#ff0000"/>
<circle cx="662.8" cy="278.9" r="2.3" fill="#ff0000"/>
<circle cx="655.2" cy="282.3" r="2.3" fill="#ff0000"/>
<circle cx="659.3" cy="280.5" r="2.3" fill="#ff0000"/>
<circle cx="663.5" cy="283.0" r="2.3" fill="#ff0000"/>
<circle cx="664.5" cy="267.5" r="2.3" fill="#ff0000"/>
<circle cx="674.9" cy="276.1" r="2.3" fill="#ff0000"/>
<circle cx="673.3" cy="194.7" r="2.3" fill="#ff0000"/>
<circle cx="650.0" cy="211.4" r="2.3" fill="#ff0000"/>
<line x1="34.0" y1="108.0" x2="229.0" y2="108.0" stroke="#5c5c5c" stroke-width="1.4" stroke-dasharray="5.6 5.3"/>
<line x1="34.0" y1="113.9" x2="229.0" y2="113.9" stroke="#5c5c5c" stroke-width="1.4" stroke-dasharray="1.4 4.1"/>
<line x1="256.5" y1="121.6" x2="451.0" y2="121.6" stroke="#5c5c5c" stroke-width="1.4" stroke-dasharray="5.6 5.3"/>
<line x1="256.5" y1="125.6" x2="451.0" y2="125.6" stroke="#5c5c5c" stroke-width="1.4" stroke-dasharray="1.4 4.1"/>
<line x1="485.0" y1="109.4" x2="680.0" y2="109.4" stroke="#5c5c5c" stroke-width="1.4" stroke-dasharray="5.6 5.3"/>
<line x1="485.0" y1="115.1" x2="680.0" y2="115.1" stroke="#5c5c5c" stroke-width="1.4" stroke-dasharray="1.4 4.1"/>
<line x1="34.0" y1="208.1" x2="229.0" y2="208.1" stroke="#5c5c5c" stroke-width="1.4" stroke-dasharray="5.6 5.3"/>
<line x1="34.0" y1="222.6" x2="229.0" y2="222.6" stroke="#5c5c5c" stroke-width="1.4" stroke-dasharray="1.4 4.1"/>
<line x1="256.5" y1="275.4" x2="451.0" y2="275.4" stroke="#5c5c5c" stroke-width="1.4" stroke-dasharray="5.6 5.3"/>
<line x1="256.5" y1="278.9" x2="451.0" y2="278.9" stroke="#5c5c5c" stroke-width="1.4" stroke-dasharray="1.4 4.1"/>
<line x1="485.0" y1="296.3" x2="680.0" y2="296.3" stroke="#5c5c5c" stroke-width="1.4" stroke-dasharray="5.6 5.3"/>
<line x1="485.0" y1="297.6" x2="680.0" y2="297.6" stroke="#5c5c5c" stroke-width="1.4" stroke-dasharray="1.4 4.1"/>
<text x="99.5" y="36.9" font-size="11.4" fill="#1a1a1a" stroke="#1a1a1a" stroke-width="0.12" textLength="48.1" lengthAdjust="spacingAndGlyphs">Diabetes</text>
<text x="83.3" y="56.9" font-size="11.4" fill="#1a1a1a" stroke="#1a1a1a" stroke-width="0.12" textLength="21.4" lengthAdjust="spacingAndGlyphs">T2D</text>
<text x="94.2" y="81.7" font-size="11.4" fill="#1a1a1a" stroke="#1a1a1a" stroke-width="0.12" textLength="124.5" lengthAdjust="spacingAndGlyphs">Essential hypertension</text>
<text x="119.3" y="101.8" font-size="11.4" fill="#1a1a1a" stroke="#1a1a1a" stroke-width="0.12" textLength="72.2" lengthAdjust="spacingAndGlyphs">Hypertension</text>
<text x="39.0" y="125.5" font-size="11.4" fill="#1a1a1a" stroke="#1a1a1a" stroke-width="0.12" textLength="112.3" lengthAdjust="spacingAndGlyphs">Diabetic retinopathy</text>
<line x1="366.2" y1="86.8" x2="365.3" y2="108.3" stroke="#000" stroke-width="1.3"/>
<text x="282.4" y="35.9" font-size="11.4" fill="#1a1a1a" stroke="#1a1a1a" stroke-width="0.12" textLength="48.2" lengthAdjust="spacingAndGlyphs">Diabetes</text>
<text x="329.5" y="68.6" font-size="11.4" fill="#1a1a1a" stroke="#1a1a1a" stroke-width="0.12" textLength="21.4" lengthAdjust="spacingAndGlyphs">T2D</text>
<text x="303.9" y="84.5" font-size="11.4" fill="#1a1a1a" stroke="#1a1a1a" stroke-width="0.12" textLength="124.7" lengthAdjust="spacingAndGlyphs">Essential hypertension</text>
<text x="334.7" y="101.5" font-size="11.4" fill="#1a1a1a" stroke="#1a1a1a" stroke-width="0.12" textLength="115.6" lengthAdjust="spacingAndGlyphs">Tobacco use disorder</text>
<text x="313.9" y="123.4" font-size="11.4" fill="#1a1a1a" stroke="#1a1a1a" stroke-width="0.12" textLength="72.2" lengthAdjust="spacingAndGlyphs">Hypertension</text>
<line x1="543.4" y1="100.4" x2="572.6" y2="106.3" stroke="#000" stroke-width="1.3"/>
<text x="520.0" y="36.0" font-size="11.4" fill="#1a1a1a" stroke="#1a1a1a" stroke-width="0.12" textLength="48.2" lengthAdjust="spacingAndGlyphs">Diabetes</text>
<text x="564.7" y="60.9" font-size="11.4" fill="#1a1a1a" stroke="#1a1a1a" stroke-width="0.12" textLength="20.2" lengthAdjust="spacingAndGlyphs">T2D</text>
<text x="549.8" y="96.9" font-size="11.4" fill="#1a1a1a" stroke="#1a1a1a" stroke-width="0.12" textLength="78.8" lengthAdjust="spacingAndGlyphs">Varicose veins</text>
<text x="500.2" y="103.4" font-size="11.4" fill="#1a1a1a" stroke="#1a1a1a" stroke-width="0.12" textLength="40.8" lengthAdjust="spacingAndGlyphs">Asthma</text>
<text x="495.2" y="120.9" font-size="11.4" fill="#1a1a1a" stroke="#1a1a1a" stroke-width="0.12" textLength="184.0" lengthAdjust="spacingAndGlyphs">Varicose veins of lower extremity</text>
<line x1="182.1" y1="183.7" x2="174.2" y2="194.7" stroke="#000" stroke-width="1.3"/>
<line x1="126.4" y1="204.7" x2="138.3" y2="210.2" stroke="#000" stroke-width="1.3"/>
<text x="137.4" y="181.5" font-size="11.4" fill="#1a1a1a" stroke="#1a1a1a" stroke-width="0.12" textLength="89.9" lengthAdjust="spacingAndGlyphs">Aortic aneurysm</text>
<text x="39.0" y="198.7" font-size="11.4" fill="#1a1a1a" stroke="#1a1a1a" stroke-width="0.12" textLength="125.2" lengthAdjust="spacingAndGlyphs">Essential hypertension</text>
<text x="141.0" y="215.1" font-size="11.4" fill="#1a1a1a" stroke="#1a1a1a" stroke-width="0.12" textLength="73.0" lengthAdjust="spacingAndGlyphs">Hypertension</text>
<text x="80.8" y="231.5" font-size="11.4" fill="#1a1a1a" stroke="#1a1a1a" stroke-width="0.12" textLength="48.2" lengthAdjust="spacingAndGlyphs">Diabetes</text>
<line x1="345.2" y1="261.8" x2="364.2" y2="268.6" stroke="#000" stroke-width="1.3"/>
<line x1="345.2" y1="261.8" x2="327.4" y2="280.2" stroke="#000" stroke-width="1.3"/>
<text x="303.2" y="188.6" font-size="11.4" fill="#1a1a1a" stroke="#1a1a1a" stroke-width="0.12" textLength="21.5" lengthAdjust="spacingAndGlyphs">T2D</text>
<text x="321.6" y="209.6" font-size="11.4" fill="#1a1a1a" stroke="#1a1a1a" stroke-width="0.12" textLength="48.2" lengthAdjust="spacingAndGlyphs">Diabetes</text>
<text x="276.9" y="253.9" font-size="11.4" fill="#1a1a1a" stroke="#1a1a1a" stroke-width="0.12" textLength="167.9" lengthAdjust="spacingAndGlyphs">Disorders of lipoid metabolism</text>
<text x="367.4" y="272.3" font-size="11.4" fill="#1a1a1a" stroke="#1a1a1a" stroke-width="0.12" textLength="82.6" lengthAdjust="spacingAndGlyphs">Hyperlipidemia</text>
<text x="261.4" y="289.5" font-size="11.4" fill="#1a1a1a" stroke="#1a1a1a" stroke-width="0.12" textLength="120.6" lengthAdjust="spacingAndGlyphs">Hypercholesterolemia</text>
<line x1="673.3" y1="194.7" x2="652.0" y2="224.8" stroke="#000" stroke-width="1.3"/>
<line x1="650.0" y1="211.4" x2="613.5" y2="230.0" stroke="#000" stroke-width="1.3"/>
<line x1="654.0" y1="260.4" x2="664.4" y2="267.7" stroke="#000" stroke-width="1.3"/>
<line x1="654.9" y1="271.9" x2="674.6" y2="276.5" stroke="#000" stroke-width="1.3"/>
<text x="535.5" y="234.5" font-size="11.4" fill="#1a1a1a" stroke="#1a1a1a" stroke-width="0.12" textLength="75.6" lengthAdjust="spacingAndGlyphs">Dysrhythmias</text>
<text x="619.9" y="234.5" font-size="11.4" fill="#1a1a1a" stroke="#1a1a1a" stroke-width="0.12" textLength="58.7" lengthAdjust="spacingAndGlyphs">Afib/flutter</text>
<text x="587.0" y="258.2" font-size="11.4" fill="#1a1a1a" stroke="#1a1a1a" stroke-width="0.12" textLength="91.6" lengthAdjust="spacingAndGlyphs">Rheumatic valve</text>
<text x="507.8" y="275.1" font-size="11.4" fill="#1a1a1a" stroke="#1a1a1a" stroke-width="0.12" textLength="144.4" lengthAdjust="spacingAndGlyphs">Primary cardiomyopathies</text>
<text x="587.7" y="292.6" font-size="11.4" fill="#1a1a1a" stroke="#1a1a1a" stroke-width="0.12" textLength="91.3" lengthAdjust="spacingAndGlyphs">Cardiomyopathy</text>
<text x="43.1" y="313.5" font-size="10.5" text-anchor="middle" fill="#4d4d4d" stroke="#4d4d4d" stroke-width="0.1" textLength="20.1" lengthAdjust="spacingAndGlyphs">-1.0</text>
<text x="88.3" y="313.5" font-size="10.5" text-anchor="middle" fill="#4d4d4d" stroke="#4d4d4d" stroke-width="0.1" textLength="20.1" lengthAdjust="spacingAndGlyphs">-0.5</text>
<text x="133.6" y="313.5" font-size="10.5" text-anchor="middle" fill="#4d4d4d" stroke="#4d4d4d" stroke-width="0.1" textLength="16.4" lengthAdjust="spacingAndGlyphs">0.0</text>
<text x="178.8" y="313.5" font-size="10.5" text-anchor="middle" fill="#4d4d4d" stroke="#4d4d4d" stroke-width="0.1" textLength="16.4" lengthAdjust="spacingAndGlyphs">0.5</text>
<text x="224.1" y="313.5" font-size="10.5" text-anchor="middle" fill="#4d4d4d" stroke="#4d4d4d" stroke-width="0.1" textLength="16.4" lengthAdjust="spacingAndGlyphs">1.0</text>
<text x="265.5" y="313.5" font-size="10.5" text-anchor="middle" fill="#4d4d4d" stroke="#4d4d4d" stroke-width="0.1" textLength="20.1" lengthAdjust="spacingAndGlyphs">-1.0</text>
<text x="310.8" y="313.5" font-size="10.5" text-anchor="middle" fill="#4d4d4d" stroke="#4d4d4d" stroke-width="0.1" textLength="20.1" lengthAdjust="spacingAndGlyphs">-0.5</text>
<text x="356.0" y="313.5" font-size="10.5" text-anchor="middle" fill="#4d4d4d" stroke="#4d4d4d" stroke-width="0.1" textLength="16.4" lengthAdjust="spacingAndGlyphs">0.0</text>
<text x="401.2" y="313.5" font-size="10.5" text-anchor="middle" fill="#4d4d4d" stroke="#4d4d4d" stroke-width="0.1" textLength="16.4" lengthAdjust="spacingAndGlyphs">0.5</text>
<text x="446.5" y="313.5" font-size="10.5" text-anchor="middle" fill="#4d4d4d" stroke="#4d4d4d" stroke-width="0.1" textLength="16.4" lengthAdjust="spacingAndGlyphs">1.0</text>
<text x="494.1" y="313.5" font-size="10.5" text-anchor="middle" fill="#4d4d4d" stroke="#4d4d4d" stroke-width="0.1" textLength="20.1" lengthAdjust="spacingAndGlyphs">-1.0</text>
<text x="539.4" y="313.5" font-size="10.5" text-anchor="middle" fill="#4d4d4d" stroke="#4d4d4d" stroke-width="0.1" textLength="20.1" lengthAdjust="spacingAndGlyphs">-0.5</text>
<text x="584.6" y="313.5" font-size="10.5" text-anchor="middle" fill="#4d4d4d" stroke="#4d4d4d" stroke-width="0.1" textLength="16.4" lengthAdjust="spacingAndGlyphs">0.0</text>
<text x="629.9" y="313.5" font-size="10.5" text-anchor="middle" fill="#4d4d4d" stroke="#4d4d4d" stroke-width="0.1" textLength="16.4" lengthAdjust="spacingAndGlyphs">0.5</text>
<text x="675.1" y="313.5" font-size="10.5" text-anchor="middle" fill="#4d4d4d" stroke="#4d4d4d" stroke-width="0.1" textLength="16.4" lengthAdjust="spacingAndGlyphs">1.0</text>
<text x="358.8" y="328.5" font-size="12.6" text-anchor="middle" fill="#1a1a1a" stroke="#1a1a1a" stroke-width="0.05" textLength="27.6" lengthAdjust="spacingAndGlyphs">beta</text>
<text x="10.0" y="160.5" font-size="12.6" text-anchor="middle" fill="#1a1a1a" stroke="#1a1a1a" stroke-width="0.05" textLength="58.0" lengthAdjust="spacingAndGlyphs" transform="rotate(-90 10.0 160.5)">-log10(p)</text>
<text x="1.6" y="14.0" font-size="18.5" font-weight="bold" fill="#1a1a1a" stroke="#1a1a1a" stroke-width="0.5" textLength="14.2" lengthAdjust="spacingAndGlyphs">A</text>
<circle cx="102.1" cy="362.0" r="2.4" fill="#ff0000"/>
<text x="120.3" y="365.8" font-size="11.2" fill="#1a1a1a" stroke="#1a1a1a" stroke-width="0.12" textLength="95.1" lengthAdjust="spacingAndGlyphs">circulatory system</text>
<circle cx="220.9" cy="362.0" r="2.4" fill="#a52a2a"/>
<text x="238.8" y="365.8" font-size="11.2" fill="#1a1a1a" stroke="#1a1a1a" stroke-width="0.12" textLength="106.2" lengthAdjust="spacingAndGlyphs">endocrine/metabolic</text>
<circle cx="352.0" cy="362.0" r="2.4" fill="#ff00ff"/>
<text x="369.9" y="365.8" font-size="11.2" fill="#1a1a1a" stroke="#1a1a1a" stroke-width="0.12" textLength="86.9" lengthAdjust="spacingAndGlyphs">mental disorders</text>
<circle cx="464.0" cy="362.0" r="2.4" fill="#8b3a28"/>
<text x="482.1" y="365.8" font-size="11.2" fill="#1a1a1a" stroke="#1a1a1a" stroke-width="0.12" textLength="56.0" lengthAdjust="spacingAndGlyphs">respiratory</text>
<circle cx="561.6" cy="362.0" r="2.4" fill="#b01cff"/>
<text x="579.6" y="365.8" font-size="11.2" fill="#1a1a1a" stroke="#1a1a1a" stroke-width="0.12" textLength="53.9" lengthAdjust="spacingAndGlyphs">symptoms</text>
<circle cx="102.1" cy="390.8" r="2.4" fill="#4a9a1e"/>
<text x="120.3" y="394.6" font-size="11.2" fill="#1a1a1a" stroke="#1a1a1a" stroke-width="0.12" textLength="46.7" lengthAdjust="spacingAndGlyphs">digestive</text>
<circle cx="220.9" cy="390.8" r="2.4" fill="#737373"/>
<text x="238.8" y="394.6" font-size="11.2" fill="#1a1a1a" stroke="#1a1a1a" stroke-width="0.12" textLength="107.2" lengthAdjust="spacingAndGlyphs">injuries &amp; poisonings</text>
<circle cx="352.0" cy="390.8" r="2.4" fill="#4e6e29"/>
<text x="369.9" y="394.6" font-size="11.2" fill="#1a1a1a" stroke="#1a1a1a" stroke-width="0.12" textLength="83.1" lengthAdjust="spacingAndGlyphs">musculoskeletal</text>
<circle cx="464.0" cy="390.8" r="2.4" fill="#5b8c5a"/>
<text x="482.1" y="394.6" font-size="11.2" fill="#1a1a1a" stroke="#1a1a1a" stroke-width="0.12" textLength="68.0" lengthAdjust="spacingAndGlyphs">sense organs</text>
<text x="1.9" y="435.3" font-size="18.5" font-weight="bold" fill="#1a1a1a" stroke="#1a1a1a" stroke-width="0.5" textLength="13.0" lengthAdjust="spacingAndGlyphs">B</text>
<defs>
<clipPath id="sc0"><rect x="99.7" y="422.5" width="76.1" height="21.0"/></clipPath>
<clipPath id="sc1"><rect x="180.3" y="422.5" width="75.8" height="21.0"/></clipPath>
<clipPath id="sc2"><rect x="260.7" y="422.5" width="75.8" height="21.0"/></clipPath>
</defs>
<g opacity="0.88"><path d="M117.7 450.8V485.8M164.5 450.8V485.8M117.7 468.3H164.5" stroke="#f781bf" stroke-width="1.35" fill="none"/>
<circle cx="136.4" cy="468.3" r="3.1" fill="#f781bf"/>
</g>
<g opacity="0.88"><path d="M110.6 490.3V525.3M141.1 490.3V525.3M110.6 507.8H141.1" stroke="#4daf4a" stroke-width="1.35" fill="none"/>
<circle cx="123.5" cy="507.8" r="3.1" fill="#4daf4a"/>
</g>
<g opacity="0.88"><path d="M111.9 529.7V564.7M155.0 529.7V564.7M111.9 547.2H155.0" stroke="#377eb8" stroke-width="1.35" fill="none"/>
<circle cx="129.0" cy="547.2" r="3.1" fill="#377eb8"/>
</g>
<g opacity="0.88"><path d="M111.4 569.2V604.2M145.0 569.2V604.2M111.4 586.7H145.0" stroke="#a65628" stroke-width="1.35" fill="none"/>
<circle cx="125.6" cy="586.7" r="3.1" fill="#a65628"/>
</g>
<g opacity="0.88"><path d="M148.2 608.6V643.6M171.3 608.6V643.6M148.2 626.1H171.3" stroke="#ff7f00" stroke-width="1.35" fill="none"/>
<circle cx="158.7" cy="626.1" r="3.1" fill="#ff7f00"/>
</g>
<g opacity="0.88"><path d="M108.5 648.1V683.1M137.9 648.1V683.1M108.5 665.6H137.9" stroke="#e41a1c" stroke-width="1.35" fill="none"/>
<circle cx="120.9" cy="665.6" r="3.1" fill="#e41a1c"/>
</g>
<line x1="121.2" y1="443.5" x2="121.2" y2="688.0" stroke="#b3b3b3" stroke-width="1.3"/>
<rect x="102.0" y="423.0" width="71.5" height="20.0" fill="#fff"/>
<g clip-path="url(#sc0)">
<text x="137.8" y="437.2" font-size="11.2" text-anchor="middle" fill="#1a1a1a" stroke="#1a1a1a" stroke-width="0.12" textLength="57.5" lengthAdjust="spacingAndGlyphs">Aneurysm</text>
</g>
<rect x="102.0" y="423.0" width="71.5" height="20.0" fill="none" stroke="#1a1a1a" stroke-width="1.4"/>
<line x1="101.5" y1="688.0" x2="174.0" y2="688.0" stroke="#222" stroke-width="1.3"/>
<line x1="121.2" y1="688.0" x2="121.2" y2="691.0" stroke="#333" stroke-width="1.1"/>
<text x="121.2" y="703.6" font-size="10.8" text-anchor="middle" fill="#4d4d4d" stroke="#4d4d4d" stroke-width="0.1" textLength="16.9" lengthAdjust="spacingAndGlyphs">1.0</text>
<line x1="144.3" y1="688.0" x2="144.3" y2="691.0" stroke="#333" stroke-width="1.1"/>
<text x="144.3" y="703.6" font-size="10.8" text-anchor="middle" fill="#4d4d4d" stroke="#4d4d4d" stroke-width="0.1" textLength="16.9" lengthAdjust="spacingAndGlyphs">1.5</text>
<line x1="167.4" y1="688.0" x2="167.4" y2="691.0" stroke="#333" stroke-width="1.1"/>
<text x="167.4" y="703.6" font-size="10.8" text-anchor="middle" fill="#4d4d4d" stroke="#4d4d4d" stroke-width="0.1" textLength="16.9" lengthAdjust="spacingAndGlyphs">2.0</text>
<g opacity="0.88"><path d="M220.2 450.8V485.8M234.1 450.8V485.8M220.2 468.3H234.1" stroke="#f781bf" stroke-width="1.35" fill="none"/>
<circle cx="226.8" cy="468.3" r="3.1" fill="#f781bf"/>
</g>
<g opacity="0.88"><path d="M198.9 490.3V525.3M206.5 490.3V525.3M198.9 507.8H206.5" stroke="#4daf4a" stroke-width="1.35" fill="none"/>
<circle cx="202.6" cy="507.8" r="3.1" fill="#4daf4a"/>
</g>
<g opacity="0.88"><path d="M197.1 529.7V564.7M206.3 529.7V564.7M197.1 547.2H206.3" stroke="#377eb8" stroke-width="1.35" fill="none"/>
<circle cx="201.3" cy="547.2" r="3.1" fill="#377eb8"/>
</g>
<g opacity="0.88"><path d="M197.6 569.2V604.2M205.7 569.2V604.2M197.6 586.7H205.7" stroke="#a65628" stroke-width="1.35" fill="none"/>
<circle cx="201.8" cy="586.7" r="3.1" fill="#a65628"/>
</g>
<g opacity="0.88"><path d="M198.4 608.6V643.6M205.5 608.6V643.6M198.4 626.1H205.5" stroke="#ff7f00" stroke-width="1.35" fill="none"/>
<circle cx="201.8" cy="626.1" r="3.1" fill="#ff7f00"/>
</g>
<g opacity="0.88"><path d="M195.7 648.1V683.1M202.3 648.1V683.1M195.7 665.6H202.3" stroke="#e41a1c" stroke-width="1.35" fill="none"/>
<circle cx="198.4" cy="665.6" r="3.1" fill="#e41a1c"/>
</g>
<line x1="201.8" y1="443.5" x2="201.8" y2="688.0" stroke="#b3b3b3" stroke-width="1.3"/>
<rect x="182.6" y="423.0" width="71.2" height="20.0" fill="#fff"/>
<g clip-path="url(#sc1)">
<text x="218.2" y="437.2" font-size="11.2" text-anchor="middle" fill="#1a1a1a" stroke="#1a1a1a" stroke-width="0.12" textLength="33.0" lengthAdjust="spacingAndGlyphs">MACE</text>
</g>
<rect x="182.6" y="423.0" width="71.2" height="20.0" fill="none" stroke="#1a1a1a" stroke-width="1.4"/>
<line x1="182.1" y1="688.0" x2="254.3" y2="688.0" stroke="#222" stroke-width="1.3"/>
<line x1="201.8" y1="688.0" x2="201.8" y2="691.0" stroke="#333" stroke-width="1.1"/>
<text x="201.8" y="703.6" font-size="10.8" text-anchor="middle" fill="#4d4d4d" stroke="#4d4d4d" stroke-width="0.1" textLength="16.9" lengthAdjust="spacingAndGlyphs">1.0</text>
<line x1="224.9" y1="688.0" x2="224.9" y2="691.0" stroke="#333" stroke-width="1.1"/>
<text x="224.9" y="703.6" font-size="10.8" text-anchor="middle" fill="#4d4d4d" stroke="#4d4d4d" stroke-width="0.1" textLength="16.9" lengthAdjust="spacingAndGlyphs">1.5</text>
<line x1="248.1" y1="688.0" x2="248.1" y2="691.0" stroke="#333" stroke-width="1.1"/>
<text x="248.1" y="703.6" font-size="10.8" text-anchor="middle" fill="#4d4d4d" stroke="#4d4d4d" stroke-width="0.1" textLength="16.9" lengthAdjust="spacingAndGlyphs">2.0</text>
<g opacity="0.88"><path d="M282.5 450.8V485.8M317.4 450.8V485.8M282.5 468.3H317.4" stroke="#f781bf" stroke-width="1.35" fill="none"/>
<circle cx="297.2" cy="468.3" r="3.1" fill="#f781bf"/>
</g>
<g opacity="0.88"><path d="M277.7 490.3V525.3M298.7 490.3V525.3M277.7 507.8H298.7" stroke="#4daf4a" stroke-width="1.35" fill="none"/>
<circle cx="287.2" cy="507.8" r="3.1" fill="#4daf4a"/>
</g>
<g opacity="0.88"><path d="M265.4 529.7V564.7M287.4 529.7V564.7M265.4 547.2H287.4" stroke="#377eb8" stroke-width="1.35" fill="none"/>
<circle cx="274.8" cy="547.2" r="3.1" fill="#377eb8"/>
</g>
<g opacity="0.88"><path d="M271.4 569.2V604.2M294.0 569.2V604.2M271.4 586.7H294.0" stroke="#a65628" stroke-width="1.35" fill="none"/>
<circle cx="281.1" cy="586.7" r="3.1" fill="#a65628"/>
</g>
<g opacity="0.88"><path d="M267.5 608.6V643.6M285.1 608.6V643.6M267.5 626.1H285.1" stroke="#ff7f00" stroke-width="1.35" fill="none"/>
<circle cx="275.4" cy="626.1" r="3.1" fill="#ff7f00"/>
</g>
<g opacity="0.88"><path d="M282.5 648.1V683.1M303.7 648.1V683.1M282.5 665.6H303.7" stroke="#e41a1c" stroke-width="1.35" fill="none"/>
<circle cx="291.6" cy="665.6" r="3.1" fill="#e41a1c"/>
</g>
<line x1="282.1" y1="443.5" x2="282.1" y2="688.0" stroke="#b3b3b3" stroke-width="1.3"/>
<rect x="263.0" y="423.0" width="71.2" height="20.0" fill="#fff"/>
<g clip-path="url(#sc2)">
<text x="298.6" y="437.2" font-size="11.2" text-anchor="middle" fill="#1a1a1a" stroke="#1a1a1a" stroke-width="0.12" textLength="85.0" lengthAdjust="spacingAndGlyphs">Varicose veins</text>
</g>
<rect x="263.0" y="423.0" width="71.2" height="20.0" fill="none" stroke="#1a1a1a" stroke-width="1.4"/>
<line x1="262.5" y1="688.0" x2="334.7" y2="688.0" stroke="#222" stroke-width="1.3"/>
<line x1="282.1" y1="688.0" x2="282.1" y2="691.0" stroke="#333" stroke-width="1.1"/>
<text x="282.1" y="703.6" font-size="10.8" text-anchor="middle" fill="#4d4d4d" stroke="#4d4d4d" stroke-width="0.1" textLength="16.9" lengthAdjust="spacingAndGlyphs">1.0</text>
<line x1="305.3" y1="688.0" x2="305.3" y2="691.0" stroke="#333" stroke-width="1.1"/>
<text x="305.3" y="703.6" font-size="10.8" text-anchor="middle" fill="#4d4d4d" stroke="#4d4d4d" stroke-width="0.1" textLength="16.9" lengthAdjust="spacingAndGlyphs">1.5</text>
<line x1="328.4" y1="688.0" x2="328.4" y2="691.0" stroke="#333" stroke-width="1.1"/>
<text x="328.4" y="703.6" font-size="10.8" text-anchor="middle" fill="#4d4d4d" stroke="#4d4d4d" stroke-width="0.1" textLength="16.9" lengthAdjust="spacingAndGlyphs">2.0</text>
<line x1="101.5" y1="443.5" x2="101.5" y2="688.6" stroke="#222" stroke-width="1.3"/>
<line x1="98.2" y1="468.3" x2="101.5" y2="468.3" stroke="#333" stroke-width="1.1"/>
<text x="94.2" y="472.1" font-size="11.1" text-anchor="end" fill="#4d4d4d" stroke="#4d4d4d" stroke-width="0.12" textLength="61.4" lengthAdjust="spacingAndGlyphs">Aortic Arch</text>
<line x1="98.2" y1="507.8" x2="101.5" y2="507.8" stroke="#333" stroke-width="1.1"/>
<text x="94.2" y="511.6" font-size="11.1" text-anchor="end" fill="#4d4d4d" stroke="#4d4d4d" stroke-width="0.12" textLength="67.7" lengthAdjust="spacingAndGlyphs">Thoracic DA</text>
<line x1="98.2" y1="547.2" x2="101.5" y2="547.2" stroke="#333" stroke-width="1.1"/>
<text x="94.2" y="551.0" font-size="11.1" text-anchor="end" fill="#4d4d4d" stroke="#4d4d4d" stroke-width="0.12" textLength="81.4" lengthAdjust="spacingAndGlyphs">Suprarenal DA</text>
<line x1="98.2" y1="586.7" x2="101.5" y2="586.7" stroke="#333" stroke-width="1.1"/>
<text x="94.2" y="590.5" font-size="11.1" text-anchor="end" fill="#4d4d4d" stroke="#4d4d4d" stroke-width="0.12" textLength="74.3" lengthAdjust="spacingAndGlyphs">Infrarenal DA</text>
<line x1="98.2" y1="626.1" x2="101.5" y2="626.1" stroke="#333" stroke-width="1.1"/>
<text x="94.2" y="629.9" font-size="11.1" text-anchor="end" fill="#4d4d4d" stroke="#4d4d4d" stroke-width="0.12" textLength="59.8" lengthAdjust="spacingAndGlyphs">Vena Cava</text>
<line x1="98.2" y1="665.6" x2="101.5" y2="665.6" stroke="#333" stroke-width="1.1"/>
<text x="94.2" y="669.4" font-size="11.1" text-anchor="end" fill="#4d4d4d" stroke="#4d4d4d" stroke-width="0.12" textLength="51.4" lengthAdjust="spacingAndGlyphs">Heart vol</text>
<text x="218.3" y="719.6" font-size="13.6" text-anchor="middle" fill="#1a1a1a" stroke="#1a1a1a" stroke-width="0.05" textLength="86.1" lengthAdjust="spacingAndGlyphs">Hazard ratio</text>
<text x="11.5" y="566.5" font-size="13.6" text-anchor="middle" fill="#1a1a1a" stroke="#1a1a1a" stroke-width="0.05" textLength="23.0" lengthAdjust="spacingAndGlyphs" transform="rotate(-90 11.5 566.5)">IDP</text>
<text x="349.8" y="435.3" font-size="18.5" font-weight="bold" fill="#1a1a1a" stroke="#1a1a1a" stroke-width="0.5" textLength="12.4" lengthAdjust="spacingAndGlyphs">C</text>
<line x1="432.6" y1="497.3" x2="432.6" y2="677.0" stroke="#2b2b2b" stroke-width="1.2"/>
<polygon points="431.6,595.0 431.4,595.6 431.2,596.4 430.9,597.3 430.6,598.3 430.3,599.4 429.9,600.5 429.5,601.6 429.1,602.7 428.6,603.8 428.2,604.9 427.6,606.0 427.1,607.2 426.5,608.3 425.9,609.4 425.3,610.5 424.7,611.5 424.1,612.4 423.4,613.3 422.6,614.2 421.9,615.0 421.2,615.8 420.5,616.6 419.8,617.3 419.1,618.1 418.4,618.8 417.8,619.6 417.1,620.3 416.5,621.0 415.9,621.7 415.3,622.3 414.8,623.0 414.4,623.6 414.0,624.2 413.7,624.7 413.4,625.3 413.2,625.8 413.1,626.3 413.0,626.8 413.0,627.4 413.0,628.0 413.1,628.6 413.3,629.3 413.6,630.0 414.0,630.7 414.4,631.4 414.8,632.1 415.3,632.8 415.8,633.6 416.4,634.4 417.0,635.2 417.7,636.0 418.4,636.8 419.1,637.7 419.9,638.5 420.6,639.4 421.3,640.2 422.0,641.0 422.7,641.9 423.5,642.7 424.2,643.5 425.0,644.3 425.7,645.1 426.3,646.0 426.9,646.8 427.4,647.6 427.9,648.5 428.4,649.4 428.8,650.2 429.2,651.1 429.5,651.9 429.9,652.7 430.2,653.4 430.5,654.1 430.8,654.8 431.0,655.5 431.2,656.1 431.4,656.7 431.6,657.2 431.7,657.7 431.8,658.0 433.4,658.0 433.5,657.7 433.6,657.2 433.8,656.7 434.0,656.1 434.2,655.5 434.4,654.8 434.7,654.1 435.0,653.4 435.3,652.7 435.7,651.9 436.0,651.1 436.4,650.2 436.8,649.4 437.3,648.5 437.8,647.6 438.3,646.8 438.9,646.0 439.5,645.1 440.2,644.3 441.0,643.5 441.7,642.7 442.5,641.9 443.2,641.0 443.9,640.2 444.6,639.4 445.3,638.5 446.1,637.7 446.8,636.8 447.5,636.0 448.2,635.2 448.8,634.4 449.4,633.6 449.9,632.8 450.4,632.1 450.8,631.4 451.2,630.7 451.6,630.0 451.9,629.3 452.1,628.6 452.2,628.0 452.2,627.4 452.2,626.8 452.1,626.3 452.0,625.8 451.8,625.3 451.5,624.7 451.2,624.2 450.8,623.6 450.4,623.0 449.9,622.3 449.3,621.7 448.7,621.0 448.1,620.3 447.4,619.6 446.8,618.8 446.1,618.1 445.4,617.3 444.7,616.6 444.0,615.8 443.3,615.0 442.6,614.2 441.8,613.3 441.1,612.4 440.5,611.5 439.9,610.5 439.3,609.4 438.7,608.3 438.1,607.2 437.6,606.0 437.0,604.9 436.6,603.8 436.1,602.7 435.7,601.6 435.3,600.5 434.9,599.4 434.6,598.3 434.3,597.3 434.0,596.4 433.8,595.6 433.6,595.0" fill="#efdce5" stroke="#2b2b2b" stroke-width="1.45" stroke-linejoin="round"/>
<line x1="465.0" y1="433.9" x2="465.0" y2="674.0" stroke="#2b2b2b" stroke-width="1.2"/>
<polygon points="464.0,569.5 463.8,570.4 463.6,571.5 463.3,573.0 463.0,574.5 462.7,576.1 462.3,577.8 462.0,579.3 461.6,580.7 461.2,582.0 460.8,583.2 460.4,584.4 460.0,585.6 459.6,586.8 459.1,587.9 458.6,589.1 458.1,590.3 457.5,591.5 456.9,592.8 456.3,594.0 455.7,595.2 455.0,596.5 454.4,597.7 453.8,598.9 453.3,600.0 452.8,601.1 452.4,602.3 452.0,603.4 451.6,604.5 451.2,605.6 450.9,606.6 450.6,607.5 450.4,608.3 450.2,609.0 450.1,609.6 450.0,610.0 450.0,610.5 450.0,610.9 450.0,611.2 450.0,611.6 450.0,612.0 450.0,612.4 450.0,612.7 450.0,613.0 450.0,613.2 450.0,613.6 450.1,614.0 450.2,614.5 450.4,615.2 450.6,616.1 450.9,617.2 451.2,618.4 451.6,619.7 452.0,621.0 452.4,622.3 452.8,623.6 453.3,624.8 453.8,625.9 454.4,627.0 455.0,628.0 455.6,629.0 456.3,630.0 456.9,631.1 457.5,632.1 458.1,633.1 458.7,634.1 459.2,635.2 459.8,636.3 460.3,637.3 460.8,638.4 461.3,639.4 461.8,640.4 462.2,641.4 462.6,642.4 462.9,643.4 463.2,644.5 463.5,645.5 463.8,646.4 464.0,647.3 464.2,648.0 464.3,648.5 465.7,648.5 465.8,648.0 466.0,647.3 466.2,646.4 466.5,645.5 466.8,644.5 467.1,643.4 467.4,642.4 467.8,641.4 468.2,640.4 468.7,639.4 469.2,638.4 469.7,637.3 470.2,636.3 470.8,635.2 471.3,634.1 471.9,633.1 472.5,632.1 473.1,631.1 473.7,630.0 474.4,629.0 475.0,628.0 475.6,627.0 476.2,625.9 476.7,624.8 477.2,623.6 477.6,622.3 478.0,621.0 478.4,619.7 478.8,618.4 479.1,617.2 479.4,616.1 479.6,615.2 479.8,614.5 479.9,614.0 480.0,613.6 480.0,613.2 480.0,613.0 480.0,612.7 480.0,612.4 480.0,612.0 480.0,611.6 480.0,611.2 480.0,610.9 480.0,610.5 480.0,610.0 479.9,609.6 479.8,609.0 479.6,608.3 479.4,607.5 479.1,606.6 478.8,605.6 478.4,604.5 478.0,603.4 477.6,602.3 477.2,601.1 476.7,600.0 476.2,598.9 475.6,597.7 475.0,596.5 474.3,595.2 473.7,594.0 473.1,592.8 472.5,591.5 471.9,590.3 471.4,589.1 470.9,587.9 470.4,586.8 470.0,585.6 469.6,584.4 469.2,583.2 468.8,582.0 468.4,580.7 468.0,579.3 467.7,577.8 467.3,576.1 467.0,574.5 466.7,573.0 466.4,571.5 466.2,570.4 466.0,569.5" fill="#dbebf5" stroke="#2b2b2b" stroke-width="1.45" stroke-linejoin="round"/>
<polygon points="518.4,469.5 518.4,473.4 518.4,478.7 518.4,485.0 518.4,491.9 518.4,499.2 518.4,506.6 518.4,513.6 518.4,520.0 518.3,526.1 518.3,532.3 518.3,538.6 518.3,544.7 518.2,550.6 518.2,556.0 518.2,560.9 518.1,565.0 518.0,568.4 518.0,571.0 517.9,573.1 517.8,574.8 517.7,576.2 517.6,577.4 517.4,578.6 517.3,579.9 517.2,581.2 517.0,582.2 516.9,583.1 516.7,583.9 516.5,584.7 516.3,585.5 516.0,586.4 515.7,587.4 515.3,588.6 514.8,589.9 514.3,591.2 513.8,592.6 513.2,594.1 512.6,595.5 512.0,596.9 511.5,598.2 511.0,599.5 510.4,600.8 509.9,602.0 509.3,603.2 508.8,604.5 508.3,605.7 507.8,606.9 507.4,608.1 507.0,609.3 506.7,610.5 506.3,611.6 506.0,612.8 505.8,613.9 505.6,615.0 505.4,616.2 505.4,617.3 505.4,618.4 505.6,619.6 505.7,620.7 506.0,621.8 506.3,622.9 506.6,624.1 507.0,625.2 507.4,626.4 507.9,627.6 508.5,628.8 509.1,630.0 509.8,631.3 510.4,632.5 511.1,633.8 511.7,635.1 512.3,636.3 512.8,637.5 513.3,638.8 513.8,640.0 514.2,641.3 514.6,642.5 515.0,643.8 515.4,645.0 515.7,646.3 516.0,647.6 516.3,648.8 516.5,650.1 516.7,651.3 516.9,652.6 517.1,653.8 517.2,655.1 517.4,656.3 517.5,657.6 517.7,659.0 517.8,660.5 517.9,661.9 517.9,663.2 518.0,664.4 518.1,665.4 518.1,666.2 519.3,666.2 519.3,665.4 519.4,664.4 519.5,663.2 519.5,661.9 519.6,660.5 519.7,659.0 519.9,657.6 520.0,656.3 520.2,655.1 520.3,653.8 520.5,652.6 520.7,651.3 520.9,650.1 521.1,648.8 521.4,647.6 521.7,646.3 522.0,645.0 522.4,643.8 522.8,642.5 523.2,641.3 523.6,640.0 524.1,638.8 524.6,637.5 525.1,636.3 525.7,635.1 526.3,633.8 527.0,632.5 527.6,631.3 528.3,630.0 528.9,628.8 529.5,627.6 530.0,626.4 530.4,625.2 530.8,624.1 531.1,622.9 531.4,621.8 531.7,620.7 531.8,619.6 532.0,618.4 532.0,617.3 532.0,616.2 531.8,615.0 531.6,613.9 531.4,612.8 531.1,611.6 530.7,610.5 530.4,609.3 530.0,608.1 529.6,606.9 529.1,605.7 528.6,604.5 528.1,603.2 527.5,602.0 527.0,600.8 526.4,599.5 525.9,598.2 525.4,596.9 524.8,595.5 524.2,594.1 523.6,592.6 523.1,591.2 522.6,589.9 522.1,588.6 521.7,587.4 521.4,586.4 521.1,585.5 520.9,584.7 520.7,583.9 520.5,583.1 520.4,582.2 520.2,581.2 520.1,579.9 520.0,578.6 519.8,577.4 519.7,576.2 519.6,574.8 519.5,573.1 519.4,571.0 519.4,568.4 519.3,565.0 519.2,560.9 519.2,556.0 519.2,550.6 519.1,544.7 519.1,538.6 519.1,532.3 519.1,526.1 519.1,520.0 519.0,513.6 519.0,506.6 519.0,499.2 519.0,491.9 519.0,485.0 519.0,478.7 519.0,473.4 519.0,469.5" fill="#efdce5" stroke="#2b2b2b" stroke-width="1.45" stroke-linejoin="round"/>
<polygon points="550.5,434.5 550.5,438.1 550.4,442.9 550.4,448.7 550.4,455.1 550.3,461.7 550.3,468.3 550.2,474.5 550.2,480.0 550.2,485.0 550.1,490.0 550.1,494.8 550.0,499.4 550.0,503.8 549.9,507.9 549.9,511.7 549.8,515.0 549.7,517.8 549.7,520.1 549.6,521.9 549.6,523.5 549.5,524.9 549.4,526.4 549.4,528.1 549.3,530.0 549.2,532.2 549.2,534.6 549.1,537.1 549.0,539.7 549.0,542.2 548.9,544.7 548.8,547.1 548.7,549.4 548.6,551.5 548.5,553.6 548.4,555.5 548.2,557.5 548.1,559.3 548.0,561.2 547.8,563.0 547.6,564.8 547.4,566.6 547.1,568.3 546.9,570.0 546.6,571.7 546.3,573.4 546.0,575.0 545.8,576.7 545.5,578.4 545.3,580.1 545.0,581.9 544.7,583.6 544.5,585.4 544.3,587.1 544.1,588.8 543.9,590.4 543.7,591.9 543.6,593.3 543.5,594.6 543.4,595.8 543.3,597.0 543.2,598.1 543.2,599.3 543.2,600.4 543.2,601.6 543.2,602.8 543.3,604.0 543.3,605.2 543.4,606.5 543.5,607.7 543.6,608.9 543.7,610.1 543.8,611.3 543.9,612.5 544.1,613.7 544.3,614.9 544.4,616.2 544.6,617.4 544.8,618.6 545.0,619.8 545.2,621.0 545.4,622.2 545.6,623.4 545.8,624.5 546.0,625.7 546.2,626.9 546.4,628.1 546.6,629.3 546.8,630.6 547.0,632.0 547.2,633.4 547.5,634.9 547.7,636.4 548.0,637.9 548.2,639.4 548.4,640.8 548.6,642.2 548.8,643.5 549.0,644.8 549.1,646.0 549.3,647.2 549.5,648.3 549.6,649.5 549.8,650.7 549.9,651.9 550.0,653.2 550.2,654.6 550.3,656.0 550.4,657.4 550.5,658.7 550.6,659.9 550.6,660.9 550.7,661.6 551.3,661.6 551.4,660.9 551.4,659.9 551.5,658.7 551.6,657.4 551.7,656.0 551.8,654.6 552.0,653.2 552.1,651.9 552.2,650.7 552.4,649.5 552.5,648.3 552.7,647.2 552.9,646.0 553.0,644.8 553.2,643.5 553.4,642.2 553.6,640.8 553.8,639.4 554.0,637.9 554.3,636.4 554.5,634.9 554.8,633.4 555.0,632.0 555.2,630.6 555.4,629.3 555.6,628.1 555.8,626.9 556.0,625.7 556.2,624.5 556.4,623.4 556.6,622.2 556.8,621.0 557.0,619.8 557.2,618.6 557.4,617.4 557.6,616.2 557.7,614.9 557.9,613.7 558.1,612.5 558.2,611.3 558.3,610.1 558.4,608.9 558.5,607.7 558.6,606.5 558.7,605.2 558.7,604.0 558.8,602.8 558.8,601.6 558.8,600.4 558.8,599.3 558.8,598.1 558.7,597.0 558.6,595.8 558.5,594.6 558.4,593.3 558.3,591.9 558.1,590.4 557.9,588.8 557.7,587.1 557.5,585.4 557.3,583.6 557.0,581.9 556.7,580.1 556.5,578.4 556.2,576.7 556.0,575.0 555.7,573.4 555.4,571.7 555.1,570.0 554.9,568.3 554.6,566.6 554.4,564.8 554.2,563.0 554.0,561.2 553.9,559.3 553.8,557.5 553.6,555.5 553.5,553.6 553.4,551.5 553.3,549.4 553.2,547.1 553.1,544.7 553.0,542.2 553.0,539.7 552.9,537.1 552.8,534.6 552.8,532.2 552.7,530.0 552.6,528.1 552.6,526.4 552.5,524.9 552.4,523.5 552.4,521.9 552.3,520.1 552.3,517.8 552.2,515.0 552.1,511.7 552.1,507.9 552.0,503.8 552.0,499.4 551.9,494.8 551.9,490.0 551.8,485.0 551.8,480.0 551.8,474.5 551.7,468.3 551.7,461.7 551.6,455.1 551.6,448.7 551.6,442.9 551.5,438.1 551.5,434.5" fill="#dbebf5" stroke="#2b2b2b" stroke-width="1.45" stroke-linejoin="round"/>
<line x1="432.6" y1="596.0" x2="432.6" y2="657.0" stroke="#cb4a78" stroke-width="1.3"/>
<rect x="429.9" y="618.1" width="5.5" height="17.7" fill="#cb4a78" fill-opacity="0.75" stroke="#cb4a78" stroke-width="0.8"/>
<line x1="429.9" y1="627.0" x2="435.4" y2="627.0" stroke="#cb4a78" stroke-width="1.0" stroke-opacity="0.6"/>
<line x1="465.0" y1="570.0" x2="465.0" y2="649.0" stroke="#5b9bd5" stroke-width="1.3"/>
<rect x="462.2" y="599.3" width="5.6" height="22.1" fill="#5b9bd5" fill-opacity="0.75" stroke="#5b9bd5" stroke-width="0.8"/>
<line x1="462.2" y1="610.3" x2="467.8" y2="610.3" stroke="#5b9bd5" stroke-width="1.0" stroke-opacity="0.6"/>
<line x1="518.7" y1="592.4" x2="518.7" y2="647.1" stroke="#cb4a78" stroke-width="1.3"/>
<rect x="515.8" y="608.1" width="5.8" height="22.4" fill="#cb4a78" fill-opacity="0.75" stroke="#cb4a78" stroke-width="0.8"/>
<line x1="515.8" y1="619.3" x2="521.6" y2="619.3" stroke="#cb4a78" stroke-width="1.0" stroke-opacity="0.6"/>
<line x1="551.0" y1="490.0" x2="551.0" y2="662.0" stroke="#5b9bd5" stroke-width="1.3"/>
<rect x="548.4" y="563.9" width="5.2" height="48.4" fill="#5b9bd5" fill-opacity="0.75" stroke="#5b9bd5" stroke-width="0.8"/>
<line x1="548.4" y1="588.1" x2="553.6" y2="588.1" stroke="#5b9bd5" stroke-width="1.0" stroke-opacity="0.6"/>
<rect x="429.3" y="537.0" width="6.6" height="59.0" rx="3.3" fill="#cb4a78"/>
<g fill="#cb4a78" fill-opacity="0.85"><circle cx="432.6" cy="497.3" r="3.3"/><circle cx="432.6" cy="510.8" r="3.3"/><circle cx="432.6" cy="516.0" r="3.3"/><circle cx="432.6" cy="528.2" r="3.3"/><circle cx="432.6" cy="531.0" r="3.3"/></g>
<rect x="429.3" y="655.0" width="6.6" height="25.0" rx="3.3" fill="#cb4a78"/>
<rect x="461.7" y="492.0" width="6.6" height="77.0" rx="3.3" fill="#5b9bd5"/>
<g fill="#5b9bd5" fill-opacity="0.85"><circle cx="465.0" cy="433.9" r="3.3"/><circle cx="465.0" cy="437.8" r="3.3"/><circle cx="465.0" cy="455.7" r="3.3"/><circle cx="465.0" cy="462.9" r="3.3"/><circle cx="465.0" cy="468.3" r="3.3"/><circle cx="465.0" cy="471.5" r="3.3"/><circle cx="465.0" cy="478.5" r="3.3"/><circle cx="465.0" cy="481.5" r="3.3"/><circle cx="465.0" cy="484.5" r="3.3"/><circle cx="465.0" cy="487.5" r="3.3"/><circle cx="465.0" cy="492.0" r="3.3"/></g>
<rect x="461.7" y="648.0" width="6.6" height="27.0" rx="3.3" fill="#5b9bd5"/>
<g fill="#cb4a78" fill-opacity="0.85"><circle cx="518.7" cy="469.3" r="3.3"/><circle cx="518.7" cy="669.2" r="3.3"/></g>
<g fill="#5b9bd5" fill-opacity="0.85"><circle cx="551.0" cy="435.1" r="3.3"/><circle cx="551.0" cy="444.2" r="3.3"/><circle cx="551.0" cy="450.5" r="3.3"/><circle cx="551.0" cy="471.0" r="3.3"/><circle cx="551.0" cy="474.5" r="3.3"/><circle cx="551.0" cy="483.4" r="3.3"/></g>
<line x1="420.0" y1="589.3" x2="445.0" y2="589.3" stroke="#cb4a78" stroke-width="2.8"/>
<line x1="453.2" y1="553.4" x2="477.4" y2="553.4" stroke="#5b9bd5" stroke-width="2.8"/>
<line x1="506.6" y1="589.1" x2="530.9" y2="589.1" stroke="#cb4a78" stroke-width="2.8"/>
<line x1="539.2" y1="553.4" x2="563.4" y2="553.4" stroke="#5b9bd5" stroke-width="2.8"/>
<line x1="397.5" y1="540.8" x2="586.5" y2="540.8" stroke="#000" stroke-width="2.3"/>
<line x1="397.5" y1="422.3" x2="397.5" y2="689.3" stroke="#222" stroke-width="1.3"/>
<line x1="396.9" y1="688.7" x2="586.5" y2="688.7" stroke="#222" stroke-width="1.3"/>
<line x1="394.2" y1="642.1" x2="397.5" y2="642.1" stroke="#333" stroke-width="1.1"/>
<text x="390.4" y="645.7" font-size="10.5" text-anchor="end" fill="#4d4d4d" stroke="#4d4d4d" stroke-width="0.1" textLength="20.8" lengthAdjust="spacingAndGlyphs">300</text>
<line x1="394.2" y1="566.3" x2="397.5" y2="566.3" stroke="#333" stroke-width="1.1"/>
<text x="390.4" y="569.9" font-size="10.5" text-anchor="end" fill="#4d4d4d" stroke="#4d4d4d" stroke-width="0.1" textLength="20.8" lengthAdjust="spacingAndGlyphs">600</text>
<line x1="394.2" y1="490.5" x2="397.5" y2="490.5" stroke="#333" stroke-width="1.1"/>
<text x="390.4" y="494.1" font-size="10.5" text-anchor="end" fill="#4d4d4d" stroke="#4d4d4d" stroke-width="0.1" textLength="20.8" lengthAdjust="spacingAndGlyphs">900</text>
<line x1="448.8" y1="688.7" x2="448.8" y2="692.0" stroke="#333" stroke-width="1.1"/>
<text x="448.8" y="703.4" font-size="10.5" text-anchor="middle" fill="#4d4d4d" stroke="#4d4d4d" stroke-width="0.1" textLength="34.0" lengthAdjust="spacingAndGlyphs">FALSE</text>
<line x1="535.0" y1="688.7" x2="535.0" y2="692.0" stroke="#333" stroke-width="1.1"/>
<text x="535.0" y="703.4" font-size="10.5" text-anchor="middle" fill="#4d4d4d" stroke="#4d4d4d" stroke-width="0.1" textLength="30.4" lengthAdjust="spacingAndGlyphs">TRUE</text>
<text x="491.4" y="719.6" font-size="13.6" text-anchor="middle" fill="#1a1a1a" stroke="#1a1a1a" stroke-width="0.05" textLength="143.4" lengthAdjust="spacingAndGlyphs">Aneurysm diagnosis</text>
<text x="364.0" y="556.5" fill="#1a1a1a" font-size="13.6" text-anchor="middle" transform="rotate(-90 364.0 556.5)" textLength="212" lengthAdjust="spacingAndGlyphs">Infrarenal Aorta CSA mm mm<tspan font-size="9.5" dy="-5">2</tspan></text>
<rect x="608.9" y="544.6" width="20.3" height="19.6" fill="#efdce5" stroke="#333" stroke-width="1.4"/>
<rect x="608.9" y="566.9" width="20.3" height="19.9" fill="#dbebf5" stroke="#333" stroke-width="1.4"/>
<text x="637.8" y="559.2" font-size="11.2" fill="#1a1a1a" stroke="#1a1a1a" stroke-width="0.12" textLength="40.4" lengthAdjust="spacingAndGlyphs">Female</text>
<text x="637.8" y="581.4" font-size="11.2" fill="#1a1a1a" stroke="#1a1a1a" stroke-width="0.12" textLength="26.1" lengthAdjust="spacingAndGlyphs">Male</text>
</svg>
</body></html>
